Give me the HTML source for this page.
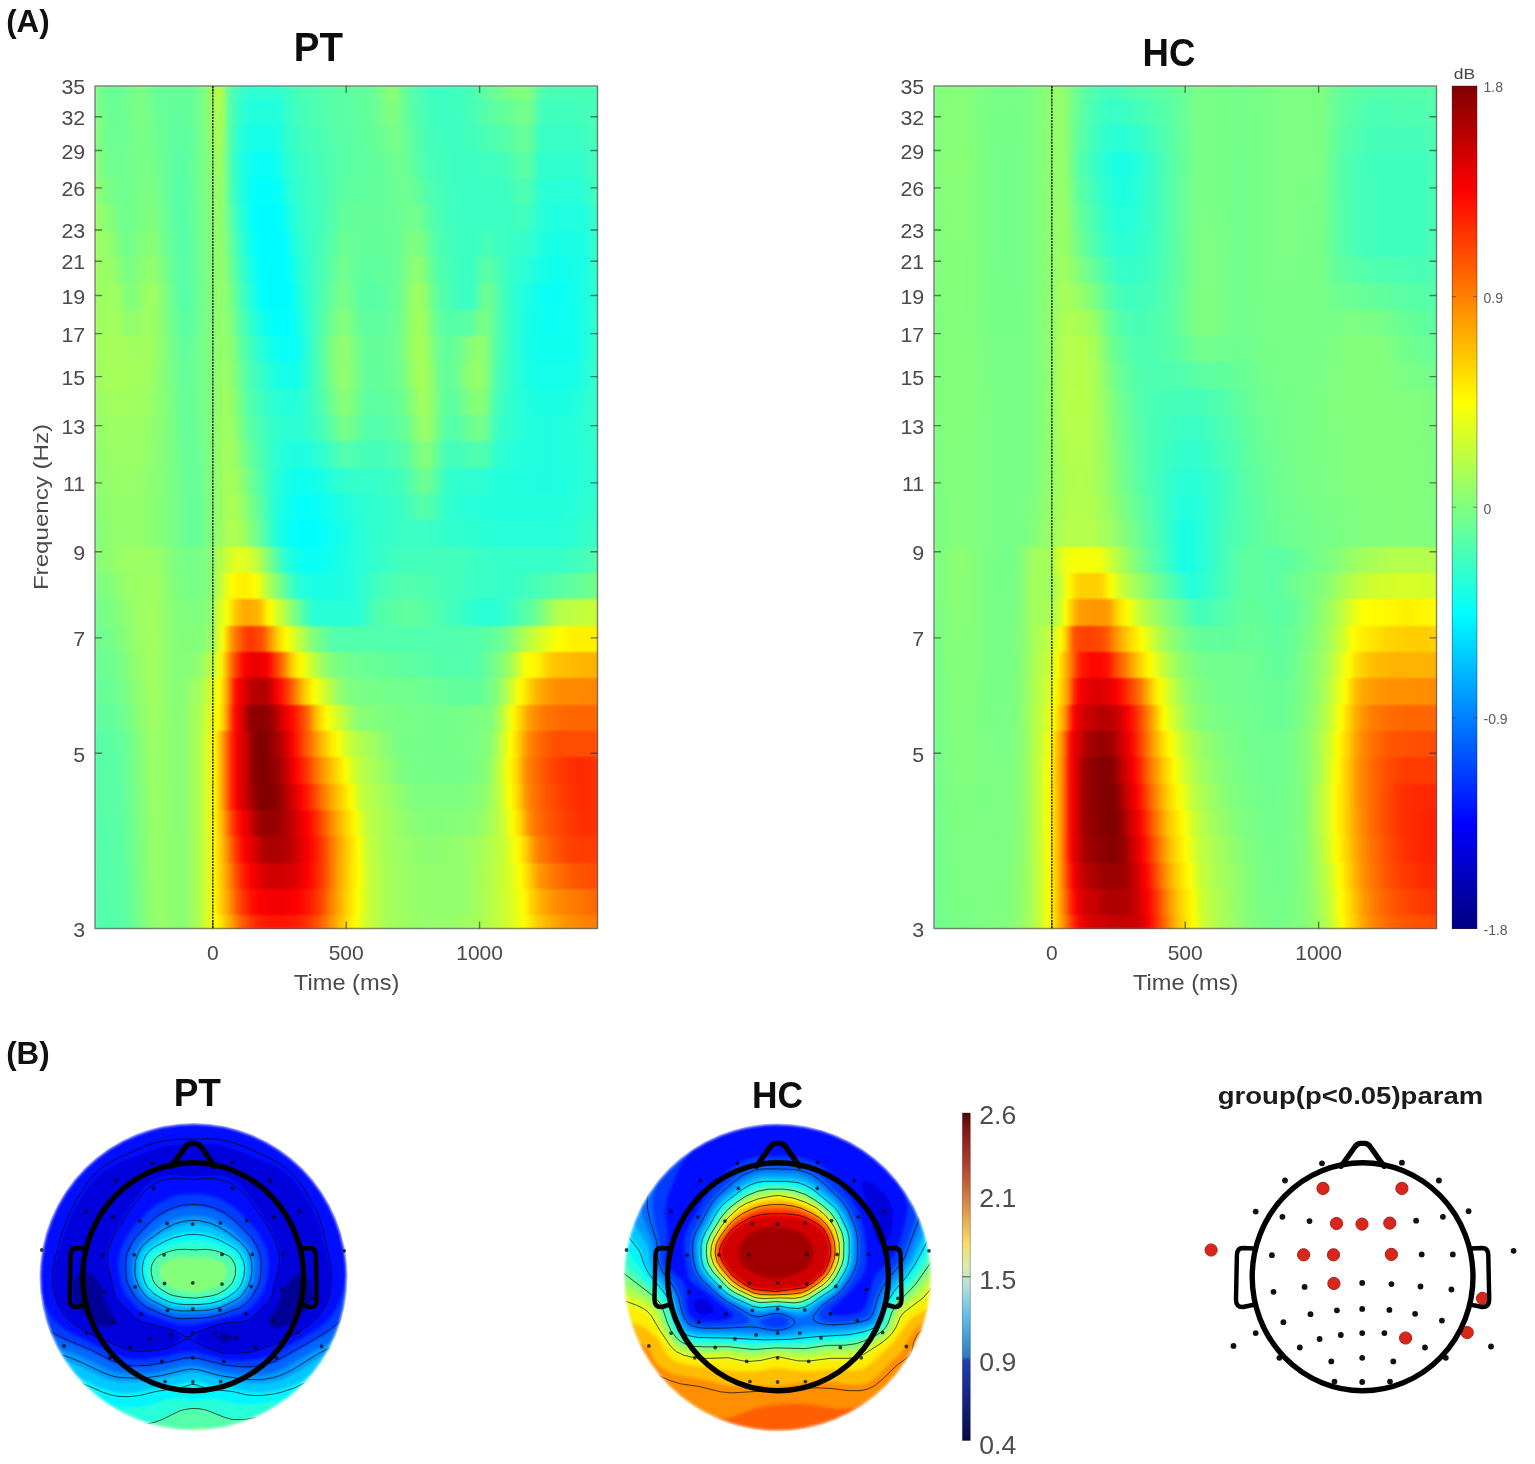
<!DOCTYPE html>
<html lang="en"><head><meta charset="utf-8"><title>Time-frequency and topography figure</title>
<style>
html,body{margin:0;padding:0;background:#fff}
body{width:1535px;height:1464px;position:relative;overflow:hidden;font-family:"Liberation Sans",sans-serif}
.hm{position:absolute;top:86px;width:502.5px;height:842.5px;overflow:hidden}
.hb{position:absolute;left:0;top:0;width:100%;height:100%;filter:blur(1px)}
.hm i{position:absolute;left:0;width:100%;display:block}
.cb{position:absolute}
svg{position:absolute;left:0;top:0}
text{font-family:"Liberation Sans",sans-serif}
</style></head><body>
<div class="hm" style="left:95px"><div class="hb">
<i style="top:0.00px;height:13.76px;background:linear-gradient(90deg,#82ff7d,#78ff87,#70ff8f,#6bff94,#67ff98,#66ff99,#67ff98,#6bff94,#70ff8f,#75ff8a,#79ff86,#7cff83,#7bff84,#76ff89,#6fff90,#69ff96,#66ff99,#66ff99,#66ff99,#66ff99,#66ff99,#66ff99,#66ff99,#66ff99,#66ff99,#69ff96,#71ff8e,#7bff84,#88ff77,#9fff60,#adff52,#b5ff4a,#a7ff58,#75ff8a,#56ffa9,#48ffb7,#3dffc2,#34ffcb,#2fffd0,#2dffd2,#2dffd2,#2dffd2,#2dffd2,#2dffd2,#2dffd2,#2dffd2,#2fffd0,#32ffcd,#38ffc7,#3effc1,#44ffbb,#48ffb7,#4bffb4,#4effb1,#50ffaf,#51ffae,#53ffac,#55ffaa,#56ffa9,#58ffa7,#59ffa6,#5bffa4,#5cffa3,#5dffa2,#5effa1,#5fffa0,#60ff9f,#62ff9d,#64ff9b,#66ff99,#6bff94,#73ff8c,#7dff82,#85ff7a,#8bff74,#8aff75,#7fff80,#6fff90,#61ff9e,#58ffa7,#52ffad,#4dffb2,#48ffb7,#43ffbc,#40ffbf,#3dffc2,#3cffc3,#3cffc3,#3cffc3,#3effc1,#3fffc0,#41ffbe,#44ffbb,#47ffb8,#4affb5,#4effb1,#54ffab,#5affa5,#61ff9e,#66ff99,#6aff95,#6eff91,#72ff8d,#76ff89,#79ff86,#7dff82,#7fff80,#81ff7e,#82ff7d,#7eff81,#6fff90,#5dffa2,#4fffb0,#4affb5,#4affb5,#4affb5,#4affb5,#4affb5,#4affb5,#4affb5,#4affb5,#4affb5,#4affb5,#4affb5,#4affb5,#4affb5,#4affb5)"></i>
<i style="top:13.16px;height:26.93px;background:linear-gradient(90deg,#85ff7a,#7cff83,#74ff8b,#6eff91,#6aff95,#69ff96,#6aff95,#6cff93,#70ff8f,#74ff8b,#78ff87,#7aff85,#7aff85,#76ff89,#72ff8d,#6dff92,#69ff96,#67ff98,#66ff99,#64ff9b,#63ff9c,#62ff9d,#62ff9d,#63ff9c,#65ff9a,#69ff96,#70ff8f,#7aff85,#86ff79,#99ff66,#a6ff59,#adff52,#a0ff5f,#73ff8c,#53ffac,#42ffbd,#36ffc9,#2dffd2,#27ffd8,#23ffdc,#22ffdd,#22ffdd,#22ffdd,#22ffdd,#22ffdd,#22ffdd,#25ffda,#2bffd4,#33ffcc,#39ffc6,#3fffc0,#43ffbc,#46ffb9,#48ffb7,#4bffb4,#4dffb2,#4fffb0,#51ffae,#53ffac,#55ffaa,#57ffa8,#59ffa6,#5affa5,#5cffa3,#5dffa2,#5effa1,#5fffa0,#61ff9e,#62ff9d,#64ff9b,#68ff97,#6dff92,#75ff8a,#7bff84,#80ff7f,#80ff7f,#7aff85,#6fff90,#64ff9b,#5cffa3,#56ffa9,#50ffaf,#4bffb4,#46ffb9,#43ffbc,#40ffbf,#3fffc0,#3effc1,#3effc1,#3effc1,#3fffc0,#40ffbf,#42ffbd,#43ffbc,#45ffba,#48ffb7,#4dffb2,#51ffae,#56ffa9,#59ffa6,#5cffa3,#5fffa0,#62ff9d,#65ff9a,#69ff96,#6cff93,#70ff8f,#73ff8c,#74ff8b,#70ff8f,#61ff9e,#50ffaf,#45ffba,#41ffbe,#41ffbe,#41ffbe,#41ffbe,#41ffbe,#41ffbe,#41ffbe,#41ffbe,#42ffbd,#43ffbc,#44ffbb,#46ffb9,#48ffb7,#4affb5)"></i>
<i style="top:39.49px;height:26.93px;background:linear-gradient(90deg,#87ff78,#7fff80,#77ff88,#70ff8f,#6cff93,#6bff94,#6cff93,#6eff91,#70ff8f,#74ff8b,#76ff89,#78ff87,#79ff86,#77ff88,#74ff8b,#70ff8f,#6cff93,#69ff96,#65ff9a,#62ff9d,#5fffa0,#5effa1,#5effa1,#60ff9f,#63ff9c,#69ff96,#70ff8f,#7aff85,#84ff7b,#93ff6c,#9fff60,#a5ff5a,#99ff66,#71ff8e,#51ffae,#3cffc3,#2fffd0,#26ffd9,#1effe1,#19ffe6,#17ffe8,#16ffe9,#16ffe9,#16ffe9,#16ffe9,#17ffe8,#1cffe3,#25ffda,#2effd1,#34ffcb,#39ffc6,#3effc1,#41ffbe,#43ffbc,#46ffb9,#48ffb7,#4affb5,#4dffb2,#4fffb0,#52ffad,#54ffab,#57ffa8,#59ffa6,#5affa5,#5cffa3,#5dffa2,#5effa1,#5fffa0,#61ff9e,#62ff9d,#65ff9a,#68ff97,#6dff92,#71ff8e,#74ff8b,#76ff89,#75ff8a,#6fff90,#67ff98,#60ff9f,#5affa5,#54ffab,#4effb1,#49ffb6,#46ffb9,#43ffbc,#41ffbe,#40ffbf,#3fffc0,#3fffc0,#3fffc0,#3fffc0,#3fffc0,#40ffbf,#41ffbe,#43ffbc,#45ffba,#48ffb7,#4bffb4,#4dffb2,#4effb1,#50ffaf,#52ffad,#55ffaa,#59ffa6,#5effa1,#63ff9c,#66ff99,#68ff97,#64ff9b,#54ffab,#43ffbc,#3bffc4,#39ffc6,#39ffc6,#39ffc6,#39ffc6,#39ffc6,#39ffc6,#39ffc6,#39ffc6,#3affc5,#3cffc3,#3fffc0,#42ffbd,#46ffb9,#4affb5)"></i>
<i style="top:65.82px;height:26.93px;background:linear-gradient(90deg,#8aff75,#82ff7d,#7aff85,#74ff8b,#6fff90,#6eff91,#6eff91,#6fff90,#71ff8e,#73ff8c,#75ff8a,#77ff88,#77ff88,#78ff87,#77ff88,#74ff8b,#6fff90,#6aff95,#65ff9a,#60ff9f,#5cffa3,#5affa5,#5affa5,#5dffa2,#62ff9d,#68ff97,#70ff8f,#79ff86,#82ff7d,#8dff72,#98ff67,#9eff61,#92ff6d,#70ff8f,#4effb1,#35ffca,#29ffd6,#1effe1,#16ffe9,#0ffff0,#0bfff4,#0afff5,#0afff5,#0afff5,#0afff5,#0cfff3,#13ffec,#1effe1,#28ffd7,#30ffcf,#34ffcb,#38ffc7,#3bffc4,#3effc1,#41ffbe,#44ffbb,#46ffb9,#49ffb6,#4bffb4,#4effb1,#51ffae,#54ffab,#57ffa8,#59ffa6,#5affa5,#5cffa3,#5dffa2,#5effa1,#5fffa0,#60ff9f,#61ff9e,#63ff9c,#65ff9a,#68ff97,#6aff95,#6dff92,#70ff8f,#6eff91,#6aff95,#65ff9a,#5effa1,#58ffa7,#51ffae,#4cffb3,#49ffb6,#46ffb9,#44ffbb,#42ffbd,#41ffbe,#40ffbf,#3effc1,#3effc1,#3dffc2,#3dffc2,#3dffc2,#3effc1,#3effc1,#3fffc0,#40ffbf,#40ffbf,#41ffbe,#41ffbe,#42ffbd,#45ffba,#4affb5,#50ffaf,#55ffaa,#5affa5,#5cffa3,#58ffa7,#47ffb8,#36ffc9,#31ffce,#31ffce,#31ffce,#31ffce,#31ffce,#31ffce,#31ffce,#31ffce,#31ffce,#32ffcd,#35ffca,#39ffc6,#3effc1,#44ffbb,#4affb5)"></i>
<i style="top:92.15px;height:26.93px;background:linear-gradient(90deg,#91ff6e,#8aff75,#83ff7c,#7dff82,#78ff87,#74ff8b,#71ff8e,#70ff8f,#70ff8f,#72ff8d,#75ff8a,#77ff88,#79ff86,#7bff84,#7bff84,#78ff87,#73ff8c,#6cff93,#66ff99,#5fffa0,#5bffa4,#58ffa7,#59ffa6,#5cffa3,#61ff9e,#68ff97,#6fff90,#78ff87,#7fff80,#89ff76,#93ff6c,#98ff67,#8eff71,#72ff8d,#53ffac,#3affc5,#2cffd3,#20ffdf,#15ffea,#0cfff3,#05fffa,#02fffd,#02fffd,#02fffd,#02fffd,#03fffc,#09fff6,#12ffed,#1effe1,#28ffd7,#2fffd0,#33ffcc,#37ffc8,#3bffc4,#3effc1,#41ffbe,#43ffbc,#47ffb8,#4affb5,#4effb1,#53ffac,#57ffa8,#5bffa4,#5cffa3,#5effa1,#5fffa0,#5fffa0,#60ff9f,#61ff9e,#61ff9e,#62ff9d,#63ff9c,#64ff9b,#65ff9a,#66ff99,#69ff96,#6dff92,#6eff91,#6dff92,#6bff94,#67ff98,#61ff9e,#5bffa4,#55ffaa,#4fffb0,#4bffb4,#47ffb8,#45ffba,#43ffbc,#41ffbe,#3fffc0,#3effc1,#3cffc3,#3cffc3,#3cffc3,#3cffc3,#3cffc3,#3cffc3,#3cffc3,#3cffc3,#3cffc3,#3cffc3,#3cffc3,#3effc1,#41ffbe,#46ffb9,#4affb5,#4dffb2,#4fffb0,#4affb5,#3dffc2,#2fffd0,#2bffd4,#2affd5,#29ffd6,#28ffd7,#28ffd7,#28ffd7,#28ffd7,#28ffd7,#28ffd7,#2affd5,#2cffd3,#31ffce,#37ffc8,#3effc1,#45ffba)"></i>
<i style="top:118.48px;height:26.93px;background:linear-gradient(90deg,#9aff65,#95ff6a,#90ff6f,#8aff75,#84ff7b,#7dff82,#75ff8a,#70ff8f,#6fff90,#72ff8d,#75ff8a,#79ff86,#7cff83,#7fff80,#80ff7f,#7dff82,#77ff88,#6fff90,#67ff98,#60ff9f,#5bffa4,#58ffa7,#58ffa7,#5bffa4,#60ff9f,#67ff98,#6dff92,#75ff8a,#7dff82,#86ff79,#90ff6f,#95ff6a,#8dff72,#77ff88,#5dffa2,#45ffba,#35ffca,#27ffd8,#19ffe6,#0cfff3,#02fffd,#00fcff,#00fcff,#00fcff,#00fcff,#00fcff,#00feff,#04fffb,#10ffef,#1effe1,#29ffd6,#2fffd0,#34ffcb,#38ffc7,#3bffc4,#3fffc0,#42ffbd,#46ffb9,#4affb5,#50ffaf,#57ffa8,#5dffa2,#62ff9d,#63ff9c,#63ff9c,#64ff9b,#64ff9b,#64ff9b,#64ff9b,#64ff9b,#65ff9a,#65ff9a,#65ff9a,#66ff99,#66ff99,#68ff97,#6bff94,#6eff91,#71ff8e,#72ff8d,#72ff8d,#6fff90,#69ff96,#61ff9e,#58ffa7,#50ffaf,#4affb5,#47ffb8,#44ffbb,#42ffbd,#40ffbf,#3effc1,#3dffc2,#3cffc3,#3cffc3,#3cffc3,#3cffc3,#3cffc3,#3cffc3,#3cffc3,#3cffc3,#3cffc3,#3cffc3,#3cffc3,#3dffc2,#3fffc0,#40ffbf,#41ffbe,#40ffbf,#3cffc3,#35ffca,#2dffd2,#28ffd7,#24ffdb,#22ffdd,#20ffdf,#20ffdf,#20ffdf,#20ffdf,#20ffdf,#20ffdf,#21ffde,#22ffdd,#26ffd9,#2dffd2,#35ffca,#3fffc0)"></i>
<i style="top:144.80px;height:26.93px;background:linear-gradient(90deg,#9fff60,#9bff64,#97ff68,#93ff6c,#8eff71,#87ff78,#7eff81,#76ff89,#73ff8c,#75ff8a,#79ff86,#7eff81,#83ff7c,#86ff79,#87ff78,#84ff7b,#7eff81,#75ff8a,#6cff93,#64ff9b,#5dffa2,#59ffa6,#58ffa7,#5bffa4,#5fffa0,#65ff9a,#6cff93,#74ff8b,#7bff84,#84ff7b,#8dff72,#93ff6c,#8eff71,#7cff83,#66ff99,#50ffaf,#3fffc0,#2fffd0,#20ffdf,#12ffed,#06fff9,#00feff,#00fcff,#00fcff,#00fcff,#00fcff,#00fcff,#00fcff,#05fffa,#14ffeb,#21ffde,#29ffd6,#2fffd0,#35ffca,#3affc5,#3effc1,#43ffbc,#48ffb7,#4dffb2,#54ffab,#5cffa3,#64ff9b,#68ff97,#69ff96,#68ff97,#66ff99,#65ff9a,#63ff9c,#63ff9c,#63ff9c,#63ff9c,#64ff9b,#64ff9b,#65ff9a,#65ff9a,#67ff98,#6aff95,#6fff90,#76ff89,#7bff84,#7fff80,#7eff81,#78ff87,#6dff92,#62ff9d,#57ffa8,#4fffb0,#4bffb4,#47ffb8,#44ffbb,#41ffbe,#3fffc0,#3dffc2,#3cffc3,#3cffc3,#3dffc2,#41ffbe,#45ffba,#46ffb9,#45ffba,#43ffbc,#40ffbf,#3effc1,#3cffc3,#3affc5,#39ffc6,#38ffc7,#36ffc9,#34ffcb,#30ffcf,#2bffd4,#26ffd9,#21ffde,#1dffe2,#1affe5,#18ffe7,#18ffe7,#19ffe6,#19ffe6,#1affe5,#1affe5,#1bffe4,#1cffe3,#20ffdf,#27ffd8,#30ffcf,#3affc5)"></i>
<i style="top:171.13px;height:26.93px;background:linear-gradient(90deg,#9fff60,#9dff62,#9bff64,#98ff67,#96ff69,#92ff6d,#8bff74,#82ff7d,#7cff83,#7bff84,#7fff80,#85ff7a,#8cff73,#91ff6e,#92ff6d,#8fff70,#88ff77,#7eff81,#73ff8c,#69ff96,#61ff9e,#5bffa4,#59ffa6,#5affa5,#5effa1,#64ff9b,#6bff94,#74ff8b,#7bff84,#84ff7b,#8dff72,#92ff6d,#90ff6f,#83ff7c,#6fff90,#5bffa4,#49ffb6,#39ffc6,#2bffd4,#1cffe3,#10ffef,#05fffa,#00feff,#00fcff,#00fcff,#00fcff,#00fcff,#00fcff,#00fdff,#0afff5,#17ffe8,#22ffdd,#2bffd4,#32ffcd,#39ffc6,#3fffc0,#45ffba,#4cffb3,#52ffad,#5affa5,#63ff9c,#6bff94,#6fff90,#6fff90,#6bff94,#67ff98,#62ff9d,#5fffa0,#5effa1,#5effa1,#5fffa0,#60ff9f,#61ff9e,#62ff9d,#64ff9b,#66ff99,#6aff95,#72ff8d,#7cff83,#85ff7a,#8cff73,#8eff71,#87ff78,#7bff84,#6cff93,#5fffa0,#55ffaa,#50ffaf,#4bffb4,#47ffb8,#43ffbc,#40ffbf,#3effc1,#3cffc3,#3cffc3,#40ffbf,#4bffb4,#56ffa9,#59ffa6,#56ffa9,#51ffae,#4affb5,#42ffbd,#3cffc3,#37ffc8,#34ffcb,#30ffcf,#2dffd2,#29ffd6,#25ffda,#21ffde,#1cffe3,#18ffe7,#15ffea,#12ffed,#11ffee,#11ffee,#12ffed,#13ffec,#14ffeb,#16ffe9,#18ffe7,#1affe5,#1fffe0,#25ffda,#2effd1,#37ffc8)"></i>
<i style="top:197.46px;height:26.93px;background:linear-gradient(90deg,#9fff60,#9eff61,#9eff61,#9eff61,#9eff61,#9dff62,#98ff67,#8eff71,#84ff7b,#81ff7e,#85ff7a,#8dff72,#95ff6a,#9bff64,#9dff62,#99ff66,#92ff6d,#87ff78,#7bff84,#6fff90,#65ff9a,#5dffa2,#59ffa6,#58ffa7,#5cffa3,#63ff9c,#6bff94,#73ff8c,#7bff84,#83ff7c,#8cff73,#92ff6d,#92ff6d,#89ff76,#79ff86,#66ff99,#54ffab,#43ffbc,#35ffca,#27ffd8,#19ffe6,#0cfff3,#02fffd,#00fcff,#00fcff,#00fcff,#00fcff,#00fcff,#00fcff,#00ffff,#0efff1,#1bffe4,#26ffd9,#2fffd0,#38ffc7,#40ffbf,#48ffb7,#50ffaf,#58ffa7,#61ff9e,#6aff95,#73ff8c,#77ff88,#75ff8a,#6fff90,#67ff98,#5fffa0,#5affa5,#59ffa6,#59ffa6,#5affa5,#5cffa3,#5dffa2,#60ff9f,#62ff9d,#65ff9a,#6aff95,#75ff8a,#82ff7d,#8fff70,#99ff66,#9dff62,#97ff68,#8aff75,#78ff87,#67ff98,#5bffa4,#54ffab,#4fffb0,#4affb5,#45ffba,#41ffbe,#3effc1,#3cffc3,#3cffc3,#44ffbb,#56ffa9,#67ff98,#6cff93,#68ff97,#5fffa0,#53ffac,#47ffb8,#3cffc3,#34ffcb,#2effd1,#29ffd6,#24ffdb,#1fffe0,#1affe5,#16ffe9,#12ffed,#0ffff0,#0cfff3,#0afff5,#0afff5,#0afff5,#0bfff4,#0dfff2,#0ffff0,#12ffed,#15ffea,#18ffe7,#1dffe2,#24ffdb,#2bffd4,#33ffcc)"></i>
<i style="top:223.79px;height:26.93px;background:linear-gradient(90deg,#9fff60,#a0ff5f,#a1ff5e,#a1ff5e,#a2ff5d,#a2ff5d,#9fff60,#99ff66,#92ff6d,#90ff6f,#92ff6d,#96ff69,#9bff64,#9eff61,#9eff61,#9aff65,#93ff6c,#89ff76,#7eff81,#73ff8c,#69ff96,#62ff9d,#5effa1,#5effa1,#61ff9e,#66ff99,#6dff92,#74ff8b,#7bff84,#83ff7c,#8bff74,#92ff6d,#94ff6b,#8eff71,#81ff7e,#70ff8f,#5fffa0,#4fffb0,#41ffbe,#35ffca,#28ffd7,#1dffe2,#13ffec,#0bfff4,#07fff8,#03fffc,#01fffe,#00feff,#00fdff,#03fffc,#0bfff4,#15ffea,#20ffdf,#2cffd3,#36ffc9,#40ffbf,#4bffb4,#56ffa9,#60ff9f,#6bff94,#76ff89,#7fff80,#83ff7c,#81ff7e,#7aff85,#71ff8e,#68ff97,#61ff9e,#5effa1,#5effa1,#5effa1,#60ff9f,#61ff9e,#63ff9c,#66ff99,#69ff96,#6dff92,#78ff87,#85ff7a,#92ff6d,#9dff62,#a2ff5d,#9eff61,#93ff6c,#82ff7d,#71ff8e,#64ff9b,#5cffa3,#58ffa7,#56ffa9,#55ffaa,#56ffa9,#58ffa7,#5affa5,#5cffa3,#64ff9b,#70ff8f,#7bff84,#78ff87,#6dff92,#60ff9f,#52ffad,#47ffb8,#3cffc3,#34ffcb,#2effd1,#28ffd7,#22ffdd,#1cffe3,#18ffe7,#14ffeb,#11ffee,#0ffff0,#0dfff2,#0cfff3,#0cfff3,#0cfff3,#0dfff2,#0efff1,#0ffff0,#12ffed,#15ffea,#19ffe6,#1fffe0,#26ffd9,#2effd1,#36ffc9)"></i>
<i style="top:250.12px;height:26.93px;background:linear-gradient(90deg,#9fff60,#a1ff5e,#a3ff5c,#a4ff5b,#a5ff5a,#a6ff59,#a6ff59,#a4ff5b,#a1ff5e,#a0ff5f,#a0ff5f,#a0ff5f,#a0ff5f,#a0ff5f,#9eff61,#9aff65,#93ff6c,#8aff75,#80ff7f,#76ff89,#6eff91,#68ff97,#64ff9b,#64ff9b,#66ff99,#6aff95,#6fff90,#76ff89,#7cff83,#82ff7d,#8bff74,#92ff6d,#96ff69,#93ff6c,#8aff75,#7bff84,#6bff94,#5cffa3,#4effb1,#43ffbc,#39ffc6,#2fffd0,#26ffd9,#1effe1,#17ffe8,#11ffee,#0dfff2,#0afff5,#08fff7,#08fff7,#09fff6,#0ffff0,#1affe5,#28ffd7,#35ffca,#41ffbe,#4effb1,#5cffa3,#69ff96,#77ff88,#83ff7c,#8cff73,#90ff6f,#8eff71,#87ff78,#7eff81,#73ff8c,#6bff94,#65ff9a,#64ff9b,#64ff9b,#65ff9a,#66ff99,#68ff97,#6aff95,#6cff93,#71ff8e,#7bff84,#88ff77,#95ff6a,#a0ff5f,#a6ff59,#a5ff5a,#9bff64,#8cff73,#7cff83,#6eff91,#65ff9a,#62ff9d,#64ff9b,#68ff97,#6eff91,#75ff8a,#7dff82,#85ff7a,#8bff74,#91ff6e,#90ff6f,#84ff7b,#72ff8d,#60ff9f,#50ffaf,#46ffb9,#3dffc2,#35ffca,#2effd1,#27ffd8,#21ffde,#1bffe4,#17ffe8,#13ffec,#11ffee,#10ffef,#10ffef,#10ffef,#0ffff0,#10ffef,#10ffef,#10ffef,#11ffee,#12ffed,#15ffea,#1affe5,#21ffde,#29ffd6,#31ffce,#3affc5)"></i>
<i style="top:276.45px;height:26.93px;background:linear-gradient(90deg,#9cff63,#9fff60,#a1ff5e,#a3ff5c,#a4ff5b,#a5ff5a,#a6ff59,#a6ff59,#a5ff5a,#a5ff5a,#a4ff5b,#a2ff5d,#a0ff5f,#9eff61,#9bff64,#97ff68,#91ff6e,#8aff75,#82ff7d,#79ff86,#71ff8e,#6bff94,#67ff98,#66ff99,#68ff97,#6bff94,#70ff8f,#76ff89,#7cff83,#82ff7d,#8bff74,#93ff6c,#98ff67,#98ff67,#91ff6e,#84ff7b,#74ff8b,#64ff9b,#56ffa9,#4cffb3,#44ffbb,#3bffc4,#33ffcc,#2cffd3,#25ffda,#1fffe0,#1bffe4,#17ffe8,#15ffea,#13ffec,#12ffed,#16ffe9,#1fffe0,#2bffd4,#36ffc9,#41ffbe,#4dffb2,#5affa5,#67ff98,#75ff8a,#81ff7e,#8bff74,#90ff6f,#8fff70,#88ff77,#7fff80,#74ff8b,#6bff94,#65ff9a,#62ff9d,#63ff9c,#63ff9c,#65ff9a,#66ff99,#68ff97,#6bff94,#6fff90,#77ff88,#82ff7d,#8fff70,#9bff64,#a3ff5c,#a4ff5b,#9eff61,#92ff6d,#83ff7c,#73ff8c,#68ff97,#64ff9b,#65ff9a,#6aff95,#71ff8e,#7bff84,#85ff7a,#8eff71,#94ff6b,#97ff68,#92ff6d,#83ff7c,#6eff91,#5bffa4,#4cffb3,#43ffbc,#3bffc4,#34ffcb,#2effd1,#28ffd7,#22ffdd,#1effe1,#1affe5,#17ffe8,#15ffea,#15ffea,#15ffea,#15ffea,#15ffea,#15ffea,#15ffea,#16ffe9,#16ffe9,#17ffe8,#1affe5,#1fffe0,#25ffda,#2cffd3,#34ffcb,#3cffc3)"></i>
<i style="top:302.77px;height:26.93px;background:linear-gradient(90deg,#98ff67,#9bff64,#9dff62,#9fff60,#a0ff5f,#a1ff5e,#a1ff5e,#a1ff5e,#a1ff5e,#a1ff5e,#a0ff5f,#9fff60,#9cff63,#9aff65,#97ff68,#93ff6c,#8eff71,#89ff76,#82ff7d,#7bff84,#74ff8b,#6dff92,#69ff96,#67ff98,#67ff98,#6aff95,#6eff91,#75ff8a,#7bff84,#83ff7c,#8bff74,#94ff6b,#9aff65,#9cff63,#97ff68,#8aff75,#7aff85,#6aff95,#5cffa3,#53ffac,#4bffb4,#44ffbb,#3dffc2,#37ffc8,#31ffce,#2cffd3,#29ffd6,#26ffd9,#24ffdb,#23ffdc,#23ffdc,#26ffd9,#2bffd4,#33ffcc,#3affc5,#42ffbd,#4affb5,#52ffad,#5dffa2,#69ff96,#76ff89,#80ff7f,#86ff79,#87ff78,#81ff7e,#78ff87,#6eff91,#65ff9a,#5fffa0,#5cffa3,#5cffa3,#5dffa2,#5fffa0,#61ff9e,#63ff9c,#65ff9a,#69ff96,#6eff91,#78ff87,#84ff7b,#90ff6f,#9aff65,#a0ff5f,#9eff61,#95ff6a,#86ff79,#76ff89,#68ff97,#5fffa0,#5dffa2,#60ff9f,#66ff99,#6eff91,#77ff88,#80ff7f,#86ff79,#8aff75,#88ff77,#7aff85,#67ff98,#53ffac,#44ffbb,#3dffc2,#38ffc7,#33ffcc,#2effd1,#2affd5,#26ffd9,#23ffdc,#20ffdf,#1effe1,#1cffe3,#1bffe4,#1bffe4,#1bffe4,#1bffe4,#1bffe4,#1cffe3,#1dffe2,#1effe1,#20ffdf,#23ffdc,#27ffd8,#2bffd4,#30ffcf,#36ffc9,#3cffc3)"></i>
<i style="top:329.10px;height:26.93px;background:linear-gradient(90deg,#94ff6b,#97ff68,#99ff66,#9aff65,#9cff63,#9dff62,#9dff62,#9dff62,#9eff61,#9eff61,#9dff62,#9bff64,#99ff66,#96ff69,#93ff6c,#8fff70,#8cff73,#88ff77,#83ff7c,#7cff83,#76ff89,#6fff90,#6aff95,#67ff98,#66ff99,#68ff97,#6dff92,#74ff8b,#7bff84,#83ff7c,#8cff73,#95ff6a,#9cff63,#9fff60,#9cff63,#91ff6e,#82ff7d,#71ff8e,#64ff9b,#5affa5,#53ffac,#4cffb3,#46ffb9,#3fffc0,#39ffc6,#34ffcb,#30ffcf,#2dffd2,#2bffd4,#2affd5,#2affd5,#2cffd3,#2fffd0,#32ffcd,#37ffc8,#3cffc3,#41ffbe,#47ffb8,#4fffb0,#5affa5,#64ff9b,#6dff92,#74ff8b,#75ff8a,#72ff8d,#6bff94,#63ff9c,#5bffa4,#55ffaa,#53ffac,#54ffab,#55ffaa,#56ffa9,#58ffa7,#5affa5,#5dffa2,#60ff9f,#63ff9c,#6bff94,#76ff89,#83ff7c,#8eff71,#96ff69,#97ff68,#90ff6f,#83ff7c,#72ff8d,#63ff9c,#58ffa7,#53ffac,#54ffab,#58ffa7,#5effa1,#65ff9a,#6bff94,#71ff8e,#75ff8a,#74ff8b,#69ff96,#59ffa6,#49ffb6,#3cffc3,#36ffc9,#33ffcc,#30ffcf,#2dffd2,#2affd5,#27ffd8,#25ffda,#24ffdb,#22ffdd,#21ffde,#20ffdf,#1fffe0,#1fffe0,#1fffe0,#20ffdf,#21ffde,#22ffdd,#24ffdb,#26ffd9,#28ffd7,#2bffd4,#2effd1,#32ffcd,#36ffc9,#3affc5)"></i>
<i style="top:355.43px;height:26.93px;background:linear-gradient(90deg,#90ff6f,#93ff6c,#95ff6a,#97ff68,#98ff67,#99ff66,#99ff66,#9aff65,#9aff65,#9aff65,#99ff66,#98ff67,#96ff69,#93ff6c,#90ff6f,#8dff72,#89ff76,#86ff79,#82ff7d,#7cff83,#76ff89,#71ff8e,#6cff93,#68ff97,#67ff98,#67ff98,#6bff94,#73ff8c,#7bff84,#83ff7c,#8cff73,#95ff6a,#9dff62,#a1ff5e,#a0ff5f,#99ff66,#8dff72,#7eff81,#70ff8f,#65ff9a,#5cffa3,#53ffac,#4affb5,#40ffbf,#38ffc7,#30ffcf,#2affd5,#26ffd9,#22ffdd,#20ffdf,#1effe1,#1effe1,#1fffe0,#21ffde,#24ffdb,#28ffd7,#2cffd3,#31ffce,#37ffc8,#3effc1,#46ffb9,#4cffb3,#51ffae,#53ffac,#52ffad,#4fffb0,#4cffb3,#48ffb7,#45ffba,#45ffba,#45ffba,#46ffb9,#48ffb7,#49ffb6,#4bffb4,#4dffb2,#50ffaf,#53ffac,#5affa5,#64ff9b,#6fff90,#79ff86,#80ff7f,#82ff7d,#7bff84,#6eff91,#60ff9f,#53ffac,#48ffb7,#43ffbc,#43ffbc,#44ffbb,#47ffb8,#4affb5,#4dffb2,#50ffaf,#51ffae,#50ffaf,#4affb5,#41ffbe,#37ffc8,#30ffcf,#2dffd2,#2affd5,#29ffd6,#27ffd8,#25ffda,#24ffdb,#23ffdc,#22ffdd,#21ffde,#20ffdf,#20ffdf,#1fffe0,#1fffe0,#1fffe0,#20ffdf,#21ffde,#22ffdd,#23ffdc,#25ffda,#27ffd8,#29ffd6,#2cffd3,#2effd1,#31ffce,#34ffcb)"></i>
<i style="top:381.76px;height:26.93px;background:linear-gradient(90deg,#8dff72,#8fff70,#91ff6e,#93ff6c,#94ff6b,#95ff6a,#96ff69,#96ff69,#96ff69,#96ff69,#96ff69,#94ff6b,#92ff6d,#90ff6f,#8dff72,#8aff75,#87ff78,#84ff7b,#81ff7e,#7cff83,#77ff88,#72ff8d,#6dff92,#69ff96,#67ff98,#66ff99,#6aff95,#72ff8d,#7bff84,#83ff7c,#8dff72,#96ff69,#9eff61,#a3ff5c,#a5ff5a,#a1ff5e,#98ff67,#8bff74,#7dff82,#6fff90,#64ff9b,#5affa5,#4effb1,#42ffbd,#36ffc9,#2cffd3,#24ffdb,#1effe1,#1affe5,#15ffea,#12ffed,#10ffef,#0efff1,#0ffff0,#11ffee,#13ffec,#17ffe8,#1bffe4,#1fffe0,#23ffdc,#27ffd8,#2bffd4,#2effd1,#31ffce,#33ffcc,#34ffcb,#34ffcb,#35ffca,#35ffca,#36ffc9,#37ffc8,#38ffc7,#39ffc6,#3affc5,#3cffc3,#3effc1,#40ffbf,#43ffbc,#4affb5,#53ffac,#5dffa2,#65ff9a,#6bff94,#6cff93,#67ff98,#5dffa2,#50ffaf,#43ffbc,#38ffc7,#33ffcc,#31ffce,#30ffcf,#30ffcf,#2fffd0,#2fffd0,#2fffd0,#2effd1,#2dffd2,#2bffd4,#28ffd7,#25ffda,#23ffdc,#23ffdc,#22ffdd,#22ffdd,#21ffde,#21ffde,#20ffdf,#20ffdf,#20ffdf,#20ffdf,#1fffe0,#1fffe0,#1fffe0,#1fffe0,#1fffe0,#20ffdf,#20ffdf,#21ffde,#23ffdc,#24ffdb,#25ffda,#27ffd8,#29ffd6,#2bffd4,#2dffd2,#2fffd0)"></i>
<i style="top:408.09px;height:26.93px;background:linear-gradient(90deg,#88ff77,#8bff74,#8dff72,#90ff6f,#91ff6e,#93ff6c,#94ff6b,#95ff6a,#95ff6a,#95ff6a,#94ff6b,#93ff6c,#91ff6e,#8fff70,#8cff73,#89ff76,#86ff79,#83ff7c,#80ff7f,#7cff83,#77ff88,#72ff8d,#6dff92,#6aff95,#67ff98,#66ff99,#69ff96,#72ff8d,#7bff84,#84ff7b,#8dff72,#96ff69,#9fff60,#a5ff5a,#a9ff56,#a8ff57,#a1ff5e,#97ff68,#89ff76,#7bff84,#6eff91,#62ff9d,#54ffab,#45ffba,#36ffc9,#29ffd6,#20ffdf,#19ffe6,#14ffeb,#0ffff0,#0afff5,#07fff8,#05fffa,#04fffb,#05fffa,#07fff8,#0afff5,#0efff1,#12ffed,#15ffea,#18ffe7,#1bffe4,#1effe1,#21ffde,#24ffdb,#27ffd8,#2affd5,#2cffd3,#2effd1,#30ffcf,#31ffce,#33ffcc,#34ffcb,#35ffca,#37ffc8,#38ffc7,#3affc5,#3cffc3,#41ffbe,#46ffb9,#4cffb3,#51ffae,#54ffab,#55ffaa,#51ffae,#4affb5,#42ffbd,#3affc5,#33ffcc,#30ffcf,#2effd1,#2cffd3,#2bffd4,#29ffd6,#28ffd7,#27ffd8,#26ffd9,#25ffda,#24ffdb,#23ffdc,#23ffdc,#22ffdd,#22ffdd,#22ffdd,#22ffdd,#22ffdd,#22ffdd,#22ffdd,#22ffdd,#22ffdd,#22ffdd,#22ffdd,#22ffdd,#22ffdd,#22ffdd,#23ffdc,#23ffdc,#24ffdb,#25ffda,#26ffd9,#27ffd8,#29ffd6,#2bffd4,#2dffd2,#2fffd0,#31ffce,#33ffcc)"></i>
<i style="top:434.41px;height:26.93px;background:linear-gradient(90deg,#82ff7d,#86ff79,#8aff75,#8dff72,#8fff70,#92ff6d,#93ff6c,#94ff6b,#95ff6a,#95ff6a,#94ff6b,#93ff6c,#91ff6e,#8fff70,#8cff73,#89ff76,#86ff79,#83ff7c,#80ff7f,#7cff83,#77ff88,#72ff8d,#6dff92,#6aff95,#67ff98,#66ff99,#69ff96,#72ff8d,#7bff84,#84ff7b,#8dff72,#97ff68,#a0ff5f,#a8ff57,#acff53,#aeff51,#aaff55,#a1ff5e,#94ff6b,#87ff78,#79ff86,#6bff94,#5bffa4,#49ffb6,#38ffc7,#28ffd7,#1dffe2,#16ffe9,#10ffef,#0afff5,#05fffa,#01fffe,#00feff,#00fdff,#00fdff,#00ffff,#03fffc,#06fff9,#0afff5,#0dfff2,#11ffee,#14ffeb,#17ffe8,#1bffe4,#1fffe0,#22ffdd,#25ffda,#29ffd6,#2bffd4,#2effd1,#30ffcf,#31ffce,#33ffcc,#35ffca,#37ffc8,#38ffc7,#3affc5,#3bffc4,#3cffc3,#3cffc3,#3cffc3,#3cffc3,#3cffc3,#3bffc4,#3affc5,#38ffc7,#37ffc8,#35ffca,#34ffcb,#33ffcc,#32ffcd,#31ffce,#30ffcf,#2effd1,#2dffd2,#2cffd3,#2bffd4,#2affd5,#29ffd6,#28ffd7,#28ffd7,#27ffd8,#27ffd8,#27ffd8,#27ffd8,#27ffd8,#27ffd8,#27ffd8,#27ffd8,#27ffd8,#27ffd8,#27ffd8,#27ffd8,#27ffd8,#27ffd8,#28ffd7,#28ffd7,#29ffd6,#2affd5,#2cffd3,#2dffd2,#2fffd0,#32ffcd,#34ffcb,#36ffc9,#39ffc6,#3bffc4)"></i>
<i style="top:460.74px;height:26.93px;background:linear-gradient(90deg,#86ff79,#89ff76,#8bff74,#8eff71,#91ff6e,#94ff6b,#98ff67,#9bff64,#9dff62,#9dff62,#9dff62,#9dff62,#9cff63,#9bff64,#9aff65,#99ff66,#96ff69,#91ff6e,#8aff75,#84ff7b,#7eff81,#7aff85,#79ff86,#78ff87,#78ff87,#78ff87,#79ff86,#7cff83,#81ff7e,#89ff76,#9bff64,#afff50,#bcff43,#c9ff36,#d5ff2a,#deff21,#e3ff1c,#e2ff1d,#dcff23,#d2ff2d,#c7ff38,#b8ff47,#a3ff5c,#8bff74,#75ff8a,#61ff9e,#4cffb3,#39ffc6,#29ffd6,#1effe1,#18ffe7,#11ffee,#0dfff2,#09fff6,#09fff6,#09fff6,#0bfff4,#0dfff2,#10ffef,#13ffec,#16ffe9,#18ffe7,#1bffe4,#1effe1,#21ffde,#24ffdb,#27ffd8,#2affd5,#2dffd2,#30ffcf,#32ffcd,#35ffca,#37ffc8,#3affc5,#3cffc3,#3fffc0,#41ffbe,#42ffbd,#44ffbb,#44ffbb,#44ffbb,#44ffbb,#44ffbb,#44ffbb,#44ffbb,#44ffbb,#44ffbb,#44ffbb,#44ffbb,#44ffbb,#44ffbb,#43ffbc,#42ffbd,#41ffbe,#3fffc0,#3dffc2,#3cffc3,#3affc5,#39ffc6,#37ffc8,#36ffc9,#36ffc9,#36ffc9,#36ffc9,#36ffc9,#36ffc9,#36ffc9,#36ffc9,#36ffc9,#36ffc9,#36ffc9,#36ffc9,#36ffc9,#36ffc9,#36ffc9,#36ffc9,#37ffc8,#38ffc7,#3affc5,#3cffc3,#3fffc0,#41ffbe,#44ffbb,#48ffb7,#4bffb4,#4fffb0,#52ffad)"></i>
<i style="top:487.07px;height:26.93px;background:linear-gradient(90deg,#7cff83,#7eff81,#80ff7f,#83ff7c,#86ff79,#8aff75,#8eff71,#93ff6c,#97ff68,#99ff66,#9aff65,#9cff63,#9dff62,#9dff62,#9eff61,#9dff62,#9aff65,#95ff6a,#8eff71,#88ff77,#83ff7c,#7fff80,#7cff83,#7aff85,#78ff87,#78ff87,#79ff86,#7cff83,#81ff7e,#89ff76,#9fff60,#b7ff48,#d0ff2f,#e8ff17,#fbff04,#fffa00,#fff400,#fff100,#fff200,#fff700,#fffe00,#f0ff0f,#d5ff2a,#bdff42,#a8ff57,#93ff6c,#7fff80,#6cff93,#59ffa6,#46ffb9,#35ffca,#2affd5,#25ffda,#21ffde,#1dffe2,#1bffe4,#1affe5,#1affe5,#1affe5,#1bffe4,#1cffe3,#1dffe2,#1fffe0,#20ffdf,#22ffdd,#25ffda,#29ffd6,#2effd1,#34ffcb,#39ffc6,#3fffc0,#43ffbc,#45ffba,#48ffb7,#4bffb4,#4dffb2,#4fffb0,#51ffae,#52ffad,#52ffad,#52ffad,#51ffae,#50ffaf,#4effb1,#4dffb2,#4bffb4,#49ffb6,#47ffb8,#45ffba,#44ffbb,#43ffbc,#41ffbe,#40ffbf,#3effc1,#3dffc2,#3bffc4,#3affc5,#39ffc6,#38ffc7,#37ffc8,#36ffc9,#36ffc9,#36ffc9,#36ffc9,#38ffc7,#39ffc6,#3bffc4,#3effc1,#40ffbf,#43ffbc,#46ffb9,#49ffb6,#4cffb3,#4fffb0,#52ffad,#55ffaa,#57ffa8,#5affa5,#5dffa2,#60ff9f,#63ff9c,#66ff99,#69ff96,#6dff92,#70ff8f,#74ff8b,#78ff87)"></i>
<i style="top:513.40px;height:26.93px;background:linear-gradient(90deg,#73ff8c,#75ff8a,#76ff89,#79ff86,#7cff83,#80ff7f,#85ff7a,#8bff74,#91ff6e,#94ff6b,#98ff67,#9cff63,#9fff60,#a1ff5e,#a2ff5d,#a0ff5f,#9cff63,#96ff69,#90ff6f,#8aff75,#86ff79,#83ff7c,#82ff7d,#80ff7f,#80ff7f,#7fff80,#80ff7f,#83ff7c,#87ff78,#91ff6e,#b6ff49,#d1ff2e,#e3ff1c,#f6ff09,#ffe900,#ffcd00,#ffba00,#ffad00,#ffaa00,#ffac00,#ffb000,#ffb600,#ffcb00,#fff000,#f9ff06,#e5ff1a,#d2ff2d,#beff41,#a8ff57,#91ff6e,#7dff82,#69ff96,#56ffa9,#43ffbc,#34ffcb,#2affd5,#28ffd7,#28ffd7,#28ffd7,#28ffd7,#28ffd7,#28ffd7,#28ffd7,#28ffd7,#28ffd7,#28ffd7,#2bffd4,#31ffce,#39ffc6,#41ffbe,#49ffb6,#4fffb0,#53ffac,#56ffa9,#59ffa6,#5bffa4,#5dffa2,#5fffa0,#60ff9f,#60ff9f,#60ff9f,#5effa1,#5cffa3,#59ffa6,#56ffa9,#52ffad,#4effb1,#4bffb4,#47ffb8,#44ffbb,#41ffbe,#3effc1,#3affc5,#36ffc9,#33ffcc,#2fffd0,#2dffd2,#2affd5,#29ffd6,#28ffd7,#28ffd7,#2cffd3,#31ffce,#37ffc8,#3dffc2,#44ffbb,#4affb5,#50ffaf,#58ffa7,#5fffa0,#67ff98,#70ff8f,#7dff82,#8bff74,#9aff65,#a7ff58,#b1ff4e,#b5ff4a,#b8ff47,#bbff44,#beff41,#c0ff3f,#c2ff3d,#c4ff3b,#c5ff3a,#c5ff3a,#c6ff39)"></i>
<i style="top:539.73px;height:26.93px;background:linear-gradient(90deg,#6fff90,#70ff8f,#71ff8e,#73ff8c,#75ff8a,#78ff87,#7dff82,#84ff7b,#8aff75,#8fff70,#94ff6b,#99ff66,#9dff62,#a0ff5f,#a2ff5d,#a0ff5f,#9cff63,#96ff69,#90ff6f,#8bff74,#87ff78,#85ff7a,#85ff7a,#85ff7a,#85ff7a,#85ff7a,#86ff79,#89ff76,#8fff70,#99ff66,#b6ff49,#d6ff29,#fbff04,#ffd200,#ff9f00,#ff7f00,#ff6500,#ff4f00,#ff3b00,#ff3a00,#ff3e00,#ff4500,#ff5400,#ff7400,#ff9500,#ffb900,#ffd700,#ffec00,#fffd00,#ecff13,#d7ff28,#c4ff3b,#b1ff4e,#9fff60,#8eff71,#80ff7f,#74ff8b,#6aff95,#61ff9e,#59ffa6,#54ffab,#52ffad,#52ffad,#52ffad,#52ffad,#52ffad,#52ffad,#52ffad,#52ffad,#52ffad,#52ffad,#52ffad,#52ffad,#52ffad,#52ffad,#52ffad,#52ffad,#52ffad,#52ffad,#52ffad,#52ffad,#52ffad,#52ffad,#52ffad,#52ffad,#52ffad,#52ffad,#52ffad,#52ffad,#52ffad,#52ffad,#52ffad,#52ffad,#52ffad,#52ffad,#53ffac,#55ffaa,#57ffa8,#5bffa4,#5fffa0,#63ff9c,#68ff97,#6dff92,#74ff8b,#7eff81,#8bff74,#99ff66,#a7ff58,#b3ff4c,#beff41,#c8ff37,#d2ff2d,#dcff23,#e5ff1a,#ecff13,#f5ff0a,#fdff02,#fffb00,#fff600,#fff300,#fff200,#fff200,#fff200,#fff200,#fff200,#fff200,#fff200)"></i>
<i style="top:566.05px;height:26.93px;background:linear-gradient(90deg,#6aff95,#6bff94,#6cff93,#6dff92,#6fff90,#72ff8d,#76ff89,#7cff83,#83ff7c,#89ff76,#8eff71,#94ff6b,#99ff66,#9dff62,#9fff60,#9fff60,#9bff64,#96ff69,#90ff6f,#8bff74,#88ff77,#86ff79,#87ff78,#88ff77,#8aff75,#8dff72,#92ff6d,#9cff63,#aaff55,#bfff40,#cfff30,#eaff15,#ffe700,#ffaf00,#ff7900,#ff4d00,#ff2900,#ff0d00,#f70000,#ec0000,#eb0000,#ed0000,#f00000,#f80000,#ff1300,#ff3300,#ff5000,#ff7200,#ff9800,#ffc300,#ffe000,#fff300,#f8ff07,#e3ff1c,#cfff30,#beff41,#adff52,#9dff62,#8fff70,#86ff79,#80ff7f,#7bff84,#76ff89,#73ff8c,#70ff8f,#6eff91,#6cff93,#6bff94,#69ff96,#68ff97,#67ff98,#66ff99,#65ff9a,#64ff9b,#63ff9c,#62ff9d,#61ff9e,#60ff9f,#5fffa0,#5effa1,#5dffa2,#5cffa3,#5affa5,#59ffa6,#58ffa7,#57ffa8,#56ffa9,#55ffaa,#55ffaa,#54ffab,#53ffac,#53ffac,#52ffad,#52ffad,#52ffad,#54ffab,#58ffa7,#5effa1,#65ff9a,#6cff93,#73ff8c,#7dff82,#88ff77,#94ff6b,#a2ff5d,#b4ff4b,#ccff33,#e4ff1b,#f7ff08,#fffc00,#fff700,#fff100,#ffe400,#ffd400,#ffcb00,#ffc700,#ffc300,#ffc000,#ffbd00,#ffbb00,#ffb900,#ffb800,#ffb600,#ffb500,#ffb400,#ffb300,#ffb300)"></i>
<i style="top:592.38px;height:26.93px;background:linear-gradient(90deg,#65ff9a,#65ff9a,#66ff99,#68ff97,#6aff95,#6dff92,#70ff8f,#76ff89,#7cff83,#82ff7d,#88ff77,#8eff71,#95ff6a,#9aff65,#9dff62,#9dff62,#9aff65,#96ff69,#91ff6e,#8cff73,#89ff76,#88ff77,#8aff75,#8fff70,#95ff6a,#9cff63,#a5ff5a,#b2ff4d,#c2ff3d,#d5ff2a,#eaff15,#fffc00,#ffda00,#ffa400,#ff6300,#ff1700,#fa0000,#eb0000,#d70000,#c00000,#b60000,#b40000,#b50000,#b80000,#cb0000,#eb0000,#ff0500,#ff1c00,#ff3600,#ff5500,#ff7700,#ff9900,#ffbb00,#ffd600,#ffed00,#fdff02,#eaff15,#d8ff27,#c8ff37,#b8ff47,#a7ff58,#97ff68,#8aff75,#84ff7b,#80ff7f,#7dff82,#7bff84,#79ff86,#78ff87,#77ff88,#76ff89,#75ff8a,#74ff8b,#74ff8b,#73ff8c,#73ff8c,#72ff8d,#72ff8d,#71ff8e,#70ff8f,#70ff8f,#6fff90,#6eff91,#6dff92,#6cff93,#6aff95,#69ff96,#67ff98,#66ff99,#64ff9b,#63ff9c,#62ff9d,#61ff9e,#60ff9f,#60ff9f,#62ff9d,#65ff9a,#69ff96,#6eff91,#75ff8a,#7dff82,#8cff73,#9dff62,#b1ff4e,#c7ff38,#e0ff1f,#f8ff07,#fff300,#ffe200,#ffd100,#ffbe00,#ffb100,#ffa700,#ff9e00,#ff9700,#ff9100,#ff8d00,#ff8c00,#ff8b00,#ff8a00,#ff8900,#ff8900,#ff8800,#ff8800,#ff8700,#ff8700,#ff8700)"></i>
<i style="top:618.71px;height:26.93px;background:linear-gradient(90deg,#5fffa0,#5fffa0,#60ff9f,#61ff9e,#63ff9c,#65ff9a,#68ff97,#6dff92,#74ff8b,#7bff84,#82ff7d,#89ff76,#90ff6f,#96ff69,#9bff64,#9cff63,#9aff65,#96ff69,#91ff6e,#8dff72,#8aff75,#89ff76,#8cff73,#92ff6d,#9aff65,#a2ff5d,#adff52,#bcff43,#ceff31,#e4ff1b,#f6ff09,#fff700,#ffd400,#ff9700,#ff4f00,#ff0c00,#f10000,#db0000,#af0000,#950000,#8c0000,#890000,#8c0000,#920000,#9a0000,#ab0000,#c40000,#dc0000,#f00000,#ff0400,#ff1800,#ff2d00,#ff4500,#ff6300,#ff8600,#ffaf00,#ffd000,#ffe800,#fffc00,#f0ff0f,#dfff20,#d0ff2f,#c2ff3d,#b3ff4c,#a3ff5c,#96ff69,#8cff73,#88ff77,#86ff79,#83ff7c,#82ff7d,#80ff7f,#7fff80,#7eff81,#7dff82,#7bff84,#7aff85,#79ff86,#78ff87,#77ff88,#76ff89,#76ff89,#75ff8a,#74ff8b,#74ff8b,#74ff8b,#73ff8c,#73ff8c,#74ff8b,#74ff8b,#74ff8b,#75ff8a,#76ff89,#77ff88,#78ff87,#7aff85,#7cff83,#7eff81,#80ff7f,#83ff7c,#8aff75,#a1ff5e,#baff45,#d4ff2b,#efff10,#fff500,#ffde00,#ffc800,#ffb000,#ff9b00,#ff8f00,#ff8500,#ff7c00,#ff7600,#ff7200,#ff6f00,#ff6b00,#ff6900,#ff6700,#ff6600,#ff6600,#ff6600,#ff6600,#ff6600,#ff6600,#ff6600,#ff6600)"></i>
<i style="top:645.04px;height:26.93px;background:linear-gradient(90deg,#59ffa6,#59ffa6,#5affa5,#5bffa4,#5cffa3,#5effa1,#60ff9f,#64ff9b,#6bff94,#74ff8b,#7bff84,#83ff7c,#8bff74,#92ff6d,#98ff67,#9aff65,#98ff67,#95ff6a,#91ff6e,#8eff71,#8bff74,#8aff75,#8dff72,#92ff6d,#9aff65,#a2ff5d,#afff50,#c2ff3d,#d5ff2a,#eaff15,#fff600,#ffce00,#ff9e00,#ff6800,#ff3300,#ff0e00,#f00000,#db0000,#c70000,#a10000,#870000,#800000,#800000,#860000,#900000,#9d0000,#ad0000,#c00000,#d80000,#f20000,#ff0d00,#ff2700,#ff4100,#ff5a00,#ff7200,#ff8b00,#ffa500,#ffbd00,#ffd200,#ffe400,#fff400,#f8ff07,#e4ff1b,#d2ff2d,#c5ff3a,#bcff43,#b4ff4b,#adff52,#a7ff58,#a2ff5d,#9cff63,#96ff69,#90ff6f,#89ff76,#83ff7c,#7eff81,#7aff85,#78ff87,#77ff88,#76ff89,#76ff89,#75ff8a,#74ff8b,#74ff8b,#74ff8b,#74ff8b,#73ff8c,#73ff8c,#74ff8b,#74ff8b,#75ff8a,#76ff89,#77ff88,#78ff87,#7aff85,#7cff83,#7eff81,#81ff7e,#84ff7b,#8aff75,#9cff63,#b1ff4e,#c7ff38,#e3ff1c,#ffff00,#ffea00,#ffd400,#ffb800,#ff9900,#ff8600,#ff7900,#ff6e00,#ff6600,#ff5f00,#ff5700,#ff5100,#ff4d00,#ff4c00,#ff4c00,#ff4c00,#ff4c00,#ff4c00,#ff4c00,#ff4c00,#ff4c00,#ff4c00,#ff4c00)"></i>
<i style="top:671.37px;height:26.93px;background:linear-gradient(90deg,#57ffa8,#57ffa8,#58ffa7,#59ffa6,#5affa5,#5bffa4,#5dffa2,#62ff9d,#68ff97,#71ff8e,#79ff86,#80ff7f,#88ff77,#90ff6f,#96ff69,#99ff66,#98ff67,#95ff6a,#92ff6d,#8eff71,#8bff74,#8aff75,#8dff72,#92ff6d,#9aff65,#a2ff5d,#afff50,#c2ff3d,#d5ff2a,#eaff15,#fff600,#ffce00,#ff9e00,#ff6800,#ff3300,#ff0e00,#f00000,#db0000,#c70000,#a10000,#880000,#810000,#800000,#820000,#8a0000,#930000,#a10000,#b20000,#c60000,#e00000,#f90000,#ff0f00,#ff2200,#ff3600,#ff4d00,#ff6700,#ff8000,#ff9500,#ffa800,#ffbb00,#ffce00,#ffe000,#fff200,#f9ff06,#e3ff1c,#cfff30,#c2ff3d,#baff45,#b2ff4d,#acff53,#a6ff59,#a1ff5e,#9bff64,#95ff6a,#8fff70,#88ff77,#82ff7d,#7dff82,#7aff85,#78ff87,#77ff88,#76ff89,#76ff89,#75ff8a,#75ff8a,#74ff8b,#74ff8b,#74ff8b,#73ff8c,#73ff8c,#74ff8b,#74ff8b,#75ff8a,#77ff88,#79ff86,#7bff84,#7eff81,#82ff7d,#87ff78,#94ff6b,#a9ff56,#bdff42,#d3ff2c,#ecff13,#fffa00,#ffe400,#ffcc00,#ffab00,#ff8d00,#ff7c00,#ff7000,#ff6500,#ff5b00,#ff5200,#ff4900,#ff4200,#ff3d00,#ff3800,#ff3300,#ff3000,#ff2d00,#ff2b00,#ff2b00,#ff2c00,#ff2d00,#ff3000,#ff3300)"></i>
<i style="top:697.70px;height:26.93px;background:linear-gradient(90deg,#56ffa9,#57ffa8,#57ffa8,#58ffa7,#59ffa6,#5bffa4,#5cffa3,#60ff9f,#67ff98,#6fff90,#77ff88,#7eff81,#86ff79,#8eff71,#95ff6a,#98ff67,#98ff67,#96ff69,#92ff6d,#8eff71,#8bff74,#8aff75,#8cff73,#92ff6d,#99ff66,#a2ff5d,#afff50,#c2ff3d,#d5ff2a,#eaff15,#fff600,#ffce00,#ff9e00,#ff6800,#ff3300,#ff0e00,#f00000,#d90000,#c40000,#ae0000,#960000,#8a0000,#820000,#800000,#820000,#890000,#920000,#a20000,#b50000,#ca0000,#de0000,#f20000,#ff0700,#ff1a00,#ff2d00,#ff4300,#ff5c00,#ff7600,#ff8c00,#ffa000,#ffb300,#ffc600,#ffd700,#ffe900,#fffa00,#ebff14,#d2ff2d,#c4ff3b,#bbff44,#b5ff4a,#b0ff4f,#abff54,#a7ff58,#a2ff5d,#9dff62,#98ff67,#92ff6d,#8dff72,#88ff77,#84ff7b,#81ff7e,#7fff80,#7fff80,#7fff80,#7fff80,#7fff80,#7fff80,#7fff80,#7fff80,#7fff80,#7fff80,#80ff7f,#81ff7e,#82ff7d,#84ff7b,#86ff79,#89ff76,#8cff73,#94ff6b,#9fff60,#acff53,#bbff44,#d0ff2f,#e8ff17,#fffd00,#ffea00,#ffd400,#ffb600,#ff9400,#ff8100,#ff7500,#ff6b00,#ff6100,#ff5800,#ff5000,#ff4900,#ff4300,#ff3e00,#ff3900,#ff3400,#ff3000,#ff2d00,#ff2b00,#ff2c00,#ff2d00,#ff2f00,#ff3300)"></i>
<i style="top:724.02px;height:26.93px;background:linear-gradient(90deg,#56ffa9,#56ffa9,#56ffa9,#57ffa8,#58ffa7,#5affa5,#5bffa4,#5fffa0,#65ff9a,#6dff92,#75ff8a,#7cff83,#84ff7b,#8cff73,#93ff6c,#97ff68,#98ff67,#96ff69,#92ff6d,#8eff71,#8bff74,#8aff75,#8cff73,#92ff6d,#99ff66,#a2ff5d,#afff50,#c2ff3d,#d5ff2a,#eaff15,#fff600,#ffd300,#ffac00,#ff8000,#ff4f00,#ff2b00,#ff1000,#f90000,#e70000,#d50000,#b40000,#9f0000,#980000,#950000,#940000,#980000,#9e0000,#a60000,#b10000,#bf0000,#d10000,#df0000,#ee0000,#fd0000,#ff1000,#ff2300,#ff3900,#ff5100,#ff6a00,#ff8200,#ff9900,#ffaf00,#ffc400,#ffd700,#ffe800,#fff900,#edff12,#d4ff2b,#c4ff3b,#bbff44,#b4ff4b,#afff50,#aaff55,#a5ff5a,#a1ff5e,#9dff62,#99ff66,#95ff6a,#91ff6e,#8eff71,#8bff74,#88ff77,#86ff79,#85ff7a,#85ff7a,#85ff7a,#85ff7a,#85ff7a,#86ff79,#86ff79,#87ff78,#88ff77,#88ff77,#89ff76,#8bff74,#8dff72,#91ff6e,#97ff68,#9eff61,#a6ff59,#afff50,#b9ff46,#c8ff37,#dcff23,#f2ff0d,#fff700,#ffe200,#ffc900,#ffa600,#ff8a00,#ff7b00,#ff7000,#ff6600,#ff5e00,#ff5600,#ff4f00,#ff4900,#ff4300,#ff3f00,#ff3a00,#ff3600,#ff3300,#ff3000,#ff2e00,#ff2e00,#ff3000,#ff3300)"></i>
<i style="top:750.35px;height:26.93px;background:linear-gradient(90deg,#55ffaa,#55ffaa,#55ffaa,#56ffa9,#57ffa8,#59ffa6,#5affa5,#5effa1,#64ff9b,#6bff94,#73ff8c,#7bff84,#82ff7d,#8aff75,#92ff6d,#96ff69,#97ff68,#96ff69,#92ff6d,#8fff70,#8cff73,#8aff75,#8cff73,#91ff6e,#99ff66,#a2ff5d,#afff50,#c2ff3d,#d5ff2a,#eaff15,#fff600,#ffd700,#ffb600,#ff9300,#ff6a00,#ff4400,#ff2500,#ff0900,#f50000,#e70000,#da0000,#c70000,#b50000,#ae0000,#aa0000,#aa0000,#ac0000,#af0000,#b30000,#bb0000,#c90000,#d90000,#e80000,#f50000,#ff0500,#ff1600,#ff2900,#ff3d00,#ff5500,#ff7000,#ff8900,#ffa000,#ffb500,#ffc900,#ffdc00,#ffed00,#ffff00,#e5ff1a,#ceff31,#c1ff3e,#b9ff46,#b2ff4d,#adff52,#a8ff57,#a4ff5b,#a1ff5e,#9dff62,#9aff65,#97ff68,#94ff6b,#92ff6d,#90ff6f,#8eff71,#8dff72,#8dff72,#8dff72,#8eff71,#8fff70,#90ff6f,#91ff6e,#92ff6d,#93ff6c,#95ff6a,#98ff67,#9bff64,#9eff61,#a2ff5d,#a7ff58,#acff53,#b1ff4e,#b7ff48,#beff41,#c7ff38,#d3ff2c,#e1ff1e,#f2ff0d,#fffb00,#ffe500,#ffcd00,#ffaf00,#ff9300,#ff8200,#ff7600,#ff6d00,#ff6400,#ff5b00,#ff5300,#ff4b00,#ff4500,#ff4100,#ff3f00,#ff3e00,#ff3d00,#ff3c00,#ff3b00,#ff3b00,#ff3b00)"></i>
<i style="top:776.68px;height:26.93px;background:linear-gradient(90deg,#54ffab,#54ffab,#55ffaa,#55ffaa,#56ffa9,#58ffa7,#59ffa6,#5cffa3,#62ff9d,#6aff95,#72ff8d,#79ff86,#81ff7e,#89ff76,#90ff6f,#95ff6a,#97ff68,#96ff69,#93ff6c,#8fff70,#8cff73,#8aff75,#8cff73,#91ff6e,#99ff66,#a2ff5d,#afff50,#c2ff3d,#d5ff2a,#eaff15,#fff600,#ffd900,#ffbe00,#ffa000,#ff7d00,#ff5a00,#ff3d00,#ff2500,#ff1100,#ff0000,#f00000,#e30000,#db0000,#d50000,#d10000,#cf0000,#cf0000,#d10000,#d40000,#d80000,#dd0000,#e50000,#f10000,#fd0000,#ff0b00,#ff1a00,#ff2b00,#ff3f00,#ff5600,#ff6f00,#ff8b00,#ffa300,#ffb800,#ffcb00,#ffdd00,#ffee00,#ffff00,#e9ff16,#d4ff2b,#c5ff3a,#bcff43,#b5ff4a,#aeff51,#a9ff56,#a5ff5a,#a2ff5d,#9fff60,#9dff62,#9bff64,#98ff67,#97ff68,#95ff6a,#94ff6b,#93ff6c,#93ff6c,#93ff6c,#93ff6c,#93ff6c,#93ff6c,#93ff6c,#93ff6c,#93ff6c,#94ff6b,#96ff69,#9aff65,#9eff61,#a3ff5c,#a8ff57,#aeff51,#b4ff4b,#bbff44,#c1ff3e,#c9ff36,#d2ff2d,#dcff23,#e8ff17,#f6ff09,#fff800,#ffe100,#ffca00,#ffb400,#ffa000,#ff9200,#ff8700,#ff7e00,#ff7600,#ff6f00,#ff6900,#ff6200,#ff5d00,#ff5800,#ff5500,#ff5200,#ff5000,#ff4e00,#ff4d00,#ff4d00)"></i>
<i style="top:803.01px;height:26.93px;background:linear-gradient(90deg,#53ffac,#53ffac,#54ffab,#54ffab,#56ffa9,#57ffa8,#58ffa7,#5bffa4,#61ff9e,#68ff97,#70ff8f,#77ff88,#7fff80,#87ff78,#8eff71,#94ff6b,#97ff68,#96ff69,#93ff6c,#8fff70,#8cff73,#8aff75,#8cff73,#91ff6e,#99ff66,#a2ff5d,#afff50,#c2ff3d,#d5ff2a,#eaff15,#fff600,#ffdb00,#ffc400,#ffab00,#ff8d00,#ff6c00,#ff4f00,#ff3900,#ff2500,#ff1500,#ff0a00,#ff0100,#fa0000,#f60000,#f30000,#f10000,#f10000,#f20000,#f50000,#f80000,#fb0000,#ff0200,#ff0a00,#ff1400,#ff1e00,#ff2b00,#ff3b00,#ff4d00,#ff6400,#ff7c00,#ff9200,#ffa800,#ffbd00,#ffd000,#ffe200,#fff400,#f8ff07,#e4ff1b,#d2ff2d,#c5ff3a,#bcff43,#b5ff4a,#afff50,#a9ff56,#a5ff5a,#a2ff5d,#9fff60,#9dff62,#9bff64,#98ff67,#97ff68,#95ff6a,#94ff6b,#93ff6c,#93ff6c,#93ff6c,#93ff6c,#93ff6c,#93ff6c,#93ff6c,#93ff6c,#93ff6c,#94ff6b,#96ff69,#9aff65,#9eff61,#a3ff5c,#a8ff57,#aeff51,#b5ff4a,#bbff44,#c1ff3e,#c8ff37,#d0ff2f,#d9ff26,#e3ff1c,#efff10,#fcff03,#fff100,#ffdb00,#ffc800,#ffb900,#ffac00,#ffa200,#ff9900,#ff9100,#ff8a00,#ff8500,#ff8100,#ff7d00,#ff7a00,#ff7700,#ff7400,#ff7100,#ff6d00,#ff6900,#ff6600)"></i>
<i style="top:829.34px;height:13.76px;background:linear-gradient(90deg,#52ffad,#52ffad,#53ffac,#54ffab,#55ffaa,#56ffa9,#57ffa8,#5affa5,#5fffa0,#66ff99,#6eff91,#76ff89,#7dff82,#85ff7a,#8dff72,#93ff6c,#96ff69,#96ff69,#93ff6c,#8fff70,#8cff73,#8aff75,#8bff74,#91ff6e,#99ff66,#a2ff5d,#afff50,#c2ff3d,#d6ff29,#ecff13,#fdff02,#ffee00,#ffd800,#ffc000,#ffa700,#ff8b00,#ff7100,#ff5c00,#ff4a00,#ff3b00,#ff2e00,#ff2400,#ff1d00,#ff1900,#ff1600,#ff1400,#ff1400,#ff1500,#ff1600,#ff1900,#ff1c00,#ff2000,#ff2700,#ff3000,#ff3a00,#ff4800,#ff5800,#ff6a00,#ff7c00,#ff9000,#ffa400,#ffb800,#ffc900,#ffda00,#ffea00,#fff900,#f3ff0c,#e1ff1e,#d1ff2e,#c5ff3a,#bdff42,#b5ff4a,#aeff51,#a9ff56,#a5ff5a,#a2ff5d,#a0ff5f,#9eff61,#9cff63,#9aff65,#99ff66,#98ff67,#97ff68,#96ff69,#96ff69,#96ff69,#97ff68,#97ff68,#97ff68,#98ff67,#99ff66,#9aff65,#9bff64,#9dff62,#a0ff5f,#a3ff5c,#a7ff58,#acff53,#b1ff4e,#b6ff49,#bbff44,#c1ff3e,#c8ff37,#cfff30,#d8ff27,#e2ff1d,#edff12,#f9ff06,#fff800,#ffe800,#ffd800,#ffcc00,#ffc200,#ffb900,#ffb100,#ffa800,#ffa100,#ff9900,#ff9300,#ff8e00,#ff8b00,#ff8800,#ff8500,#ff8300,#ff8100,#ff8000,#ff8000)"></i>
</div></div>
<div class="hm" style="left:934px"><div class="hb">
<i style="top:0.00px;height:13.76px;background:linear-gradient(90deg,#7eff81,#81ff7e,#83ff7c,#85ff7a,#86ff79,#87ff78,#87ff78,#87ff78,#86ff79,#83ff7c,#81ff7e,#7fff80,#7dff82,#7cff83,#7aff85,#79ff86,#78ff87,#77ff88,#76ff89,#76ff89,#77ff88,#77ff88,#79ff86,#7aff85,#7cff83,#7eff81,#81ff7e,#86ff79,#8bff74,#8fff70,#92ff6d,#94ff6b,#94ff6b,#8eff71,#82ff7d,#74ff8b,#69ff96,#62ff9d,#5cffa3,#56ffa9,#50ffaf,#4cffb3,#48ffb7,#46ffb9,#45ffba,#46ffb9,#47ffb8,#49ffb6,#4cffb3,#4fffb0,#51ffae,#53ffac,#55ffaa,#56ffa9,#58ffa7,#59ffa6,#5affa5,#5bffa4,#5dffa2,#5effa1,#61ff9e,#64ff9b,#68ff97,#6cff93,#6fff90,#73ff8c,#76ff89,#78ff87,#78ff87,#78ff87,#78ff87,#77ff88,#77ff88,#76ff89,#76ff89,#75ff8a,#75ff8a,#75ff8a,#75ff8a,#76ff89,#77ff88,#78ff87,#78ff87,#79ff86,#7aff85,#7bff84,#7cff83,#7cff83,#7cff83,#7dff82,#7dff82,#7dff82,#7dff82,#7eff81,#7eff81,#7eff81,#7eff81,#7eff81,#7aff85,#74ff8b,#6dff92,#68ff97,#65ff9a,#62ff9d,#60ff9f,#5dffa2,#5bffa4,#59ffa6,#57ffa8,#56ffa9,#55ffaa,#54ffab,#54ffab,#54ffab,#54ffab,#54ffab,#54ffab,#54ffab,#55ffaa,#55ffaa,#55ffaa,#56ffa9,#56ffa9,#57ffa8,#57ffa8,#58ffa7,#59ffa6)"></i>
<i style="top:13.16px;height:26.93px;background:linear-gradient(90deg,#7eff81,#81ff7e,#84ff7b,#86ff79,#87ff78,#87ff78,#88ff77,#88ff77,#87ff78,#84ff7b,#81ff7e,#7fff80,#7dff82,#7bff84,#7aff85,#78ff87,#77ff88,#76ff89,#75ff8a,#75ff8a,#75ff8a,#76ff89,#78ff87,#7aff85,#7cff83,#7eff81,#81ff7e,#86ff79,#8bff74,#8fff70,#92ff6d,#94ff6b,#94ff6b,#8eff71,#80ff7f,#71ff8e,#65ff9a,#5dffa2,#56ffa9,#50ffaf,#49ffb6,#44ffbb,#3fffc0,#3bffc4,#39ffc6,#38ffc7,#38ffc7,#39ffc6,#3bffc4,#3effc1,#41ffbe,#44ffbb,#46ffb9,#49ffb6,#4cffb3,#4effb1,#51ffae,#54ffab,#57ffa8,#5bffa4,#5effa1,#62ff9d,#66ff99,#6aff95,#6fff90,#73ff8c,#76ff89,#78ff87,#78ff87,#78ff87,#78ff87,#77ff88,#76ff89,#76ff89,#75ff8a,#75ff8a,#74ff8b,#74ff8b,#75ff8a,#75ff8a,#76ff89,#77ff88,#78ff87,#79ff86,#7aff85,#7bff84,#7cff83,#7cff83,#7cff83,#7cff83,#7dff82,#7dff82,#7dff82,#7dff82,#7dff82,#7dff82,#7dff82,#7dff82,#78ff87,#71ff8e,#6aff95,#64ff9b,#60ff9f,#5dffa2,#5affa5,#58ffa7,#55ffaa,#53ffac,#51ffae,#4fffb0,#4effb1,#4dffb2,#4dffb2,#4dffb2,#4dffb2,#4dffb2,#4dffb2,#4effb1,#4effb1,#4effb1,#4effb1,#4effb1,#4fffb0,#50ffaf,#52ffad,#53ffac,#55ffaa)"></i>
<i style="top:39.49px;height:26.93px;background:linear-gradient(90deg,#7eff81,#82ff7d,#84ff7b,#86ff79,#87ff78,#88ff77,#89ff76,#89ff76,#87ff78,#84ff7b,#81ff7e,#7fff80,#7dff82,#7bff84,#79ff86,#77ff88,#76ff89,#75ff8a,#74ff8b,#74ff8b,#74ff8b,#76ff89,#77ff88,#79ff86,#7cff83,#7eff81,#81ff7e,#86ff79,#8bff74,#8fff70,#92ff6d,#94ff6b,#94ff6b,#8dff72,#7eff81,#6eff91,#61ff9e,#59ffa6,#51ffae,#4affb5,#42ffbd,#3cffc3,#36ffc9,#31ffce,#2effd1,#2bffd4,#2affd5,#2affd5,#2bffd4,#2dffd2,#30ffcf,#34ffcb,#38ffc7,#3cffc3,#40ffbf,#44ffbb,#48ffb7,#4dffb2,#52ffad,#57ffa8,#5bffa4,#60ff9f,#64ff9b,#69ff96,#6eff91,#72ff8d,#76ff89,#78ff87,#78ff87,#78ff87,#78ff87,#77ff88,#76ff89,#75ff8a,#74ff8b,#74ff8b,#74ff8b,#74ff8b,#74ff8b,#75ff8a,#76ff89,#77ff88,#78ff87,#79ff86,#7aff85,#7bff84,#7cff83,#7cff83,#7cff83,#7cff83,#7cff83,#7cff83,#7cff83,#7cff83,#7dff82,#7dff82,#7dff82,#7cff83,#77ff88,#6fff90,#67ff98,#60ff9f,#5cffa3,#59ffa6,#55ffaa,#52ffad,#4fffb0,#4dffb2,#4affb5,#49ffb6,#47ffb8,#47ffb8,#47ffb8,#47ffb8,#47ffb8,#47ffb8,#47ffb8,#47ffb8,#47ffb8,#47ffb8,#47ffb8,#47ffb8,#48ffb7,#4affb5,#4cffb3,#4effb1,#51ffae)"></i>
<i style="top:65.82px;height:26.93px;background:linear-gradient(90deg,#7eff81,#82ff7d,#85ff7a,#87ff78,#88ff77,#89ff76,#89ff76,#89ff76,#88ff77,#85ff7a,#82ff7d,#7fff80,#7dff82,#7bff84,#79ff86,#77ff88,#75ff8a,#74ff8b,#73ff8c,#73ff8c,#73ff8c,#75ff8a,#77ff88,#79ff86,#7bff84,#7eff81,#81ff7e,#86ff79,#8bff74,#8fff70,#92ff6d,#94ff6b,#94ff6b,#8dff72,#7dff82,#6bff94,#5dffa2,#54ffab,#4cffb3,#43ffbc,#3cffc3,#34ffcb,#2dffd2,#27ffd8,#22ffdd,#1effe1,#1bffe4,#1affe5,#1affe5,#1cffe3,#20ffdf,#24ffdb,#29ffd6,#2effd1,#33ffcc,#39ffc6,#3fffc0,#46ffb9,#4cffb3,#53ffac,#58ffa7,#5dffa2,#63ff9c,#68ff97,#6dff92,#72ff8d,#76ff89,#78ff87,#78ff87,#78ff87,#77ff88,#77ff88,#76ff89,#75ff8a,#74ff8b,#73ff8c,#73ff8c,#73ff8c,#73ff8c,#74ff8b,#75ff8a,#77ff88,#78ff87,#79ff86,#7aff85,#7bff84,#7cff83,#7cff83,#7cff83,#7cff83,#7cff83,#7cff83,#7cff83,#7cff83,#7cff83,#7cff83,#7cff83,#7bff84,#75ff8a,#6dff92,#64ff9b,#5cffa3,#58ffa7,#54ffab,#50ffaf,#4dffb2,#49ffb6,#46ffb9,#44ffbb,#42ffbd,#41ffbe,#40ffbf,#40ffbf,#40ffbf,#40ffbf,#40ffbf,#40ffbf,#40ffbf,#40ffbf,#40ffbf,#40ffbf,#40ffbf,#41ffbe,#43ffbc,#46ffb9,#49ffb6,#4dffb2)"></i>
<i style="top:92.15px;height:26.93px;background:linear-gradient(90deg,#7eff81,#82ff7d,#84ff7b,#86ff79,#87ff78,#88ff77,#89ff76,#89ff76,#87ff78,#85ff7a,#81ff7e,#7fff80,#7dff82,#7bff84,#79ff86,#77ff88,#75ff8a,#74ff8b,#73ff8c,#73ff8c,#73ff8c,#75ff8a,#77ff88,#79ff86,#7bff84,#7eff81,#81ff7e,#86ff79,#8bff74,#8fff70,#92ff6d,#94ff6b,#95ff6a,#90ff6f,#82ff7d,#72ff8d,#64ff9b,#5bffa4,#53ffac,#4bffb4,#43ffbc,#3bffc4,#34ffcb,#2effd1,#28ffd7,#24ffdb,#21ffde,#1fffe0,#1fffe0,#21ffde,#24ffdb,#28ffd7,#2dffd2,#31ffce,#36ffc9,#3bffc4,#40ffbf,#47ffb8,#4dffb2,#53ffac,#58ffa7,#5dffa2,#63ff9c,#69ff96,#6eff91,#73ff8c,#77ff88,#7aff85,#7aff85,#7aff85,#79ff86,#78ff87,#77ff88,#75ff8a,#74ff8b,#73ff8c,#73ff8c,#73ff8c,#73ff8c,#74ff8b,#75ff8a,#77ff88,#78ff87,#79ff86,#7aff85,#7bff84,#7cff83,#7cff83,#7cff83,#7cff83,#7cff83,#7cff83,#7cff83,#7bff84,#7bff84,#7bff84,#7bff84,#7aff85,#74ff8b,#6cff93,#63ff9c,#5cffa3,#58ffa7,#54ffab,#50ffaf,#4dffb2,#49ffb6,#47ffb8,#44ffbb,#42ffbd,#41ffbe,#40ffbf,#40ffbf,#40ffbf,#40ffbf,#40ffbf,#40ffbf,#40ffbf,#40ffbf,#40ffbf,#40ffbf,#40ffbf,#41ffbe,#43ffbc,#46ffb9,#49ffb6,#4dffb2)"></i>
<i style="top:118.48px;height:26.93px;background:linear-gradient(90deg,#7eff81,#81ff7e,#84ff7b,#86ff79,#87ff78,#88ff77,#88ff77,#88ff77,#87ff78,#84ff7b,#81ff7e,#7fff80,#7dff82,#7bff84,#79ff86,#77ff88,#75ff8a,#74ff8b,#73ff8c,#73ff8c,#73ff8c,#75ff8a,#77ff88,#79ff86,#7bff84,#7eff81,#81ff7e,#86ff79,#8bff74,#8fff70,#92ff6d,#95ff6a,#97ff68,#93ff6c,#88ff77,#7aff85,#6cff93,#62ff9d,#5affa5,#52ffad,#4affb5,#42ffbd,#3bffc4,#34ffcb,#2effd1,#2affd5,#26ffd9,#25ffda,#25ffda,#26ffd9,#29ffd6,#2cffd3,#30ffcf,#34ffcb,#38ffc7,#3cffc3,#42ffbd,#47ffb8,#4dffb2,#53ffac,#58ffa7,#5dffa2,#63ff9c,#69ff96,#6fff90,#74ff8b,#79ff86,#7bff84,#7cff83,#7bff84,#7aff85,#79ff86,#77ff88,#76ff89,#75ff8a,#73ff8c,#73ff8c,#73ff8c,#73ff8c,#74ff8b,#75ff8a,#77ff88,#78ff87,#79ff86,#7aff85,#7bff84,#7cff83,#7cff83,#7cff83,#7cff83,#7cff83,#7bff84,#7bff84,#7bff84,#7bff84,#7aff85,#7aff85,#79ff86,#73ff8c,#6bff94,#63ff9c,#5cffa3,#58ffa7,#54ffab,#50ffaf,#4dffb2,#49ffb6,#47ffb8,#44ffbb,#42ffbd,#41ffbe,#40ffbf,#40ffbf,#40ffbf,#40ffbf,#40ffbf,#40ffbf,#40ffbf,#40ffbf,#40ffbf,#40ffbf,#40ffbf,#41ffbe,#43ffbc,#46ffb9,#49ffb6,#4dffb2)"></i>
<i style="top:144.80px;height:26.93px;background:linear-gradient(90deg,#7eff81,#81ff7e,#83ff7c,#85ff7a,#86ff79,#87ff78,#87ff78,#87ff78,#86ff79,#84ff7b,#81ff7e,#7fff80,#7dff82,#7bff84,#79ff86,#77ff88,#75ff8a,#74ff8b,#73ff8c,#73ff8c,#73ff8c,#75ff8a,#77ff88,#79ff86,#7bff84,#7eff81,#81ff7e,#86ff79,#8bff74,#8fff70,#92ff6d,#96ff69,#98ff67,#96ff69,#8eff71,#82ff7d,#75ff8a,#69ff96,#61ff9e,#5affa5,#52ffad,#4affb5,#42ffbd,#3bffc4,#35ffca,#30ffcf,#2cffd3,#2affd5,#2affd5,#2cffd3,#2effd1,#30ffcf,#34ffcb,#37ffc8,#3affc5,#3effc1,#43ffbc,#48ffb7,#4effb1,#53ffac,#58ffa7,#5effa1,#63ff9c,#69ff96,#70ff8f,#75ff8a,#7aff85,#7dff82,#7eff81,#7dff82,#7cff83,#7aff85,#78ff87,#77ff88,#75ff8a,#74ff8b,#73ff8c,#73ff8c,#73ff8c,#74ff8b,#75ff8a,#77ff88,#78ff87,#79ff86,#7aff85,#7bff84,#7cff83,#7cff83,#7cff83,#7cff83,#7bff84,#7bff84,#7bff84,#7bff84,#7aff85,#7aff85,#79ff86,#78ff87,#72ff8d,#6bff94,#63ff9c,#5cffa3,#58ffa7,#54ffab,#50ffaf,#4dffb2,#49ffb6,#47ffb8,#44ffbb,#42ffbd,#41ffbe,#40ffbf,#40ffbf,#40ffbf,#40ffbf,#40ffbf,#40ffbf,#40ffbf,#40ffbf,#40ffbf,#40ffbf,#40ffbf,#41ffbe,#43ffbc,#46ffb9,#49ffb6,#4dffb2)"></i>
<i style="top:171.13px;height:26.93px;background:linear-gradient(90deg,#7eff81,#81ff7e,#83ff7c,#85ff7a,#86ff79,#86ff79,#87ff78,#87ff78,#85ff7a,#83ff7c,#81ff7e,#7fff80,#7dff82,#7bff84,#79ff86,#77ff88,#76ff89,#74ff8b,#74ff8b,#73ff8c,#74ff8b,#75ff8a,#77ff88,#79ff86,#7bff84,#7eff81,#81ff7e,#86ff79,#8bff74,#8fff70,#94ff6b,#99ff66,#9dff62,#9dff62,#97ff68,#8fff70,#85ff7a,#7cff83,#74ff8b,#6dff92,#65ff9a,#5effa1,#55ffaa,#4cffb3,#44ffbb,#3effc1,#3affc5,#37ffc8,#36ffc9,#35ffca,#36ffc9,#38ffc7,#3affc5,#3dffc2,#40ffbf,#43ffbc,#47ffb8,#4cffb3,#50ffaf,#55ffaa,#5affa5,#5effa1,#64ff9b,#6aff95,#70ff8f,#76ff89,#7bff84,#7eff81,#7fff80,#7eff81,#7dff82,#7bff84,#79ff86,#77ff88,#75ff8a,#74ff8b,#73ff8c,#73ff8c,#73ff8c,#74ff8b,#75ff8a,#76ff89,#78ff87,#79ff86,#7aff85,#7bff84,#7bff84,#7bff84,#7bff84,#7bff84,#7bff84,#7bff84,#7aff85,#7aff85,#7aff85,#79ff86,#79ff86,#78ff87,#74ff8b,#6eff91,#68ff97,#64ff9b,#61ff9e,#5effa1,#5cffa3,#59ffa6,#57ffa8,#55ffaa,#53ffac,#51ffae,#50ffaf,#4fffb0,#4fffb0,#4effb1,#4effb1,#4dffb2,#4cffb3,#4cffb3,#4bffb4,#4bffb4,#4affb5,#4affb5,#4affb5,#4bffb4,#4dffb2,#4fffb0,#51ffae)"></i>
<i style="top:197.46px;height:26.93px;background:linear-gradient(90deg,#7eff81,#81ff7e,#83ff7c,#84ff7b,#85ff7a,#86ff79,#86ff79,#86ff79,#85ff7a,#83ff7c,#81ff7e,#7fff80,#7dff82,#7bff84,#79ff86,#78ff87,#76ff89,#75ff8a,#74ff8b,#74ff8b,#75ff8a,#76ff89,#77ff88,#79ff86,#7bff84,#7eff81,#81ff7e,#85ff7a,#8bff74,#90ff6f,#95ff6a,#9dff62,#a3ff5c,#a5ff5a,#a2ff5d,#9eff61,#98ff67,#93ff6c,#8dff72,#86ff79,#7fff80,#76ff89,#6bff94,#60ff9f,#56ffa9,#4fffb0,#4affb5,#46ffb9,#43ffbc,#41ffbe,#40ffbf,#40ffbf,#42ffbd,#44ffbb,#46ffb9,#49ffb6,#4cffb3,#50ffaf,#54ffab,#58ffa7,#5bffa4,#60ff9f,#65ff9a,#6bff94,#71ff8e,#77ff88,#7cff83,#7fff80,#7fff80,#7fff80,#7dff82,#7bff84,#79ff86,#77ff88,#75ff8a,#74ff8b,#73ff8c,#73ff8c,#73ff8c,#74ff8b,#75ff8a,#76ff89,#77ff88,#78ff87,#79ff86,#7aff85,#7aff85,#7aff85,#7aff85,#7aff85,#7aff85,#7aff85,#7aff85,#79ff86,#79ff86,#79ff86,#79ff86,#78ff87,#76ff89,#73ff8c,#70ff8f,#6eff91,#6dff92,#6cff93,#6bff94,#6aff95,#69ff96,#67ff98,#66ff99,#65ff9a,#64ff9b,#63ff9c,#62ff9d,#61ff9e,#5fffa0,#5effa1,#5cffa3,#5bffa4,#5affa5,#58ffa7,#57ffa8,#56ffa9,#56ffa9,#55ffaa,#56ffa9,#56ffa9,#56ffa9)"></i>
<i style="top:223.79px;height:26.93px;background:linear-gradient(90deg,#7eff81,#80ff7f,#82ff7d,#83ff7c,#84ff7b,#85ff7a,#85ff7a,#85ff7a,#84ff7b,#82ff7d,#80ff7f,#7fff80,#7dff82,#7bff84,#7aff85,#78ff87,#77ff88,#76ff89,#75ff8a,#75ff8a,#75ff8a,#76ff89,#78ff87,#79ff86,#7cff83,#7eff81,#81ff7e,#85ff7a,#8bff74,#91ff6e,#97ff68,#a0ff5f,#a9ff56,#adff52,#adff52,#adff52,#abff54,#a9ff56,#a5ff5a,#a0ff5f,#99ff66,#91ff6e,#84ff7b,#76ff89,#68ff97,#5fffa0,#59ffa6,#54ffab,#50ffaf,#4cffb3,#4affb5,#49ffb6,#49ffb6,#4affb5,#4cffb3,#4effb1,#51ffae,#54ffab,#57ffa8,#5affa5,#5dffa2,#61ff9e,#66ff99,#6bff94,#71ff8e,#77ff88,#7cff83,#7fff80,#80ff7f,#7fff80,#7eff81,#7cff83,#7aff85,#77ff88,#75ff8a,#74ff8b,#73ff8c,#73ff8c,#73ff8c,#74ff8b,#74ff8b,#75ff8a,#76ff89,#77ff88,#78ff87,#79ff86,#79ff86,#79ff86,#79ff86,#79ff86,#79ff86,#79ff86,#79ff86,#79ff86,#79ff86,#79ff86,#78ff87,#78ff87,#78ff87,#79ff86,#79ff86,#79ff86,#7aff85,#7bff84,#7cff83,#7cff83,#7cff83,#7bff84,#7aff85,#7aff85,#79ff86,#78ff87,#77ff88,#75ff8a,#72ff8d,#6fff90,#6cff93,#6aff95,#68ff97,#66ff99,#65ff9a,#63ff9c,#61ff9e,#60ff9f,#5effa1,#5dffa2,#5cffa3)"></i>
<i style="top:250.12px;height:26.93px;background:linear-gradient(90deg,#7eff81,#80ff7f,#82ff7d,#83ff7c,#84ff7b,#85ff7a,#85ff7a,#85ff7a,#84ff7b,#82ff7d,#81ff7e,#7fff80,#7dff82,#7cff83,#7aff85,#79ff86,#77ff88,#76ff89,#76ff89,#76ff89,#76ff89,#77ff88,#78ff87,#7aff85,#7cff83,#7eff81,#81ff7e,#86ff79,#8bff74,#92ff6d,#99ff66,#a3ff5c,#adff52,#b2ff4d,#b3ff4c,#b4ff4b,#b5ff4a,#b4ff4b,#b1ff4e,#acff53,#a6ff59,#9fff60,#93ff6c,#85ff7a,#76ff89,#6cff93,#65ff9a,#5fffa0,#5affa5,#55ffaa,#51ffae,#4fffb0,#4effb1,#4effb1,#4effb1,#4fffb0,#51ffae,#53ffac,#55ffaa,#57ffa8,#59ffa6,#5bffa4,#5fffa0,#63ff9c,#67ff98,#6cff93,#6fff90,#72ff8d,#73ff8c,#73ff8c,#73ff8c,#72ff8d,#70ff8f,#6fff90,#6eff91,#6eff91,#6eff91,#6eff91,#6fff90,#71ff8e,#72ff8d,#73ff8c,#75ff8a,#76ff89,#76ff89,#77ff88,#77ff88,#78ff87,#78ff87,#78ff87,#78ff87,#78ff87,#78ff87,#78ff87,#78ff87,#79ff86,#79ff86,#79ff86,#7aff85,#7cff83,#7dff82,#7fff80,#80ff7f,#82ff7d,#84ff7b,#85ff7a,#85ff7a,#85ff7a,#84ff7b,#84ff7b,#84ff7b,#83ff7c,#82ff7d,#80ff7f,#7dff82,#7aff85,#78ff87,#75ff8a,#73ff8c,#71ff8e,#6fff90,#6dff92,#6cff93,#6aff95,#68ff97,#67ff98,#65ff9a)"></i>
<i style="top:276.45px;height:26.93px;background:linear-gradient(90deg,#7eff81,#80ff7f,#82ff7d,#83ff7c,#84ff7b,#85ff7a,#85ff7a,#85ff7a,#84ff7b,#83ff7c,#81ff7e,#80ff7f,#7eff81,#7dff82,#7bff84,#7aff85,#78ff87,#77ff88,#77ff88,#76ff89,#77ff88,#78ff87,#79ff86,#7aff85,#7cff83,#7eff81,#81ff7e,#86ff79,#8cff73,#93ff6c,#9aff65,#a4ff5b,#aeff51,#b3ff4c,#b5ff4a,#b6ff49,#b6ff49,#b6ff49,#b3ff4c,#aeff51,#a9ff56,#a2ff5d,#99ff66,#8dff72,#80ff7f,#76ff89,#6dff92,#67ff98,#61ff9e,#5bffa4,#57ffa8,#53ffac,#50ffaf,#4effb1,#4dffb2,#4dffb2,#4dffb2,#4effb1,#4effb1,#4effb1,#4fffb0,#50ffaf,#51ffae,#53ffac,#56ffa9,#58ffa7,#5affa5,#5cffa3,#5dffa2,#5effa1,#5fffa0,#60ff9f,#61ff9e,#62ff9d,#63ff9c,#64ff9b,#65ff9a,#67ff98,#69ff96,#6bff94,#6dff92,#70ff8f,#72ff8d,#73ff8c,#75ff8a,#75ff8a,#76ff89,#76ff89,#77ff88,#77ff88,#77ff88,#77ff88,#78ff87,#78ff87,#78ff87,#79ff86,#7aff85,#7bff84,#7cff83,#7dff82,#7fff80,#80ff7f,#81ff7e,#82ff7d,#83ff7c,#84ff7b,#84ff7b,#85ff7a,#85ff7a,#84ff7b,#84ff7b,#84ff7b,#83ff7c,#82ff7d,#80ff7f,#7fff80,#7dff82,#7cff83,#7bff84,#7aff85,#79ff86,#77ff88,#76ff89,#75ff8a,#74ff8b,#73ff8c,#71ff8e)"></i>
<i style="top:302.77px;height:26.93px;background:linear-gradient(90deg,#7eff81,#80ff7f,#82ff7d,#83ff7c,#84ff7b,#84ff7b,#85ff7a,#85ff7a,#84ff7b,#83ff7c,#82ff7d,#80ff7f,#7fff80,#7eff81,#7cff83,#7bff84,#79ff86,#78ff87,#77ff88,#77ff88,#78ff87,#78ff87,#79ff86,#7bff84,#7cff83,#7eff81,#81ff7e,#86ff79,#8dff72,#94ff6b,#9bff64,#a6ff59,#b0ff4f,#b4ff4b,#b6ff49,#b7ff48,#b8ff47,#b7ff48,#b4ff4b,#b0ff4f,#abff54,#a5ff5a,#9eff61,#94ff6b,#8aff75,#7fff80,#76ff89,#6fff90,#68ff97,#62ff9d,#5cffa3,#56ffa9,#52ffad,#4effb1,#4cffb3,#4bffb4,#4affb5,#48ffb7,#47ffb8,#46ffb9,#46ffb9,#45ffba,#45ffba,#44ffbb,#44ffbb,#45ffba,#45ffba,#47ffb8,#49ffb6,#4bffb4,#4dffb2,#50ffaf,#53ffac,#55ffaa,#58ffa7,#5affa5,#5dffa2,#60ff9f,#63ff9c,#66ff99,#69ff96,#6cff93,#6fff90,#71ff8e,#72ff8d,#73ff8c,#74ff8b,#75ff8a,#75ff8a,#76ff89,#76ff89,#77ff88,#77ff88,#78ff87,#78ff87,#79ff86,#7bff84,#7cff83,#7dff82,#7eff81,#80ff7f,#80ff7f,#81ff7e,#82ff7d,#83ff7c,#83ff7c,#84ff7b,#84ff7b,#85ff7a,#85ff7a,#85ff7a,#85ff7a,#84ff7b,#84ff7b,#84ff7b,#83ff7c,#83ff7c,#82ff7d,#82ff7d,#82ff7d,#81ff7e,#81ff7e,#80ff7f,#80ff7f,#7fff80,#7fff80,#7eff81)"></i>
<i style="top:329.10px;height:26.93px;background:linear-gradient(90deg,#7dff82,#7fff80,#81ff7e,#82ff7d,#83ff7c,#84ff7b,#84ff7b,#84ff7b,#84ff7b,#83ff7c,#81ff7e,#80ff7f,#7fff80,#7eff81,#7cff83,#7bff84,#79ff86,#78ff87,#77ff88,#77ff88,#78ff87,#78ff87,#79ff86,#7bff84,#7cff83,#7eff81,#81ff7e,#86ff79,#8dff72,#94ff6b,#9bff64,#a4ff5b,#adff52,#b2ff4d,#b3ff4c,#b5ff4a,#b5ff4a,#b5ff4a,#b3ff4c,#afff50,#aaff55,#a5ff5a,#9fff60,#96ff69,#8cff73,#82ff7d,#79ff86,#71ff8e,#6bff94,#64ff9b,#5effa1,#58ffa7,#53ffac,#4fffb0,#4cffb3,#49ffb6,#47ffb8,#45ffba,#43ffbc,#41ffbe,#3fffc0,#3dffc2,#3cffc3,#3bffc4,#3bffc4,#3bffc4,#3cffc3,#3effc1,#41ffbe,#43ffbc,#46ffb9,#49ffb6,#4cffb3,#4fffb0,#52ffad,#55ffaa,#58ffa7,#5cffa3,#5fffa0,#62ff9d,#65ff9a,#68ff97,#6bff94,#6dff92,#6fff90,#70ff8f,#72ff8d,#73ff8c,#74ff8b,#75ff8a,#76ff89,#76ff89,#77ff88,#78ff87,#78ff87,#79ff86,#7bff84,#7cff83,#7dff82,#7eff81,#7fff80,#80ff7f,#81ff7e,#81ff7e,#82ff7d,#83ff7c,#83ff7c,#84ff7b,#84ff7b,#84ff7b,#84ff7b,#84ff7b,#84ff7b,#84ff7b,#83ff7c,#83ff7c,#83ff7c,#83ff7c,#82ff7d,#82ff7d,#81ff7e,#81ff7e,#80ff7f,#80ff7f,#7fff80,#7fff80,#7eff81)"></i>
<i style="top:355.43px;height:26.93px;background:linear-gradient(90deg,#7dff82,#7fff80,#80ff7f,#81ff7e,#82ff7d,#83ff7c,#83ff7c,#83ff7c,#83ff7c,#82ff7d,#81ff7e,#80ff7f,#7fff80,#7eff81,#7cff83,#7bff84,#79ff86,#78ff87,#78ff87,#77ff88,#78ff87,#78ff87,#79ff86,#7bff84,#7cff83,#7eff81,#81ff7e,#87ff78,#8dff72,#94ff6b,#9bff64,#a3ff5c,#abff54,#afff50,#b1ff4e,#b2ff4d,#b3ff4c,#b3ff4c,#b1ff4e,#aeff51,#a9ff56,#a5ff5a,#9fff60,#97ff68,#8eff71,#85ff7a,#7cff83,#74ff8b,#6dff92,#67ff98,#61ff9e,#5bffa4,#55ffaa,#50ffaf,#4cffb3,#48ffb7,#45ffba,#41ffbe,#3effc1,#3bffc4,#38ffc7,#35ffca,#33ffcc,#32ffcd,#31ffce,#32ffcd,#33ffcc,#36ffc9,#38ffc7,#3bffc4,#3effc1,#42ffbd,#45ffba,#48ffb7,#4cffb3,#4fffb0,#53ffac,#57ffa8,#5bffa4,#5effa1,#61ff9e,#64ff9b,#67ff98,#6aff95,#6cff93,#6eff91,#6fff90,#71ff8e,#73ff8c,#74ff8b,#75ff8a,#76ff89,#77ff88,#78ff87,#79ff86,#7aff85,#7bff84,#7cff83,#7cff83,#7dff82,#7eff81,#7fff80,#80ff7f,#81ff7e,#81ff7e,#82ff7d,#83ff7c,#83ff7c,#83ff7c,#83ff7c,#83ff7c,#83ff7c,#83ff7c,#83ff7c,#83ff7c,#83ff7c,#83ff7c,#83ff7c,#82ff7d,#82ff7d,#82ff7d,#81ff7e,#81ff7e,#80ff7f,#7fff80,#7fff80,#7eff81)"></i>
<i style="top:381.76px;height:26.93px;background:linear-gradient(90deg,#7cff83,#7eff81,#7fff80,#81ff7e,#82ff7d,#82ff7d,#83ff7c,#83ff7c,#82ff7d,#82ff7d,#81ff7e,#80ff7f,#7fff80,#7eff81,#7cff83,#7bff84,#7aff85,#78ff87,#78ff87,#77ff88,#78ff87,#78ff87,#79ff86,#7bff84,#7cff83,#7eff81,#81ff7e,#87ff78,#8eff71,#94ff6b,#9bff64,#a2ff5d,#a8ff57,#adff52,#afff50,#b0ff4f,#b1ff4e,#b1ff4e,#b0ff4f,#adff52,#a9ff56,#a4ff5b,#9fff60,#99ff66,#91ff6e,#88ff77,#7fff80,#77ff88,#70ff8f,#69ff96,#63ff9c,#5dffa2,#57ffa8,#51ffae,#4cffb3,#47ffb8,#42ffbd,#3effc1,#3affc5,#35ffca,#31ffce,#2dffd2,#2bffd4,#29ffd6,#28ffd7,#29ffd6,#2affd5,#2dffd2,#30ffcf,#33ffcc,#37ffc8,#3affc5,#3effc1,#42ffbd,#46ffb9,#4affb5,#4effb1,#53ffac,#57ffa8,#5affa5,#5dffa2,#60ff9f,#63ff9c,#66ff99,#69ff96,#6bff94,#6dff92,#6fff90,#71ff8e,#73ff8c,#74ff8b,#75ff8a,#77ff88,#78ff87,#79ff86,#7aff85,#7bff84,#7bff84,#7cff83,#7dff82,#7eff81,#7eff81,#7fff80,#80ff7f,#81ff7e,#81ff7e,#82ff7d,#82ff7d,#83ff7c,#83ff7c,#83ff7c,#83ff7c,#83ff7c,#83ff7c,#83ff7c,#83ff7c,#83ff7c,#83ff7c,#82ff7d,#82ff7d,#82ff7d,#81ff7e,#81ff7e,#80ff7f,#80ff7f,#7fff80,#7eff81)"></i>
<i style="top:408.09px;height:26.93px;background:linear-gradient(90deg,#7cff83,#7eff81,#7fff80,#80ff7f,#81ff7e,#82ff7d,#83ff7c,#83ff7c,#82ff7d,#82ff7d,#81ff7e,#80ff7f,#7fff80,#7eff81,#7cff83,#7bff84,#7aff85,#78ff87,#78ff87,#77ff88,#78ff87,#79ff86,#7aff85,#7cff83,#7eff81,#80ff7f,#84ff7b,#8aff75,#91ff6e,#98ff67,#9eff61,#a4ff5b,#abff54,#afff50,#b1ff4e,#b2ff4d,#b2ff4d,#b2ff4d,#b2ff4d,#b0ff4f,#adff52,#a9ff56,#a4ff5b,#9eff61,#97ff68,#8fff70,#87ff78,#80ff7f,#78ff87,#71ff8e,#6aff95,#64ff9b,#5effa1,#57ffa8,#51ffae,#4bffb4,#45ffba,#40ffbf,#3affc5,#33ffcc,#2dffd2,#27ffd8,#23ffdc,#21ffde,#21ffde,#23ffdc,#26ffd9,#29ffd6,#2dffd2,#32ffcd,#36ffc9,#3bffc4,#3effc1,#42ffbd,#46ffb9,#4bffb4,#4fffb0,#53ffac,#56ffa9,#59ffa6,#5cffa3,#5fffa0,#62ff9d,#64ff9b,#67ff98,#69ff96,#6bff94,#6dff92,#6fff90,#70ff8f,#72ff8d,#73ff8c,#74ff8b,#75ff8a,#76ff89,#77ff88,#78ff87,#79ff86,#79ff86,#7aff85,#7bff84,#7cff83,#7dff82,#7dff82,#7eff81,#7fff80,#80ff7f,#81ff7e,#81ff7e,#82ff7d,#82ff7d,#82ff7d,#82ff7d,#82ff7d,#82ff7d,#83ff7c,#83ff7c,#83ff7c,#83ff7c,#82ff7d,#82ff7d,#82ff7d,#81ff7e,#81ff7e,#80ff7f,#80ff7f,#7fff80)"></i>
<i style="top:434.41px;height:26.93px;background:linear-gradient(90deg,#7cff83,#7eff81,#7fff80,#80ff7f,#81ff7e,#82ff7d,#83ff7c,#83ff7c,#82ff7d,#82ff7d,#81ff7e,#80ff7f,#7fff80,#7eff81,#7cff83,#7bff84,#7aff85,#78ff87,#78ff87,#77ff88,#78ff87,#79ff86,#7bff84,#7eff81,#80ff7f,#83ff7c,#88ff77,#8eff71,#95ff6a,#9cff63,#a1ff5e,#a8ff57,#aeff51,#b3ff4c,#b4ff4b,#b4ff4b,#b4ff4b,#b4ff4b,#b4ff4b,#b4ff4b,#b3ff4c,#afff50,#a9ff56,#a3ff5c,#9eff61,#97ff68,#91ff6e,#8aff75,#82ff7d,#7bff84,#74ff8b,#6dff92,#66ff99,#5fffa0,#58ffa7,#51ffae,#4affb5,#43ffbc,#3bffc4,#33ffcc,#29ffd6,#21ffde,#1cffe3,#1affe5,#1bffe4,#1dffe2,#22ffdd,#27ffd8,#2cffd3,#32ffcd,#38ffc7,#3dffc2,#41ffbe,#45ffba,#49ffb6,#4cffb3,#50ffaf,#53ffac,#56ffa9,#59ffa6,#5cffa3,#5effa1,#61ff9e,#63ff9c,#65ff9a,#67ff98,#69ff96,#6bff94,#6cff93,#6eff91,#6fff90,#70ff8f,#71ff8e,#72ff8d,#73ff8c,#74ff8b,#74ff8b,#75ff8a,#76ff89,#77ff88,#78ff87,#79ff86,#7aff85,#7bff84,#7cff83,#7dff82,#7eff81,#7fff80,#80ff7f,#80ff7f,#81ff7e,#81ff7e,#82ff7d,#82ff7d,#82ff7d,#82ff7d,#83ff7c,#83ff7c,#83ff7c,#82ff7d,#82ff7d,#82ff7d,#82ff7d,#82ff7d,#81ff7e,#81ff7e,#80ff7f)"></i>
<i style="top:460.74px;height:26.93px;background:linear-gradient(90deg,#77ff88,#7dff82,#81ff7e,#85ff7a,#88ff77,#8aff75,#8bff74,#8cff73,#8bff74,#88ff77,#85ff7a,#81ff7e,#7eff81,#7cff83,#7aff85,#78ff87,#76ff89,#75ff8a,#74ff8b,#75ff8a,#79ff86,#7fff80,#85ff7a,#8fff70,#9cff63,#a3ff5c,#a3ff5c,#a3ff5c,#a3ff5c,#a5ff5a,#bcff43,#ceff31,#deff21,#ecff13,#f3ff0c,#f5ff0a,#f6ff09,#f7ff08,#f7ff08,#f6ff09,#f5ff0a,#f4ff0b,#efff10,#e2ff1d,#d2ff2d,#c4ff3b,#b7ff48,#abff54,#9fff60,#93ff6c,#87ff78,#7dff82,#72ff8d,#69ff96,#60ff9f,#58ffa7,#50ffaf,#48ffb7,#3fffc0,#35ffca,#2bffd4,#22ffdd,#1bffe4,#1affe5,#1bffe4,#1effe1,#22ffdd,#27ffd8,#2cffd3,#31ffce,#36ffc9,#3bffc4,#40ffbf,#46ffb9,#4dffb2,#53ffac,#58ffa7,#5cffa3,#5fffa0,#60ff9f,#60ff9f,#5fffa0,#5effa1,#5dffa2,#5cffa3,#5bffa4,#5bffa4,#5bffa4,#5cffa3,#5fffa0,#62ff9d,#65ff9a,#69ff96,#6cff93,#6fff90,#72ff8d,#75ff8a,#78ff87,#7bff84,#7eff81,#82ff7d,#85ff7a,#8aff75,#8fff70,#94ff6b,#99ff66,#9dff62,#a1ff5e,#a4ff5b,#a6ff59,#a8ff57,#abff54,#adff52,#afff50,#b0ff4f,#b2ff4d,#b3ff4c,#b4ff4b,#b4ff4b,#b4ff4b,#b4ff4b,#b4ff4b,#b4ff4b,#b4ff4b,#b4ff4b,#b4ff4b,#b4ff4b)"></i>
<i style="top:487.07px;height:26.93px;background:linear-gradient(90deg,#76ff89,#7cff83,#80ff7f,#84ff7b,#87ff78,#89ff76,#8aff75,#8aff75,#89ff76,#87ff78,#84ff7b,#81ff7e,#7eff81,#7cff83,#7aff85,#78ff87,#77ff88,#76ff89,#75ff8a,#76ff89,#7aff85,#80ff7f,#86ff79,#90ff6f,#9cff63,#a3ff5c,#a3ff5c,#a3ff5c,#a3ff5c,#a4ff5b,#adff52,#bcff43,#cfff30,#ecff13,#fff900,#ffe300,#ffd500,#ffd200,#ffd000,#ffcf00,#ffcf00,#ffd100,#ffd500,#ffe700,#fffd00,#edff12,#dbff24,#cbff34,#beff41,#b2ff4d,#a8ff57,#9fff60,#96ff69,#8dff72,#83ff7c,#79ff86,#6fff90,#66ff99,#5dffa2,#54ffab,#4bffb4,#41ffbe,#37ffc8,#2effd1,#29ffd6,#28ffd7,#2affd5,#2dffd2,#31ffce,#36ffc9,#3bffc4,#40ffbf,#45ffba,#49ffb6,#4effb1,#54ffab,#58ffa7,#5dffa2,#5fffa0,#60ff9f,#60ff9f,#5fffa0,#5dffa2,#5cffa3,#5bffa4,#5bffa4,#5dffa2,#60ff9f,#65ff9a,#69ff96,#6dff92,#71ff8e,#74ff8b,#77ff88,#79ff86,#7cff83,#80ff7f,#83ff7c,#88ff77,#8eff71,#96ff69,#9dff62,#a5ff5a,#acff53,#b3ff4c,#b8ff47,#bdff42,#c2ff3d,#c7ff38,#cbff34,#ceff31,#d0ff2f,#d2ff2d,#d4ff2b,#d5ff2a,#d6ff29,#d7ff28,#d8ff27,#d8ff27,#d8ff27,#d8ff27,#d7ff28,#d6ff29,#d5ff2a,#d4ff2b,#d2ff2d,#d1ff2e)"></i>
<i style="top:513.40px;height:26.93px;background:linear-gradient(90deg,#76ff89,#7bff84,#7fff80,#82ff7d,#85ff7a,#87ff78,#88ff77,#89ff76,#88ff77,#86ff79,#84ff7b,#81ff7e,#7eff81,#7cff83,#7aff85,#79ff86,#78ff87,#77ff88,#76ff89,#77ff88,#7bff84,#81ff7e,#87ff78,#90ff6f,#9bff64,#a3ff5c,#a5ff5a,#a6ff59,#a8ff57,#abff54,#b4ff4b,#c2ff3d,#dbff24,#ffff00,#ffdd00,#ffbf00,#ffa300,#ff9c00,#ff9900,#ff9700,#ff9600,#ff9700,#ff9800,#ff9b00,#ffa100,#ffbe00,#ffd700,#ffe800,#fff800,#f4ff0b,#e1ff1e,#d0ff2f,#c1ff3e,#b5ff4a,#aaff55,#a0ff5f,#97ff68,#8eff71,#85ff7a,#7eff81,#77ff88,#6fff90,#66ff99,#5cffa3,#52ffad,#49ffb6,#45ffba,#44ffbb,#46ffb9,#49ffb6,#4cffb3,#50ffaf,#53ffac,#56ffa9,#59ffa6,#5dffa2,#60ff9f,#63ff9c,#65ff9a,#66ff99,#65ff9a,#64ff9b,#62ff9d,#60ff9f,#5effa1,#5cffa3,#5bffa4,#5bffa4,#5dffa2,#60ff9f,#64ff9b,#68ff97,#6dff92,#73ff8c,#79ff86,#7fff80,#86ff79,#8eff71,#97ff68,#a0ff5f,#a9ff56,#b3ff4c,#bfff40,#caff35,#d5ff2a,#e2ff1d,#f0ff0f,#fbff04,#fffe00,#fffd00,#fffb00,#fffb00,#fffa00,#fff900,#fff800,#fff700,#fff500,#fff300,#fff200,#fff200,#fff300,#fff400,#fff500,#fff700,#fff900,#fffc00,#ffff00)"></i>
<i style="top:539.73px;height:26.93px;background:linear-gradient(90deg,#75ff8a,#7aff85,#7eff81,#81ff7e,#84ff7b,#86ff79,#87ff78,#88ff77,#87ff78,#85ff7a,#83ff7c,#80ff7f,#7dff82,#7bff84,#7aff85,#79ff86,#78ff87,#78ff87,#78ff87,#78ff87,#7cff83,#81ff7e,#88ff77,#90ff6f,#9cff63,#a6ff59,#acff53,#b2ff4d,#bbff44,#c6ff39,#d6ff29,#ecff13,#fff600,#ffcc00,#ff9600,#ff5600,#ff4900,#ff4500,#ff4200,#ff4100,#ff4200,#ff4500,#ff4a00,#ff5500,#ff6b00,#ff8300,#ff9900,#ffb000,#ffc500,#ffd500,#ffe200,#fff000,#fffe00,#edff12,#dbff24,#caff35,#bbff44,#aeff51,#a2ff5d,#96ff69,#8dff72,#85ff7a,#7dff82,#75ff8a,#6fff90,#6aff95,#67ff98,#65ff9a,#63ff9c,#62ff9d,#61ff9e,#61ff9e,#60ff9f,#61ff9e,#62ff9d,#64ff9b,#66ff99,#67ff98,#68ff97,#69ff96,#68ff97,#67ff98,#66ff99,#64ff9b,#62ff9d,#61ff9e,#60ff9f,#61ff9e,#62ff9d,#66ff99,#6aff95,#6eff91,#74ff8b,#7aff85,#80ff7f,#86ff79,#8dff72,#94ff6b,#9dff62,#a6ff59,#b1ff4e,#beff41,#ccff33,#daff25,#ecff13,#feff01,#fff700,#fff100,#ffed00,#ffe900,#ffe500,#ffe000,#ffdc00,#ffd800,#ffd500,#ffd300,#ffd100,#ffd000,#ffce00,#ffcd00,#ffcd00,#ffcc00,#ffcc00,#ffcd00,#ffcf00,#ffd100,#ffd400)"></i>
<i style="top:566.05px;height:26.93px;background:linear-gradient(90deg,#74ff8b,#79ff86,#7dff82,#80ff7f,#82ff7d,#84ff7b,#86ff79,#86ff79,#86ff79,#84ff7b,#82ff7d,#80ff7f,#7dff82,#7bff84,#7aff85,#7aff85,#79ff86,#79ff86,#79ff86,#79ff86,#7dff82,#82ff7d,#89ff76,#91ff6e,#9eff61,#a9ff56,#b1ff4e,#b9ff46,#c2ff3d,#cdff32,#e2ff1d,#fff800,#ffd700,#ffb100,#ff8b00,#ff6000,#ff3200,#ff1a00,#ff1000,#ff0900,#ff0600,#ff0600,#ff0900,#ff0e00,#ff1f00,#ff3c00,#ff5200,#ff6800,#ff7d00,#ff9600,#ffb000,#ffc700,#ffda00,#ffeb00,#fffc00,#efff10,#ddff22,#ccff33,#beff41,#b1ff4e,#a4ff5b,#99ff66,#90ff6f,#89ff76,#83ff7c,#7eff81,#79ff86,#76ff89,#74ff8b,#73ff8c,#72ff8d,#72ff8d,#71ff8e,#71ff8e,#71ff8e,#70ff8f,#70ff8f,#70ff8f,#6fff90,#6fff90,#6dff92,#6cff93,#6aff95,#68ff97,#66ff99,#64ff9b,#63ff9c,#63ff9c,#65ff9a,#69ff96,#6dff92,#73ff8c,#79ff86,#80ff7f,#86ff79,#8cff73,#92ff6d,#9aff65,#a3ff5c,#b0ff4f,#c0ff3f,#d1ff2e,#e1ff1e,#f0ff0f,#fffd00,#ffed00,#ffdc00,#ffd200,#ffca00,#ffc300,#ffbe00,#ffbb00,#ffb900,#ffb700,#ffb500,#ffb400,#ffb300,#ffb300,#ffb300,#ffb300,#ffb300,#ffb300,#ffb300,#ffb300,#ffb300,#ffb300,#ffb300)"></i>
<i style="top:592.38px;height:26.93px;background:linear-gradient(90deg,#74ff8b,#78ff87,#7cff83,#7fff80,#81ff7e,#83ff7c,#84ff7b,#85ff7a,#85ff7a,#83ff7c,#81ff7e,#7fff80,#7cff83,#7bff84,#7aff85,#7aff85,#7aff85,#7aff85,#7aff85,#7bff84,#7eff81,#83ff7c,#89ff76,#93ff6c,#a0ff5f,#acff53,#b6ff49,#bfff40,#cbff34,#dbff24,#f2ff0d,#ffed00,#ffcd00,#ffa900,#ff7c00,#ff3300,#ff0700,#f50000,#ea0000,#e30000,#df0000,#dd0000,#df0000,#e20000,#e70000,#f20000,#ff0300,#ff1400,#ff2700,#ff3c00,#ff5100,#ff6600,#ff7e00,#ff9e00,#ffc000,#ffdb00,#fff200,#f7ff08,#e2ff1d,#cfff30,#bfff40,#b1ff4e,#a3ff5c,#98ff67,#8fff70,#88ff77,#83ff7c,#7eff81,#7aff85,#77ff88,#76ff89,#74ff8b,#73ff8c,#72ff8d,#72ff8d,#71ff8e,#71ff8e,#70ff8f,#6fff90,#6fff90,#6eff91,#6dff92,#6cff93,#6bff94,#6aff95,#69ff96,#69ff96,#69ff96,#6aff95,#6dff92,#71ff8e,#75ff8a,#7aff85,#80ff7f,#86ff79,#8dff72,#95ff6a,#a0ff5f,#acff53,#bbff44,#cbff34,#dcff23,#edff12,#fffd00,#ffe500,#ffcb00,#ffb900,#ffab00,#ffa400,#ff9f00,#ff9b00,#ff9800,#ff9500,#ff9300,#ff9200,#ff9100,#ff9000,#ff9000,#ff8f00,#ff8e00,#ff8e00,#ff8d00,#ff8d00,#ff8d00,#ff8c00,#ff8c00,#ff8c00)"></i>
<i style="top:618.71px;height:26.93px;background:linear-gradient(90deg,#73ff8c,#77ff88,#7aff85,#7dff82,#80ff7f,#82ff7d,#83ff7c,#84ff7b,#84ff7b,#82ff7d,#80ff7f,#7eff81,#7cff83,#7bff84,#7aff85,#7aff85,#7aff85,#7bff84,#7bff84,#7cff83,#7fff80,#84ff7b,#8aff75,#94ff6b,#a2ff5d,#afff50,#bbff44,#c6ff39,#d5ff2a,#e8ff17,#fffa00,#ffd900,#ffb500,#ff8900,#ff4300,#ff0300,#ea0000,#da0000,#d00000,#c90000,#c30000,#ba0000,#b50000,#b60000,#ba0000,#c10000,#cb0000,#dc0000,#ef0000,#ff0400,#ff1c00,#ff3500,#ff5000,#ff6e00,#ff8e00,#ffaf00,#ffd000,#ffee00,#f8ff07,#e2ff1d,#d0ff2f,#c1ff3e,#b3ff4c,#a6ff59,#9bff64,#92ff6d,#8cff73,#87ff78,#83ff7c,#7fff80,#7cff83,#79ff86,#78ff87,#76ff89,#75ff8a,#75ff8a,#74ff8b,#73ff8c,#72ff8d,#71ff8e,#70ff8f,#6fff90,#6dff92,#6bff94,#6aff95,#69ff96,#69ff96,#69ff96,#6bff94,#6fff90,#73ff8c,#78ff87,#7eff81,#84ff7b,#8aff75,#93ff6c,#9cff63,#a8ff57,#b5ff4a,#c5ff3a,#d7ff28,#ebff14,#fffd00,#ffe800,#ffd100,#ffbc00,#ffa800,#ff9900,#ff8e00,#ff8500,#ff7e00,#ff7900,#ff7500,#ff7100,#ff6d00,#ff6a00,#ff6800,#ff6700,#ff6600,#ff6600,#ff6600,#ff6600,#ff6600,#ff6600,#ff6600,#ff6600,#ff6600)"></i>
<i style="top:645.04px;height:26.93px;background:linear-gradient(90deg,#72ff8d,#76ff89,#79ff86,#7cff83,#7fff80,#80ff7f,#82ff7d,#82ff7d,#82ff7d,#81ff7e,#80ff7f,#7eff81,#7cff83,#7bff84,#7bff84,#7bff84,#7bff84,#7bff84,#7bff84,#7dff82,#80ff7f,#85ff7a,#8bff74,#95ff6a,#a4ff5b,#b3ff4c,#bfff40,#cdff32,#dfff20,#f8ff07,#ffe200,#ffbd00,#ff9400,#ff5b00,#ff1200,#ef0000,#dd0000,#c70000,#af0000,#a50000,#9e0000,#970000,#940000,#970000,#9e0000,#a80000,#ba0000,#d00000,#e10000,#f50000,#ff1000,#ff2b00,#ff4800,#ff6700,#ff8400,#ffa200,#ffbd00,#ffd500,#ffe900,#fffc00,#efff10,#dcff23,#ccff33,#bfff40,#b4ff4b,#abff54,#a2ff5d,#9bff64,#94ff6b,#8fff70,#8aff75,#86ff79,#81ff7e,#7eff81,#7bff84,#79ff86,#77ff88,#75ff8a,#74ff8b,#72ff8d,#71ff8e,#70ff8f,#6fff90,#6fff90,#6fff90,#6fff90,#70ff8f,#72ff8d,#74ff8b,#77ff88,#7bff84,#7fff80,#83ff7c,#88ff77,#8fff70,#99ff66,#a4ff5b,#b1ff4e,#c0ff3f,#d1ff2e,#e4ff1b,#fbff04,#fff000,#ffdd00,#ffca00,#ffb300,#ff9e00,#ff8f00,#ff8300,#ff7900,#ff7100,#ff6a00,#ff6300,#ff5d00,#ff5800,#ff5500,#ff5300,#ff5200,#ff5100,#ff5000,#ff4f00,#ff4e00,#ff4e00,#ff4d00,#ff4d00,#ff4d00,#ff4c00)"></i>
<i style="top:671.37px;height:26.93px;background:linear-gradient(90deg,#72ff8d,#75ff8a,#78ff87,#7bff84,#7dff82,#7fff80,#80ff7f,#81ff7e,#81ff7e,#80ff7f,#7fff80,#7eff81,#7cff83,#7bff84,#7bff84,#7bff84,#7bff84,#7cff83,#7cff83,#7eff81,#81ff7e,#86ff79,#8cff73,#96ff69,#a4ff5b,#b3ff4c,#c2ff3d,#d4ff2b,#e9ff16,#fffb00,#ffdd00,#ffb800,#ff8d00,#ff5300,#ff0f00,#eb0000,#d40000,#b00000,#9e0000,#950000,#8e0000,#870000,#830000,#840000,#880000,#900000,#a00000,#bc0000,#d40000,#e60000,#fc0000,#ff1700,#ff3300,#ff5200,#ff7000,#ff8b00,#ffa500,#ffbc00,#ffd300,#ffe700,#fffa00,#f0ff0f,#ddff22,#cdff32,#c0ff3f,#b5ff4a,#abff54,#a2ff5d,#9bff64,#95ff6a,#90ff6f,#8bff74,#87ff78,#83ff7c,#80ff7f,#7dff82,#7aff85,#78ff87,#76ff89,#75ff8a,#73ff8c,#71ff8e,#70ff8f,#6fff90,#6fff90,#6fff90,#6fff90,#71ff8e,#73ff8c,#76ff89,#7aff85,#7eff81,#83ff7c,#88ff77,#8fff70,#99ff66,#a4ff5b,#b3ff4c,#c4ff3b,#d8ff27,#ecff13,#fffc00,#ffea00,#ffd700,#ffc200,#ffac00,#ff9800,#ff8a00,#ff7e00,#ff7400,#ff6a00,#ff6100,#ff5900,#ff5200,#ff4c00,#ff4800,#ff4300,#ff3f00,#ff3c00,#ff3b00,#ff3b00,#ff3b00,#ff3b00,#ff3b00,#ff3b00,#ff3b00,#ff3b00)"></i>
<i style="top:697.70px;height:26.93px;background:linear-gradient(90deg,#71ff8e,#74ff8b,#77ff88,#7aff85,#7cff83,#7eff81,#7fff80,#80ff7f,#80ff7f,#7fff80,#7eff81,#7dff82,#7cff83,#7bff84,#7bff84,#7bff84,#7cff83,#7cff83,#7dff82,#7fff80,#82ff7d,#87ff78,#8dff72,#97ff68,#a4ff5b,#b3ff4c,#c2ff3d,#d4ff2b,#e9ff16,#fffb00,#ffdd00,#ffb800,#ff8c00,#ff5000,#ff0d00,#e90000,#d10000,#ad0000,#9e0000,#950000,#8f0000,#880000,#820000,#800000,#810000,#870000,#8f0000,#a60000,#c40000,#d90000,#ec0000,#ff0400,#ff1f00,#ff3c00,#ff5a00,#ff7800,#ff9300,#ffac00,#ffc300,#ffd700,#ffe800,#fff900,#f2ff0d,#dfff20,#ceff31,#c1ff3e,#b7ff48,#aeff51,#a6ff59,#a0ff5f,#99ff66,#94ff6b,#8eff71,#89ff76,#85ff7a,#81ff7e,#7dff82,#7bff84,#79ff86,#77ff88,#75ff8a,#73ff8c,#72ff8d,#71ff8e,#70ff8f,#70ff8f,#70ff8f,#72ff8d,#74ff8b,#77ff88,#7aff85,#7eff81,#82ff7d,#88ff77,#93ff6c,#a0ff5f,#adff52,#bcff43,#ccff33,#deff21,#f4ff0b,#fff600,#ffe600,#ffd600,#ffc300,#ffac00,#ff9800,#ff8a00,#ff7e00,#ff7400,#ff6900,#ff6000,#ff5700,#ff4e00,#ff4700,#ff3f00,#ff3700,#ff3200,#ff2e00,#ff2c00,#ff2b00,#ff2900,#ff2800,#ff2700,#ff2700,#ff2600,#ff2600)"></i>
<i style="top:724.02px;height:26.93px;background:linear-gradient(90deg,#70ff8f,#73ff8c,#76ff89,#79ff86,#7bff84,#7dff82,#7eff81,#7fff80,#7fff80,#7eff81,#7eff81,#7dff82,#7cff83,#7cff83,#7bff84,#7cff83,#7cff83,#7dff82,#7eff81,#80ff7f,#83ff7c,#88ff77,#8eff71,#97ff68,#a4ff5b,#b3ff4c,#c2ff3d,#d4ff2b,#e9ff16,#fffb00,#ffdd00,#ffb800,#ff8c00,#ff5000,#ff0d00,#e90000,#d10000,#b10000,#a00000,#970000,#910000,#8b0000,#850000,#800000,#800000,#820000,#890000,#930000,#ae0000,#cb0000,#de0000,#f20000,#ff0c00,#ff2700,#ff4400,#ff6300,#ff8000,#ff9a00,#ffb300,#ffc900,#ffda00,#ffe900,#fff800,#f5ff0a,#e1ff1e,#cfff30,#c2ff3d,#b9ff46,#b0ff4f,#a9ff56,#a3ff5c,#9dff62,#97ff68,#92ff6d,#8dff72,#88ff77,#84ff7b,#80ff7f,#7dff82,#7bff84,#79ff86,#77ff88,#75ff8a,#73ff8c,#72ff8d,#71ff8e,#72ff8d,#73ff8c,#75ff8a,#77ff88,#7aff85,#7eff81,#83ff7c,#88ff77,#93ff6c,#a0ff5f,#adff52,#bcff43,#ccff33,#deff21,#f4ff0b,#fff600,#ffe600,#ffd500,#ffc400,#ffb000,#ff9e00,#ff8e00,#ff8000,#ff7400,#ff6900,#ff5f00,#ff5600,#ff4e00,#ff4700,#ff3f00,#ff3800,#ff3200,#ff2e00,#ff2c00,#ff2900,#ff2700,#ff2500,#ff2300,#ff2200,#ff2100,#ff2100)"></i>
<i style="top:750.35px;height:26.93px;background:linear-gradient(90deg,#70ff8f,#73ff8c,#75ff8a,#78ff87,#7aff85,#7cff83,#7dff82,#7dff82,#7eff81,#7dff82,#7dff82,#7dff82,#7cff83,#7cff83,#7cff83,#7cff83,#7dff82,#7eff81,#7fff80,#81ff7e,#84ff7b,#89ff76,#90ff6f,#98ff67,#a5ff5a,#b3ff4c,#c2ff3d,#d3ff2c,#e9ff16,#fffb00,#ffdd00,#ffb700,#ff8b00,#ff5100,#ff1000,#ec0000,#d60000,#ba0000,#a90000,#a00000,#9a0000,#940000,#8e0000,#890000,#870000,#880000,#8c0000,#920000,#9e0000,#b80000,#d10000,#e30000,#f80000,#ff1300,#ff2f00,#ff4d00,#ff6b00,#ff8700,#ffa200,#ffba00,#ffce00,#ffde00,#ffed00,#fffc00,#efff10,#dbff24,#caff35,#c0ff3f,#b9ff46,#b2ff4d,#adff52,#a7ff58,#a2ff5d,#9cff63,#96ff69,#91ff6e,#8bff74,#86ff79,#82ff7d,#7fff80,#7dff82,#7aff85,#78ff87,#76ff89,#74ff8b,#74ff8b,#73ff8c,#74ff8b,#76ff89,#78ff87,#7bff84,#7fff80,#83ff7c,#88ff77,#91ff6e,#9cff63,#a8ff57,#b6ff49,#c6ff39,#d8ff27,#ecff13,#fffc00,#ffeb00,#ffdb00,#ffca00,#ffb700,#ffa400,#ff9400,#ff8700,#ff7b00,#ff7000,#ff6600,#ff5d00,#ff5400,#ff4c00,#ff4400,#ff3d00,#ff3600,#ff3100,#ff2d00,#ff2b00,#ff2800,#ff2600,#ff2400,#ff2200,#ff2100,#ff2100)"></i>
<i style="top:776.68px;height:26.93px;background:linear-gradient(90deg,#6fff90,#72ff8d,#75ff8a,#77ff88,#79ff86,#7bff84,#7cff83,#7cff83,#7cff83,#7cff83,#7cff83,#7cff83,#7cff83,#7cff83,#7cff83,#7cff83,#7dff82,#7eff81,#80ff7f,#82ff7d,#85ff7a,#8aff75,#91ff6e,#99ff66,#a5ff5a,#b3ff4c,#c2ff3d,#d3ff2c,#e9ff16,#fffb00,#ffdf00,#ffb900,#ff8e00,#ff5b00,#ff2300,#fa0000,#de0000,#ca0000,#bd0000,#b30000,#ac0000,#a60000,#a10000,#9d0000,#9a0000,#990000,#9b0000,#9e0000,#a40000,#af0000,#c40000,#d60000,#e90000,#ff0000,#ff1b00,#ff3700,#ff5500,#ff7300,#ff8f00,#ffa900,#ffc000,#ffd300,#ffe200,#fff100,#fdff02,#e9ff16,#d6ff29,#c7ff38,#beff41,#b7ff48,#b0ff4f,#abff54,#a6ff59,#a0ff5f,#9bff64,#96ff69,#91ff6e,#8cff73,#88ff77,#85ff7a,#81ff7e,#7eff81,#7aff85,#77ff88,#75ff8a,#74ff8b,#73ff8c,#74ff8b,#76ff89,#78ff87,#7bff84,#7fff80,#83ff7c,#88ff77,#8fff70,#99ff66,#a4ff5b,#b0ff4f,#bdff42,#ccff33,#ddff22,#f3ff0c,#fff600,#ffe300,#ffd000,#ffbd00,#ffaa00,#ff9900,#ff8c00,#ff8100,#ff7700,#ff6d00,#ff6300,#ff5a00,#ff5100,#ff4a00,#ff4400,#ff3e00,#ff3900,#ff3500,#ff3200,#ff2f00,#ff2c00,#ff2a00,#ff2800,#ff2700,#ff2600)"></i>
<i style="top:803.01px;height:26.93px;background:linear-gradient(90deg,#6fff90,#71ff8e,#74ff8b,#76ff89,#78ff87,#79ff86,#7aff85,#7bff84,#7bff84,#7cff83,#7cff83,#7cff83,#7cff83,#7cff83,#7cff83,#7dff82,#7eff81,#7fff80,#80ff7f,#83ff7c,#86ff79,#8bff74,#92ff6d,#9aff65,#a6ff59,#b3ff4c,#c2ff3d,#d3ff2c,#e9ff16,#fffc00,#ffe000,#ffbd00,#ff9600,#ff6900,#ff3700,#ff1000,#ee0000,#da0000,#d30000,#cf0000,#cb0000,#c20000,#b60000,#b20000,#b00000,#ae0000,#ae0000,#b00000,#b30000,#b80000,#c30000,#d20000,#e10000,#f40000,#ff0b00,#ff2300,#ff3f00,#ff5d00,#ff7b00,#ff9600,#ffb000,#ffc600,#ffd700,#ffe600,#fff500,#f7ff08,#e3ff1c,#d1ff2e,#c4ff3b,#bcff43,#b5ff4a,#afff50,#aaff55,#a4ff5b,#9fff60,#99ff66,#93ff6c,#8dff72,#88ff77,#85ff7a,#81ff7e,#7eff81,#7bff84,#79ff86,#77ff88,#76ff89,#76ff89,#76ff89,#78ff87,#7aff85,#7cff83,#80ff7f,#83ff7c,#87ff78,#8eff71,#97ff68,#a0ff5f,#abff54,#b8ff47,#c6ff39,#d7ff28,#ebff14,#fffc00,#ffec00,#ffdc00,#ffcb00,#ffb700,#ffa400,#ff9500,#ff8900,#ff7e00,#ff7400,#ff6c00,#ff6400,#ff5c00,#ff5600,#ff5100,#ff4c00,#ff4700,#ff4400,#ff4000,#ff3d00,#ff3b00,#ff3800,#ff3600,#ff3400,#ff3300)"></i>
<i style="top:829.34px;height:13.76px;background:linear-gradient(90deg,#6eff90,#71ff8e,#73ff8c,#74ff8b,#76ff89,#78ff87,#79ff86,#7aff85,#7aff85,#7bff84,#7bff84,#7bff84,#7cff83,#7cff83,#7dff82,#7dff82,#7eff81,#80ff7f,#81ff7e,#84ff7b,#87ff78,#8dff72,#93ff6c,#9bff64,#a6ff59,#b3ff4c,#c2ff3d,#d3ff2c,#e9ff16,#fffc00,#ffe200,#ffc300,#ffa100,#ff7b00,#ff5000,#ff2a00,#ff0c00,#f30000,#e60000,#db0000,#d40000,#d10000,#d20000,#ce0000,#c90000,#c60000,#c50000,#c50000,#c70000,#c90000,#cc0000,#d00000,#d80000,#eb0000,#ff0400,#ff1d00,#ff3900,#ff5500,#ff7100,#ff8c00,#ffa700,#ffbe00,#ffd100,#ffe100,#fff000,#ffff00,#eaff15,#d7ff28,#c8ff37,#bfff40,#b7ff48,#b1ff4e,#acff53,#a7ff58,#a1ff5e,#9aff65,#94ff6b,#8eff71,#89ff76,#85ff7a,#81ff7e,#7eff81,#7bff84,#79ff86,#77ff88,#76ff89,#76ff89,#76ff89,#78ff87,#7aff85,#7dff82,#80ff7f,#83ff7c,#87ff78,#8dff72,#94ff6b,#9dff62,#a7ff58,#b3ff4c,#c1ff3e,#d1ff2e,#e4ff1b,#faff05,#fff100,#ffe100,#ffd000,#ffbf00,#ffae00,#ff9e00,#ff9200,#ff8800,#ff7f00,#ff7700,#ff6f00,#ff6700,#ff6100,#ff5c00,#ff5900,#ff5600,#ff5400,#ff5200,#ff5100,#ff4f00,#ff4e00,#ff4d00,#ff4d00,#ff4c00)"></i>
</div></div>
<div class="cb" style="left:1452.2px;top:86px;width:24.8px;height:842.5px;background:linear-gradient(180deg,#800000 0%,#ff0000 12.5%,#ffff00 37.5%,#00ffff 62.5%,#0000ff 87.5%,#000080 100%)"></div>
<svg width="1535" height="1464" viewBox="0 0 1535 1464">
<defs><clipPath id="cp"><circle cx="193.5" cy="1277.0" r="154.0"/></clipPath>
<filter id="bp" x="-5%" y="-5%" width="110%" height="110%"><feGaussianBlur stdDeviation="1.6"/></filter></defs>
<g clip-path="url(#cp)">
<g filter="url(#bp)">
<rect x="31.5" y="1115.0" width="324.0" height="324.0" fill="#000094"/>
<path fill="#000094" d="M30.3 1113.8L356.7 1113.8 356.7 1440.2 30.3 1440.2 30.3 1117.4Z"/>
<path fill="#0000db" d="M30.3 1113.8L356.7 1113.8 356.7 1440.2 30.3 1440.2 30.3 1117.4ZM85.3 1271.4L81.6 1271.7 77.9 1274 74.3 1279.3 72.4 1286.2 72.2 1289.8 73.1 1297.2 75.9 1304.5 78 1308.2 81.6 1312.6 89 1319.2 94.7 1322.9 100 1325.3 107.3 1326.9 111.2 1326.5 115 1322.9 114.7 1319.2 113.3 1315.5 106.7 1304.5 105.1 1300.8 102.2 1289.8 100 1284.3 96.3 1278.9 92.6 1275.1 89 1272.5 85.7 1271.5ZM221 1333.4L220.1 1333.9 217.7 1337.5 220.6 1341.2 224.7 1342 228.3 1341.6 229.8 1341.2 233 1337.5 229.5 1333.9 224.7 1333ZM298 1274.5L294.4 1276.4 290.7 1279.5 285.4 1286.2 283.2 1289.8 278.1 1304.5 271.5 1315.5 269.9 1319.2 269.2 1322.9 270.6 1326.5 272.4 1327.5 276 1328.1 279.7 1327.7 287 1325.3 297 1319.2 304.9 1311.8 309.7 1304.5 312.2 1297.2 312.7 1293.5 312.2 1286.2 311.1 1282.5 309.1 1278.5 305.4 1275 301.7 1273.9Z"/>
<path fill="#000bff" d="M30.3 1113.8L356.7 1113.8 356.7 1440.2 30.3 1440.2 30.3 1117.4ZM166 1146.4L155 1149.3 141.6 1154.1 122 1161.8 111 1167.1 103.6 1171.8 96.3 1178.1 91.4 1183.5 85.3 1191.5 76.5 1205.5 69.3 1220.1 63.3 1237.1 56.5 1260.5 54.4 1271.5 54 1282.5 55.6 1293.5 57.9 1300.8 61.2 1308.2 66.2 1315.5 70.6 1320 78.9 1326.5 92.6 1334.2 125.6 1348.2 133 1349.9 136.6 1350.2 158.7 1348.9 169.7 1346.1 172.7 1344.9 178.7 1341.2 180.7 1337.5 177.1 1333.9 169.8 1330.2 166 1329 144 1323.7 140.3 1322.2 133 1316.9 117 1300.8 114.4 1297.2 113.3 1293.5 111 1281.9 106.2 1264.2 106 1256.8 108 1245.8 110.8 1238.5 114.4 1231.1 135.4 1198.1 144 1187.4 151.3 1181.2 158.7 1177.4 169.7 1175.1 177 1175.1 191.7 1176.8 213.7 1175.2 224.7 1176.6 228.3 1177.7 235.7 1181.6 239.4 1184.4 245.7 1190.8 251.3 1198.1 270.3 1227.5 274.4 1234.8 279 1245.8 281 1256.8 280.8 1264.2 275.5 1282.5 272.2 1297.2 268.7 1302 254 1317.1 250.4 1320 246.7 1322 243 1322.8 232 1323 224.7 1323.7 213.5 1326.5 204.7 1330.2 198.1 1333.9 194.8 1337.5 197.6 1341.2 203.4 1344.9 210.7 1348.5 217.3 1350.9 224.7 1352.5 232 1353 246.7 1351.8 257.7 1349.4 268.7 1345.6 279.7 1340.9 294.4 1333.5 301.7 1329 310.1 1322.9 317.7 1315.5 322.9 1308.2 326.3 1300.8 328.4 1293.5 329.6 1286.2 329.9 1275.2 329.2 1267.8 327.2 1256.8 320.9 1231.1 317.3 1220.1 312.7 1209.6 309.1 1202.7 298 1185.9 292.8 1179.8 287 1174.2 279.7 1168.8 272.4 1164.7 237.4 1150.4 221 1145.7 210 1144.2 199 1143.8 180.7 1144.4 169.7 1145.7Z"/>
<path fill="#003aff" d="M30.3 1113.8L86.8 1113.8 77.9 1124.8 72.9 1132.1 66.9 1142 61 1154.1 55.9 1167.1 44.9 1198.9 42 1209.1 39.7 1220.1 38.3 1231.1 35.7 1264.2 36.2 1278.8 38.6 1289.8 41.1 1297.2 47.9 1311.8 52.8 1319.2 60.4 1326.5 72.1 1333.9 114.6 1354.5 122 1357.5 129.3 1359.6 136.6 1360.1 151.3 1358.9 166 1356.4 180.7 1352.8 191.7 1351.9 199 1352.9 217.3 1358.2 224.7 1359.7 232 1360.5 243 1360.9 257.7 1359.6 268.7 1356.3 279.7 1351.2 304.4 1337.5 316 1330.2 325.4 1322.9 332.2 1315.5 334.8 1311.8 338.7 1304.5 341.5 1297.2 344.6 1286.2 346.7 1275.2 347.4 1267.8 346.7 1231.1 345.6 1220.1 343.6 1209.1 340.6 1198.1 331.9 1172.5 323.7 1152.2 319 1143.1 312.7 1133.1 305.4 1123.3 297.2 1113.8 356.7 1113.8 356.7 1440.2 30.3 1440.2 30.3 1117.4ZM187.7 1194.5L199 1194.5 206.3 1195.4 213.7 1197 224.7 1201.5 235.7 1209.1 243 1216 250.4 1224 256 1231.1 260.9 1238.5 263 1242.2 266 1249.5 268 1260.5 268 1267.8 267.2 1275.2 265.9 1282.5 263.7 1289.8 259.5 1297.2 250.4 1307.7 244.6 1311.8 239.4 1314.1 210 1321.3 195.3 1324 184.3 1324.3 177 1323.5 169.7 1321.8 147.6 1314.1 140.3 1310.1 133 1303.6 125.1 1293.5 121.9 1286.2 120.2 1278.8 119.2 1271.5 118.8 1264.2 119.2 1256.8 122.2 1245.8 128.2 1234.8 136.6 1223.9 147.6 1212.3 158.7 1203.5 169.7 1198.2 177 1196 184.3 1194.8Z"/>
<path fill="#0069ff" d="M175 1209.1L180.7 1207.6 188 1206.5 199 1206.5 210 1208.5 221 1212.9 232 1220.3 246.7 1234.3 253 1242.2 256.9 1249.5 259.3 1256.8 259.8 1260.5 259.9 1271.5 259.1 1278.8 258.1 1282.5 254.7 1289.8 250.3 1297.2 247.4 1300.8 243 1304.6 239.4 1306.8 221 1313.7 206.3 1316.9 188 1317.9 177 1317.6 169.7 1316 162.3 1313.3 147.6 1306.6 144 1304.3 139.9 1300.8 136.8 1297.2 130.1 1286.2 127.7 1278.8 126.9 1264.2 127.6 1256.8 128.6 1253.2 131.8 1245.8 136.6 1238.3 151.3 1223.3 162.3 1214.9 173.3 1209.6ZM355.2 1300.8L356.7 1297.4 356.7 1440.2 30.3 1440.2 30.3 1312.4 34.5 1319.2 40.4 1326.5 44.4 1330.2 49.7 1333.9 57 1337.5 92.2 1352.2 111 1361.9 122 1365.7 133 1367.3 147.6 1366.7 162.3 1364.5 184.3 1359.6 191.7 1359 199 1359.8 217.3 1364.7 228.3 1366.8 239.4 1367.9 250.4 1368.3 262.7 1366.9 268.7 1365.3 276 1362.6 283.4 1358.9 326.8 1333.9 334.7 1328.4 341.1 1322.9 347.1 1315.5 353.5 1304.5Z"/>
<path fill="#0098ff" d="M184.9 1216.5L195.3 1215.9 202.7 1216.6 210 1218.3 221 1223.1 232 1230.6 245 1242.2 250.1 1249.5 253.2 1256.8 254 1260.5 254.4 1267.8 253.5 1278.8 250.7 1286.2 246.5 1293.5 243.6 1297.2 239.4 1300.8 235.7 1303 224.7 1307.9 217.3 1310.6 206.3 1312.6 180.7 1313.3 173.3 1312.3 166 1310 151.3 1302.8 144 1297.7 138.1 1289.8 134.4 1282.5 133.3 1278.8 132.4 1271.5 132.9 1260.5 134.9 1253.2 140.3 1244 144 1240 151.3 1233.5 162.3 1225.2 173.3 1219.6 184.3 1216.5ZM353.8 1326.5L356.7 1323.4 356.7 1440.2 30.3 1440.2 30.3 1336.8 36.6 1341.2 41.3 1343.5 70.6 1352.6 85.3 1358.6 107.3 1369.2 114.6 1371.8 122 1373.3 136.6 1374.2 147.6 1373.7 162.3 1371.5 184.3 1366.2 191.7 1365.4 199 1366.2 224.7 1372.7 243 1375.1 254 1375.6 261.4 1375.1 268.7 1373.9 276 1371.7 283.4 1368.7 316.4 1349.4 339.2 1337.5 345.7 1333.4 353.1 1327.2Z"/>
<path fill="#00c7ff" d="M175 1227.5L184.3 1224.8 191.7 1223.9 199 1224.3 210 1226.8 221 1231.5 235.7 1241.1 243 1247.8 246.6 1253.2 249.2 1260.5 250 1271.5 248.9 1278.8 246 1286.2 241.1 1293.5 237 1297.2 230.9 1300.8 221 1305.5 213.7 1307.6 202.7 1309 184.3 1309.3 173.3 1308.1 166 1305.8 151.3 1298 147.6 1295.2 143 1289.8 139.2 1282.5 138 1278.8 136.8 1271.5 137.6 1260.5 140.3 1253.2 144 1247.6 151.3 1241 162.3 1233.5 173.3 1228.1ZM353.2 1341.2L356.7 1338.9 356.7 1440.2 30.3 1440.2 30.3 1351.8 41.3 1355.5 59.6 1359.1 66.9 1361.1 77.9 1365.6 103.6 1377.5 111 1379.9 118.3 1381.4 125.6 1382 136.6 1382 147.6 1381.1 166 1378.1 184.3 1373.4 191.7 1372.2 199 1373 221 1379.1 246.7 1382.9 257.7 1383.6 265 1383.1 272.4 1381.8 279.7 1379.9 287 1377.1 298 1371.4 322.5 1355.9 342.1 1347.2 353.1 1341.3Z"/>
<path fill="#00f6ff" d="M176.4 1234.8L184.3 1232.9 191.7 1232.1 199 1232.4 210 1234.7 221 1238.9 232 1245 237.9 1249.5 241.2 1253.2 243.3 1256.8 244.6 1260.5 245.9 1267.8 245.4 1275.2 243 1283 239.4 1289.4 235.3 1293.5 224.7 1299.9 217.3 1302.9 210 1304.6 199 1305.5 184.3 1305.6 173.3 1304.2 166 1301.8 155 1295.7 147.9 1289.8 145.4 1286.2 142.3 1278.8 141 1271.5 141.4 1264.2 144 1256.1 147.6 1250.8 151.3 1247.5 162.3 1240.7 173.3 1235.8ZM356.6 1352.2L356.7 1440.2 30.3 1440.2 30.3 1365.2 63.3 1371.7 70.6 1374.4 100 1387.4 111 1391.2 118.3 1392.5 129.3 1392.9 140.3 1391.8 155 1388.6 173.3 1385.7 191.7 1380.9 197.6 1381.5 206.3 1384.6 217.3 1387 232 1388.6 250.4 1392.3 261.4 1392.6 272.4 1391.4 279.7 1389.8 294.4 1384.8 305.4 1379 327.4 1365 353.1 1353.9Z"/>
<path fill="#26ffd9" d="M176.9 1242.2L184.3 1241 191.7 1240.7 202.7 1241 210 1242.2 217.3 1244.3 228.3 1249.1 234.4 1253.2 237.7 1256.8 239.6 1260.5 240.7 1264.2 241.4 1271.5 239.9 1278.8 236.5 1286.2 233.2 1289.8 228.3 1293.5 221 1297.6 213.7 1300 202.7 1301.6 191.7 1302.1 180.7 1301.4 173.3 1300.2 166 1297.7 158.7 1293.5 153.8 1289.8 150.3 1286.2 146.9 1278.8 145.5 1271.5 146.2 1264.2 147.6 1259.6 151.3 1254.2 155 1251.2 166 1245.7 173.3 1243ZM353.5 1366.9L356.7 1365.5 356.7 1440.2 30.3 1440.2 30.3 1379.4 52.3 1383.5 63.3 1386.4 74.3 1390.6 103.6 1403.2 114.6 1406.8 122 1408 133 1407.8 144 1406.4 151.3 1404.8 166 1400.1 177 1398.4 184.3 1398.8 191.7 1400.2 195.3 1400.1 206.3 1398.4 213.7 1398.7 221.2 1399.9 235.7 1404 250.4 1404.4 261.4 1403.4 276 1401.3 287 1398.7 294.4 1396.3 309.1 1389.7 334.7 1375 353.1 1367.1Z"/>
<path fill="#55ffaa" d="M177.5 1249.5L184.3 1249.2 195.3 1249.8 206.3 1249.2 213.7 1250.3 221 1252.4 228.3 1255.8 232 1259 234.8 1264.2 235.7 1267.8 235.4 1275.2 232.7 1282.5 228.3 1287.5 224.7 1290.3 217.3 1294.4 210 1296.3 195.3 1298.2 181.7 1297.2 173.3 1295.7 169.7 1294.4 161.6 1289.8 157 1286.2 154.1 1282.5 152.5 1278.8 151.3 1274.1 151.2 1267.8 152.1 1264.2 155 1258.9 158.7 1255.7 162.3 1253.8 169.7 1251.2 177 1249.5ZM353.2 1381.5L356.7 1380 356.7 1440.2 30.3 1440.2 30.3 1395.5 48.6 1399.4 62.9 1403.6 99 1418.2 111 1422.2 122 1424.3 136.6 1424.7 147.6 1423.6 155 1421.9 162.3 1419.2 179.3 1410.9 184.3 1409.5 191.7 1408.4 199 1408.6 206.3 1409.9 224.7 1417.3 232 1419.2 243 1419.6 257.7 1417.3 283.4 1411.9 301.7 1406.2 312.7 1401.4 338.4 1388.2 353.1 1381.6Z"/>
<path fill="#85ff7a" d="M168.1 1260.5L177 1257.9 180.7 1257.6 191.7 1258.1 206.3 1257.6 210 1257.9 218.8 1260.5 224.4 1264.2 226.2 1267.8 226.8 1271.5 226.4 1275.2 224.7 1279.6 222.4 1282.5 217.3 1286.6 210 1289.8 195.3 1292.2 191.7 1292.3 177 1289.9 173.3 1288.5 168.9 1286.2 164.5 1282.5 161.7 1278.8 160.5 1275.2 160.1 1271.5 160.7 1267.8 162.4 1264.2 166 1261.7ZM356.2 1396.2L356.7 1396 356.7 1440.2 157.2 1440.2 166 1438.2 184.3 1432.3 191.7 1430.5 199 1427.3 219.6 1432.9 232 1434.6 246.7 1434.1 261.4 1431.5 287 1424.9 305.4 1418.9 320.1 1412.8 353.1 1397.6ZM30.3 1414.6L30.3 1413.8 52.3 1419.5 96.3 1435.3 115.1 1440.2 30.3 1440.2 30.3 1418.2Z"/>
<path fill="#b4ff4b" d="M353.4 1414.6L356.7 1413.1 356.7 1440.2 288.2 1440.2 316.4 1430.3 353.1 1414.7ZM30.3 1436.6L30.3 1434.1 52 1440.2 30.3 1440.2Z"/>
<path fill="#e3ff1c" d="M352.9 1432.9L356.7 1431.3 356.7 1440.2 335.1 1440.2 349.4 1434.4Z"/>
</g>
<path fill="none" stroke="#000" stroke-width="0.8" stroke-opacity="0.85" stroke-linejoin="round" d="M177 1139.4L166 1140.4 153.9 1143.1 143.6 1146.8 118.3 1158 111 1161.8 103.6 1166.5 96.3 1172.7 89 1180.8 81.6 1191.3 71.4 1209.1 66.9 1218.8 62.6 1231.1 55.6 1256.8 52.7 1271.5 52.5 1282.5 54.3 1293.5 58.1 1304.5 62.1 1311.8 66.9 1317.9 72.3 1322.9 81.6 1329.2 90.2 1333.9 114.6 1344.9 125.6 1349.3 133 1351.1 136.6 1351.3 151.3 1350.6 162.3 1349.2 166 1348.4 175.4 1344.9 182.8 1341.2 184.3 1339.6 188 1338.4 191.7 1339.6 193.5 1341.2 208.8 1348.5 217.3 1351.7 224.7 1353.2 235.7 1353.6 250.3 1352.2 257.7 1350.4 272.4 1345.1 283.4 1340.1 295.4 1333.9 306.8 1326.5 315.6 1319.2 321.8 1311.8 326.1 1304.5 328.8 1297.2 330.4 1289.8 331.5 1278.8 330.4 1264.2 323.7 1232.1 320.1 1220.1 316.4 1210.9 305.4 1190.8 300.4 1183.5 294.4 1175.9 287 1168.9 279.7 1163.6 268.7 1157.7 246.7 1147.7 235.7 1143.3 228.3 1141.2 218.7 1139.4 210 1138.8 180.7 1139.2ZM164.5 1179.8L173.3 1178.3 180.7 1178.4 191.7 1179.5 206.3 1178.5 213.7 1178.5 224.7 1180.5 228.3 1181.9 235.7 1186 243 1192.3 248.1 1198.1 268.3 1227.5 274.4 1238.5 277.3 1245.8 279 1253.2 279.6 1260.5 278.8 1267.8 274.6 1282.5 272.5 1293.5 271.2 1297.2 268.7 1300.8 254 1315.8 250.4 1318.8 246.7 1320.9 243 1321.8 224.7 1323.1 211.7 1326.5 194.1 1333.9 191.7 1335.7 188 1336.9 184.3 1336.2 180.8 1333.9 172.4 1330.2 166 1328 144 1322.5 140.3 1321 133 1315.5 118.3 1301 115.5 1297.2 114.2 1293.5 111.1 1278.8 108.1 1267.8 107.4 1260.5 108.6 1249.5 112.5 1238.5 116.3 1231.1 133 1205.9 141.7 1194.5 147.6 1188.5 151.3 1185.7 158.7 1181.6 162.3 1180.3ZM356.7 1122.1L355.2 1113.8M181.5 1205.5L191.7 1204.3 202.7 1205 213.7 1207.7 224.7 1212.9 235.7 1221.2 250.4 1236.2 256.6 1245.8 259.7 1253.2 260.6 1256.8 261.2 1264.2 260.3 1278.8 258 1286.2 250.4 1299 245 1304.5 239.4 1308 221 1314.5 210 1317.2 202.7 1318.1 180.7 1318.9 173.3 1317.9 162.3 1314.3 147.6 1307.7 140.3 1302.8 135.3 1297.2 130.7 1289.8 127.4 1282.5 126.5 1278.8 125.8 1271.5 125.7 1264.2 126.3 1256.8 127.2 1253.2 130.2 1245.8 134.8 1238.5 147.6 1224.5 158.7 1215.2 169.7 1209 180.7 1205.6ZM30.3 1305.9L35.7 1315.5 40.8 1322.9 44.9 1327.2 52.3 1332.7 61.6 1337.5 92.6 1350.8 111 1360.3 122 1364.3 133 1366 147.6 1365.4 162.3 1363.2 184.3 1358.3 191.7 1357.8 199 1358.6 224.7 1365 239.4 1366.7 250.4 1366.9 257.7 1366.3 265 1364.8 276 1360.9 311.3 1341.2 329.2 1330.2 338.2 1322.9 344.4 1315.5 350.7 1304.5 356.7 1289.7M174.9 1223.8L184.3 1221.2 191.7 1220.3 199 1220.6 210 1223.1 217.3 1226 228.3 1232.5 240.7 1242.2 247 1249.5 250.4 1256.8 251.3 1260.5 252 1267.8 251.6 1275.2 250.9 1278.8 248.1 1286.2 243.5 1293.5 239.4 1297.8 234.7 1300.8 221 1307.2 213.7 1309.3 202.7 1310.7 180.7 1311 173.3 1310 166 1307.6 151.3 1300.1 147.6 1297.7 144 1294.1 140.9 1289.8 138.8 1286.2 135.9 1278.8 134.9 1271.5 135.5 1260.5 137.9 1253.2 142.6 1245.8 147.6 1240.8 162.3 1230 173.3 1224.4ZM30.3 1345.5L41.3 1350.2 63.3 1355.5 70.6 1357.8 81.6 1362.4 103.6 1372.9 111 1375.6 118.3 1377.3 136.6 1378.3 147.6 1377.6 162.3 1375.4 184.3 1370 191.7 1369 199 1369.8 217.3 1375 224.7 1376.4 246.7 1379.4 257.7 1379.8 265 1379.2 272.4 1377.8 279.7 1375.6 287 1372.5 294.4 1368.6 320.1 1352.6 345.7 1340.1 356.7 1332.4M187.1 1234.8L195.3 1234.4 202.7 1235.2 213.7 1237.9 221 1240.9 232 1246.8 235.8 1249.5 239.5 1253.2 243.3 1260.5 244.7 1267.8 244.2 1275.2 242 1282.5 239.4 1287.5 235.7 1291.6 227.7 1297.2 220.3 1300.8 210 1303.5 199 1304.5 184.3 1304.6 177 1303.8 169.7 1302.1 162.3 1298.8 153.6 1293.5 147.6 1287.6 144.9 1282.5 142.7 1275.2 142.2 1267.8 143.6 1260.5 145.1 1256.8 147.6 1252.8 151.3 1249.2 155 1246.7 166 1240.8 173.3 1237.9 184.3 1235.2ZM30.3 1369L55.9 1373.7 63.3 1375.6 70.6 1378.2 103.6 1392.5 111 1394.9 118.3 1396.4 129.3 1396.7 140.3 1395.4 155 1391.7 180.7 1387.6 191.7 1384.5 195.3 1384.6 206.3 1388.2 217.3 1390 232 1391.4 246.7 1394.9 254 1395.6 261.4 1395.5 272.4 1394.2 279.7 1392.7 294.4 1388 305.4 1382.5 327.4 1368.7 356.7 1355.8M178.4 1249.5L184.3 1249.3 195.3 1249.9 206.3 1249.3 213.7 1250.3 221 1252.5 228.3 1255.8 232 1259.1 234.7 1264.2 235.6 1267.8 235.3 1275.2 232.6 1282.5 228.3 1287.4 224.7 1290.2 217.3 1294.3 210 1296.2 195.3 1298.1 182.1 1297.2 173.3 1295.6 169.7 1294.4 161.7 1289.8 157.1 1286.2 154.2 1282.5 152.6 1278.8 151.3 1273.5 151.2 1267.8 152.1 1264.2 155 1259 158.7 1255.8 162.3 1253.9 169.7 1251.3 177 1249.6ZM30.3 1395.6L48.6 1399.6 62.3 1403.6 98.5 1418.2 111 1422.3 122 1424.4 136.6 1424.9 147.6 1423.8 155 1422.1 162.3 1419.4 179.7 1410.9 184.3 1409.6 191.7 1408.5 199 1408.7 206.3 1410.1 224.7 1417.4 232 1419.4 243 1419.7 261.4 1416.7 283.4 1412.1 301.7 1406.3 312.7 1401.5 338.4 1388.4 356.7 1380.2M30.3 1428.7L48.6 1433.7 68.6 1440.2M273.6 1440.2L290.7 1435.3 309.1 1429 356.7 1408.6"/>
</g>
<circle cx="193.5" cy="1277.0" r="154.8" fill="none" stroke="#fff" stroke-width="3.5" filter="url(#bp)"/>
<g fill="#050510" fill-opacity="0.75"><circle cx="152.6" cy="1163.3" r="1.9"/><circle cx="232.5" cy="1162.7" r="1.9"/><circle cx="115.6" cy="1180.5" r="1.9"/><circle cx="269.5" cy="1180.5" r="1.9"/><circle cx="86.3" cy="1211.6" r="1.9"/><circle cx="299.2" cy="1211.2" r="1.9"/><circle cx="113.0" cy="1216.8" r="1.9"/><circle cx="140.1" cy="1221.1" r="1.9"/><circle cx="246.7" cy="1220.7" r="1.9"/><circle cx="273.5" cy="1216.8" r="1.9"/><circle cx="102.5" cy="1255.2" r="1.9"/><circle cx="252.3" cy="1254.4" r="1.9"/><circle cx="283.4" cy="1254.4" r="1.9"/><circle cx="104.1" cy="1291.8" r="1.9"/><circle cx="135.2" cy="1286.9" r="1.9"/><circle cx="192.8" cy="1282.9" r="1.9"/><circle cx="222.0" cy="1284.1" r="1.9"/><circle cx="251.1" cy="1286.5" r="1.9"/><circle cx="282.0" cy="1289.5" r="1.9"/><circle cx="141.1" cy="1314.2" r="1.9"/><circle cx="167.5" cy="1310.3" r="1.9"/><circle cx="192.8" cy="1308.9" r="1.9"/><circle cx="220.0" cy="1309.9" r="1.9"/><circle cx="245.7" cy="1313.8" r="1.9"/><circle cx="114.0" cy="1322.2" r="1.9"/><circle cx="272.5" cy="1320.6" r="1.9"/><circle cx="86.3" cy="1333.1" r="1.9"/><circle cx="64.1" cy="1345.9" r="1.9"/><circle cx="321.6" cy="1346.5" r="1.9"/><circle cx="130.4" cy="1347.5" r="1.9"/><circle cx="150.2" cy="1339.0" r="1.9"/><circle cx="171.4" cy="1335.0" r="1.9"/><circle cx="192.8" cy="1333.1" r="1.9"/><circle cx="215.0" cy="1333.1" r="1.9"/><circle cx="255.6" cy="1347.5" r="1.9"/><circle cx="161.9" cy="1361.4" r="1.9"/><circle cx="192.8" cy="1357.8" r="1.9"/><circle cx="223.9" cy="1361.4" r="1.9"/><circle cx="165.1" cy="1381.6" r="1.9"/><circle cx="192.8" cy="1382.0" r="1.9"/><circle cx="220.6" cy="1381.6" r="1.9"/><circle cx="276.4" cy="1357.8" r="1.9"/><circle cx="110.0" cy="1357.8" r="1.9"/><circle cx="344.2" cy="1250.8" r="1.9"/><circle cx="153.6" cy="1188.4" r="1.9"/><circle cx="232.5" cy="1188.4" r="1.9"/><circle cx="167.1" cy="1223.5" r="1.9"/><circle cx="192.6" cy="1224.1" r="1.9"/><circle cx="220.4" cy="1223.1" r="1.9"/><circle cx="134.2" cy="1254.8" r="1.9"/><circle cx="164.1" cy="1254.8" r="1.9"/><circle cx="222.0" cy="1254.4" r="1.9"/><circle cx="164.5" cy="1283.5" r="1.9"/><circle cx="236.2" cy="1338.0" r="1.9"/><circle cx="313.1" cy="1298.4" r="1.9"/><circle cx="297.8" cy="1332.5" r="1.9"/><circle cx="41.7" cy="1250.0" r="1.9"/></g>
<g fill="none" stroke="#000" stroke-linecap="round" stroke-linejoin="round">
<ellipse cx="193.2" cy="1276.7" rx="110.4" ry="114.0" stroke-width="5.4"/>
<path d="M171.7 1166.2L185.2 1147.2Q187.7 1143.4 191.2 1143.4L195.2 1143.4Q198.7 1143.4 201.2 1147.2L214.7 1166.2" stroke-width="5.4"/>
<path d="M84.7 1248.5L76.7 1248.0Q70.8 1248.0 70.6 1255.0L69.7 1299.0Q69.5 1307.5 76.7 1307.0L85.7 1304.5" stroke-width="4.428"/>
<path d="M301.7 1248.5L309.7 1248.0Q315.6 1248.0 315.8 1255.0L316.7 1299.0Q316.9 1307.5 309.7 1307.0L300.7 1304.5" stroke-width="4.428"/>
</g>
<defs><clipPath id="ch"><circle cx="777.5" cy="1277.5" r="154.0"/></clipPath>
<filter id="bh" x="-5%" y="-5%" width="110%" height="110%"><feGaussianBlur stdDeviation="1.6"/></filter></defs>
<g clip-path="url(#ch)">
<g filter="url(#bh)">
<rect x="615.5" y="1115.5" width="324.0" height="324.0" fill="#000094"/>
<path fill="#000094" d="M614.3 1114.3L940.7 1114.3 940.7 1440.7 614.3 1440.7 614.3 1117.9Z"/>
<path fill="#0000db" d="M614.3 1114.3L940.7 1114.3 940.7 1440.7 614.3 1440.7 614.3 1117.9Z"/>
<path fill="#000bff" d="M614.3 1114.3L940.7 1114.3 940.7 1440.7 614.3 1440.7 614.3 1117.9ZM695 1301.2L694.1 1305 694.5 1308.7 697.2 1312.3 702.3 1314.2 706 1314.4 709.6 1313.8 713 1312.3 713.6 1308.7 711 1305 706 1300.8 702.3 1299.2 698.6 1298.7ZM863.7 1181L861.6 1184 861.8 1187.6 869.2 1209.6 874.7 1235.5 878.4 1242.6 882 1244 885.7 1241.9 889.4 1235.8 890.7 1231.6 893.1 1220.6 893.1 1213.3 892.5 1209.6 889.4 1201.3 885.7 1195.8 882 1191.5 874.7 1185 871 1182.6 867.4 1181.1Z"/>
<path fill="#003aff" d="M614.3 1114.3L711.3 1114.3 701.9 1136.3 696.7 1143.6 687.6 1153.6 680.1 1165.6 673 1181.6 667.8 1195 665.8 1202.3 665 1209.6 665.2 1217 667.1 1231.6 667.5 1239 665.5 1257.3 666.1 1261 667.4 1264.7 669.3 1268.2 673 1272.5 680.3 1279.3 683.4 1283 684.8 1286.7 685.5 1290.3 687.1 1308.7 688 1312.3 690.2 1316 695 1319.8 698.6 1320.9 706 1321.8 717 1321.3 728 1319.9 731.6 1318.1 733.6 1316 731.9 1312.3 724.3 1306.9 709.6 1294.7 692.9 1283 689.8 1279.3 688.5 1275.7 684.4 1250 684.6 1239 685.4 1235.3 688.4 1228 704.3 1198.6 713.3 1186.7 728 1171.7 739 1163.6 746.3 1160.1 753.7 1158.1 764.7 1156.6 794 1157 805 1158.9 816 1163.1 823.4 1168 827 1171.2 838 1183.1 850.6 1198.6 855.1 1206 858.8 1213.3 862.2 1224.3 864.2 1235.3 865.9 1250 866.1 1261 865.1 1268.3 862.1 1275.7 859.5 1279.3 847.1 1294 830.2 1308.7 829.5 1312.3 830.7 1313.9 835.2 1316 845.4 1316.2 852.7 1314.8 860 1312.4 864.4 1308.7 867.4 1302.7 872.6 1283 876.1 1275.7 882 1268.3 893.1 1257.7 896.7 1251.3 900.4 1241.3 905.2 1224.3 907.4 1213.3 907.7 1206 906.5 1198.6 903.9 1191.3 900.4 1184.7 886.3 1161.9 882 1156.8 874.7 1149.9 859 1139.9 854.9 1136.3 849.9 1128.9 841.8 1114.3 940.7 1114.3 940.7 1440.7 614.3 1440.7 614.3 1117.9Z"/>
<path fill="#0069ff" d="M614.3 1114.3L670.3 1114.3 668 1128.9 659.5 1173 654.1 1191.3 652.4 1202.3 652.5 1209.6 653.5 1217 658.1 1235.3 659.4 1242.7 659.8 1257.3 660.4 1261 661.9 1265.9 665.2 1272 673.7 1283 678.1 1290.3 680.4 1297.7 683.5 1312.3 684.9 1316 687.1 1319.7 691.1 1323.4 695 1325 702.3 1326.3 709.6 1326.6 728 1326.1 739 1325 746.9 1323.4 750.3 1319.7 742.1 1312.3 736.7 1308.7 728 1303.9 720.6 1298.7 702.6 1283 696.5 1275.7 693.3 1268.3 690.9 1253.7 691 1242.7 692.5 1235.3 695.8 1228 707.5 1206 713.3 1197.7 720.6 1189.9 735.3 1177.1 742.7 1172.2 753.7 1167.7 764.7 1166.1 794 1166.6 801.3 1167.8 808.7 1170.2 816 1174.1 823.4 1179.9 838 1194 845.4 1202.5 851.7 1213.3 854.8 1220.6 858.2 1231.6 859.2 1239 859.5 1246.3 859.4 1257.3 858.4 1264.7 857.3 1268.3 854 1275.7 846.6 1286.7 838 1295.8 825.3 1305 821.6 1308.7 819.2 1312.3 818.1 1316 820.2 1319.7 823.4 1321.1 827 1322.1 834.4 1322.8 845.4 1322.3 856.4 1320.6 863.7 1318.7 868.4 1316 871.1 1312.3 876.8 1294 882 1283 887.2 1275.7 897.3 1264.7 900.1 1261 901.9 1257.3 907.7 1242.7 915.1 1220.6 917.2 1213.3 918.4 1206 918.5 1198.6 917.7 1191.3 916.2 1184 912.8 1173 904.1 1149.3 887.7 1114.3 940.7 1114.3 940.7 1440.7 614.3 1440.7 614.3 1117.9ZM772 1315.5L761.4 1319.7 759.5 1323.4 767 1327 772 1328.1 779.3 1328.3 784.7 1327 789.4 1323.4 788.8 1319.7 783.7 1316 779.3 1314.9 775.7 1314.9Z"/>
<path fill="#0098ff" d="M614.3 1114.3L637.2 1114.3 639.3 1132.6 640.4 1150.9 640.5 1169.3 639.1 1195 639.5 1202.3 640.6 1209.6 643.8 1220.6 650.9 1236.7 653 1242.7 654.4 1250 655.4 1261 657.7 1268.3 662 1275.7 670.3 1286.7 674.6 1294 677.2 1301.3 681 1316 684 1322.1 689.1 1327 695 1329.3 698.6 1330 709.6 1330.5 750 1330.5 775.7 1332.7 786.7 1331.6 805 1326.3 808.7 1326 830.7 1327.6 849 1326.5 865.5 1323.4 871 1321 872.7 1319.7 875.1 1316 879.3 1301.3 884 1290.3 889.4 1282.1 903.8 1264.7 907.9 1257.3 922.8 1220.6 927.2 1206 928.8 1191.3 927.8 1173 924.6 1150.9 917.4 1114.3 940.7 1114.3 940.7 1440.7 614.3 1440.7 614.3 1117.9ZM758.8 1173L768.3 1172.1 794 1172.8 805 1175.3 812.3 1178.8 819.7 1184.1 834.4 1197.2 841.7 1205.2 846.7 1213.3 851.6 1224.3 854.1 1231.6 855.4 1242.7 854.9 1261 854.1 1264.7 851.3 1272 847.1 1279.3 842.1 1286.7 834.9 1294 819.7 1304.7 808.7 1314.5 801.3 1316.9 797.7 1316.5 784.4 1312.3 779.3 1311.5 772 1311.8 761 1313.9 757.3 1313.8 750 1311.8 728 1300.2 720.6 1294.7 704.4 1279.3 701.4 1275.7 697.5 1268.3 696.4 1264.7 695.3 1257.3 694.9 1246.3 695.9 1239 698.7 1231.6 712.8 1206 720.6 1196.8 739 1181.5 742.7 1179 750 1175.3 757.3 1173.2Z"/>
<path fill="#00c7ff" d="M939.8 1114.3L940.7 1114.3 940.7 1143.3 939.9 1117.9ZM614.3 1143.6L618.3 1161.9 623.9 1195 626.6 1206 630.5 1217 634 1224.3 643.6 1238.8 647.8 1246.3 649 1250 650.2 1261 652.4 1268.3 656.6 1275.7 665.6 1287.2 670.2 1294 673.5 1301.3 678.9 1319.7 683.1 1327 687.6 1330.8 691.3 1332.2 698.6 1333.6 739 1334.5 768.3 1336.1 783 1335.9 808.7 1332.3 834.4 1331.6 849 1330.5 866.7 1327 874.7 1323.6 878.4 1318.3 883.4 1301.3 887 1294 893.1 1285 906.8 1268.3 911.3 1261 931.6 1217 935.5 1206 938.1 1195 939.7 1184 940.7 1168.2 940.7 1440.7 614.3 1440.7 614.3 1147.3ZM750.1 1180.3L757.3 1177.9 764.7 1176.9 790.3 1177.2 801.3 1179 808.7 1182 816 1186.7 834.3 1202.3 837.8 1206 842.8 1213.3 849.6 1228 850.8 1231.6 852.1 1239 852.1 1257.3 850.9 1264.7 847.9 1272 841.3 1283 834.4 1291 827 1296.4 819 1301.3 812.3 1306.8 805 1310.9 797.7 1311.9 790.3 1311 779.6 1308.7 775.7 1308.6 761 1310.6 757.3 1310.4 750 1308.2 731.6 1299.4 724.3 1294.5 706 1276.5 702.7 1272 700.8 1268.3 699.5 1264.7 698.3 1257.3 698 1246.3 699.2 1239 702.3 1231.6 706.8 1224.3 712.4 1213.3 717.2 1206 724.3 1198.7 742.7 1184.3 750 1180.3Z"/>
<path fill="#00f6ff" d="M751.4 1184L761 1181.2 768.3 1180.7 794 1181.4 805 1184.5 812.3 1188.5 816 1191.2 834.4 1206.6 839.5 1213.3 846.7 1228 848.1 1231.6 849.5 1239 849.6 1253.7 848.2 1264.7 845 1272 838.4 1283 831.6 1290.3 819.7 1297.9 812.3 1303.4 805 1307.5 801.3 1308.4 794 1308.7 779.3 1306.4 775.7 1306.4 761 1308.1 753.7 1307 750 1305.6 731.6 1296.8 724.3 1291.7 708.5 1275.7 703.6 1268.3 701.3 1261 700.6 1246.3 702 1239 705.3 1231.6 710 1224.3 715.8 1213.3 721.2 1206 728 1199.7 742.7 1188.6 750 1184.5ZM614.3 1213.3L614.3 1211.4 619 1220.6 623.6 1228 639.9 1249.2 641.9 1253.7 645 1264.7 646.6 1268.3 651 1275.7 663.2 1290.3 668.2 1297.7 671.3 1305 677.1 1323.4 680.3 1329 684 1332.7 687.6 1334.7 691.3 1335.9 698.6 1337 728 1337.6 768.3 1339.4 790.3 1338.8 816 1336.2 849 1334.3 863.7 1331.3 875 1327 879.2 1323.4 881.1 1319.7 885.7 1305 889.4 1297.4 894.2 1290.3 907.7 1274.2 914.2 1264.7 940.7 1213.5 940.7 1440.7 614.3 1440.7 614.3 1217Z"/>
<path fill="#26ffd9" d="M768 1184L786.7 1184.2 794 1184.9 805 1188.2 812.3 1192.3 829.9 1206 834.4 1210.6 838 1215.8 840.6 1220.6 844.2 1228 846.6 1235.3 847.6 1246.3 846.8 1261 844.4 1268.3 835.8 1283 832.6 1286.7 828.3 1290.3 808.7 1303.1 801.3 1305.9 797.7 1306.5 790.3 1306.2 779.3 1304.4 775.7 1304.5 764.7 1305.9 757.3 1305.6 750 1303.4 735.3 1296.6 725.8 1290.3 711.4 1275.7 706.2 1268.3 703.5 1261 702.8 1253.7 702.9 1246.3 704.4 1239 707.9 1231.6 720.6 1210.8 728 1203.3 746.3 1190 753.7 1186.6 764.7 1184.2ZM938.5 1231.6L940.7 1228 940.7 1440.7 614.3 1440.7 614.3 1235.1 628.9 1253 644.6 1275.7 658.3 1290.4 664.2 1297.7 668 1305 673.8 1323.4 677.7 1330.7 681 1334.4 684 1336.5 687.6 1338.2 695 1340 728 1340.8 750 1342.5 761 1342.8 797.7 1342 827 1339 849 1337.9 860 1335.7 874.7 1330.4 879.5 1327 882.4 1323.4 884.1 1319.7 887.6 1308.7 891.1 1301.3 896.7 1293.4 909 1279.3 914.5 1272 937.1 1233.9Z"/>
<path fill="#55ffaa" d="M762.2 1187.6L772 1186.7 790.3 1187.4 801.3 1190.1 808.7 1193.4 816 1198.2 826.2 1206 830.7 1210 836.1 1217 843.4 1231.6 844.5 1235.3 845.5 1242.7 845.2 1257.3 843.7 1264.7 838.3 1275.7 833.4 1283 827 1289 808.7 1300.8 801.3 1303.7 794 1304.5 779.3 1302.9 761 1304.1 753.7 1302.8 750 1301.3 735.3 1294.6 728 1289.9 724.3 1286.5 710.9 1272 706.8 1264.7 705.7 1261 704.7 1253.7 704.9 1246.3 705.5 1242.7 708.2 1235.3 720.6 1214.8 728.6 1206 742.7 1195.6 753.7 1189.9 761 1187.8ZM938.5 1242.7L940.7 1239.3 940.7 1440.7 614.3 1440.7 614.3 1253.4 624.8 1264.7 654.6 1292.4 661.9 1300.4 665.6 1307.6 669.2 1319.7 673 1328.6 676.7 1334.4 680.3 1337.9 684 1340.2 691.3 1342.8 698.6 1343.7 728 1343.9 753.7 1346.2 775.7 1345.3 797.7 1345.6 808.7 1344.9 827 1342.4 845.4 1341.9 852.7 1341 860 1339.2 867.4 1336.6 878.4 1331.3 882 1328.2 885.4 1323.4 889.4 1312.1 893.1 1304.3 896.7 1299.1 915.1 1278.5 937.1 1244.7Z"/>
<path fill="#85ff7a" d="M759.1 1191.3L764.7 1190.1 772 1189.3 786.7 1189.7 797.7 1191.9 808.7 1196.5 816 1201 822.7 1206 830.7 1213.3 836 1220.6 841.3 1231.6 842.5 1235.3 843.7 1242.7 843.4 1257.3 841.7 1264.7 836.4 1275.7 831.1 1283 827 1286.8 808.7 1298.8 801.3 1301.7 794 1302.6 775.7 1301.4 761 1302.4 757.3 1302 750 1299.6 735.3 1292.7 728 1287.7 713.3 1272 708.8 1264.7 707.6 1261 706.5 1253.7 706.8 1246.3 707.5 1242.7 710.4 1235.3 720.6 1218.6 728 1209.7 737 1202.3 746.3 1196.3 757.3 1191.8ZM940.4 1250L940.7 1440.7 614.3 1440.7 614.3 1267.8 647.3 1292.1 658.3 1301.7 661.9 1307.4 667.1 1323.4 670.6 1330.7 676.6 1338.8 680.3 1341.9 684 1344 687.6 1345.4 695 1346.9 706 1347.4 728 1347.1 750 1349.8 757.3 1349.8 775.7 1348.3 797.7 1349.3 805 1349.2 827 1346 845.4 1345.7 852.7 1344.9 863.7 1341.6 878.7 1334.4 883.4 1330.7 886.4 1327 888.4 1323.4 893.1 1310.6 896.7 1304.7 917.3 1283 937.7 1253.7Z"/>
<path fill="#b4ff4b" d="M756.5 1195L768.3 1192.3 779.3 1191.6 790.3 1193 801.3 1196.1 812.3 1201.3 823.9 1209.6 831.1 1217 834.4 1221.5 837.8 1228 841.4 1239 842.1 1250 841 1261 839.9 1264.7 836.6 1272 830.7 1280.9 824.6 1286.7 808.7 1296.9 801.3 1299.9 794 1300.9 779.3 1300 764.7 1300.9 757.3 1300.3 753.7 1299.4 739 1292.9 734.3 1290.3 729.3 1286.7 715.4 1272 710.8 1264.7 708.6 1257.3 708.2 1253.7 708.5 1246.3 710.7 1239 714.6 1231.6 724.3 1217.1 731.3 1209.6 742.7 1201.1 753.7 1195.9ZM939 1261L940.7 1258.9 940.7 1440.7 614.3 1440.7 614.3 1279.2 643.6 1296.1 650.9 1301.1 654.6 1304.2 658.3 1309 663.4 1323.4 669.3 1334.4 673 1339.6 676.6 1343.4 684 1348 691.3 1350.1 698.6 1351 709.6 1351.2 728 1350.5 750 1353.7 757.3 1353.6 775.7 1351.4 783 1351.6 797.7 1353.3 805 1353.4 812.3 1352.7 830.7 1349.8 845.4 1349.9 856.4 1348.4 867.4 1343.8 882 1335.7 885.7 1332.5 889.8 1327 896.7 1310.4 900.4 1306 913.8 1294 918.7 1288.9 937.1 1263.3Z"/>
<path fill="#e3ff1c" d="M768.3 1195L779.3 1194 786.7 1195 801.3 1199 812.3 1203.9 820.7 1209.6 828.5 1217 834.4 1225 838.7 1235.3 840.4 1246.3 840 1257.3 838.1 1264.7 832.6 1275.7 827 1282.5 819.7 1288.3 805 1296.9 797.7 1298.9 790.3 1299.3 779.3 1298.7 761 1299.3 757.3 1298.8 750 1296.4 735.3 1289.2 728 1283.5 714.8 1268.3 711.2 1261 709.8 1253.7 710.3 1246.3 711.2 1242.7 714.4 1235.3 724.3 1220.4 731.6 1212.2 739 1206 742.7 1203.6 753.7 1198.8 764.7 1195.7ZM940.5 1268.3L940.7 1440.7 614.3 1440.7 614.3 1290 639.9 1301.4 646.2 1305 650.9 1308.7 654.6 1313.6 663 1330.7 670.2 1341.7 676.6 1348.4 684 1352.4 691.3 1354.2 702.3 1355.3 728 1354.6 742.7 1357.5 750 1358.3 757.3 1358 775.7 1354.7 783 1355.2 797.7 1357.7 808.7 1357.9 830.7 1354.8 849 1354.7 856.4 1353.5 863.7 1350.7 882 1339.8 885.7 1337 891.3 1330.7 893.5 1327 898 1316 900.4 1312 904.1 1308.3 917.8 1297.7 921.7 1294 927.6 1286.7 937.4 1272Z"/>
<path fill="#ffec00" d="M764.1 1198.6L775.7 1196.7 783 1197.2 797.7 1200.5 808.7 1204.8 816 1208.7 825.8 1217 831.7 1224.3 835.5 1231.6 838.4 1242.7 838.7 1253.7 837.6 1261 836.5 1264.7 833 1272 827.9 1279.3 823.4 1283.8 808.7 1293.5 801.3 1296.5 794 1297.6 779.3 1297.4 764.7 1298 757.3 1297.3 750 1294.9 739 1289.6 734.2 1286.7 729.7 1283 717 1268.6 712.9 1261 711.5 1253.7 712 1246.3 712.9 1242.7 716.4 1235.3 724.3 1223.5 731.6 1215.2 742.7 1206.2 753.7 1201.6 761 1199.4ZM940.4 1279.3L940.7 1440.7 614.3 1440.7 614.3 1302 636.3 1309.4 643.6 1313.1 647.3 1316 650.9 1320.3 670.6 1349 676.6 1354.3 684 1357.6 691.3 1359 706 1360.5 728 1360.3 742.7 1363.3 750 1363.8 761 1362.8 775.7 1358.9 779.3 1358.9 794 1362.6 801.3 1363.5 808.7 1363.6 830.7 1361 852.7 1360.8 860 1359.2 867.4 1355.3 885.7 1342.2 889.4 1338.8 895.9 1330.7 904.1 1315.6 907.7 1312.2 922.4 1302.4 926.1 1299.1 930.5 1294 937.9 1283Z"/>
<path fill="#ffbd00" d="M760.7 1202.3L772 1200.2 779.3 1199.8 794 1202.3 805 1206 816 1211.5 823.4 1217.4 829.4 1224.3 833.6 1231.6 836.1 1239 837.2 1250 835.9 1261 833.2 1268.3 828.9 1275.7 822 1283 808.7 1291.9 801.3 1294.9 794 1296.1 768.3 1296.6 761 1296.4 753.7 1295 742.7 1290 736.8 1286.7 731.8 1283 721.5 1272 716.4 1264.7 713.6 1257.3 713.1 1250 714.7 1242.7 717 1237.7 720.6 1231.7 728 1222 731.6 1218.1 739 1211.9 746.3 1207.4 757.3 1203.2ZM940.2 1294L940.7 1293.2 940.7 1440.7 614.3 1440.7 614.3 1317.9 628.9 1322.6 639.9 1325.2 647.3 1329.2 654.6 1335.7 658.3 1339.7 665.6 1352.5 669.3 1356.9 676.6 1361.9 684 1364.3 731.6 1370.7 746.3 1371.8 757.3 1371.4 775.7 1368.1 779.3 1368 794 1370.4 801.3 1371 812.3 1370.9 834.4 1369.3 856.4 1370.2 860 1369.6 863.7 1368.4 871 1363.2 889.4 1346.5 899.5 1334.4 907.7 1322.1 910.1 1319.7 914.8 1316 926.1 1309.7 929.7 1307 937.7 1297.7Z"/>
<path fill="#ff8e00" d="M757.8 1206L768.3 1203.9 779.3 1203.4 790.3 1204.5 801.3 1207.4 812.3 1212.4 819.7 1217 827 1224.3 831.6 1231.6 834.4 1239.1 835.6 1250 835.1 1257.3 834.4 1260.8 831.5 1268.3 827 1275.7 819.7 1282.9 808.7 1290.3 801.3 1293.4 790.3 1294.7 768.3 1295.3 761 1295 753.7 1293.6 739.5 1286.7 731.6 1280.9 723.5 1272 717 1262.2 715.2 1257.3 714.7 1250 716.5 1242.7 720.6 1234.9 728 1224.9 735.3 1217.7 742.7 1212.5 750 1208.8 757.3 1206.1ZM937.4 1312.3L940.7 1308.7 940.7 1440.7 614.3 1440.7 614.3 1340.1 625.3 1342.7 639.9 1343.8 645.3 1345.4 649.4 1349 654.2 1360 657 1363.7 665.6 1370 673 1373.5 680.3 1375.6 702.3 1379.3 724.3 1385.1 731.6 1385.9 757.3 1385.2 775.7 1386.1 797.7 1383.2 823.4 1382 834.4 1382.5 852.7 1384.6 860 1384.5 867.4 1382.6 871 1380.8 878.4 1375 889.4 1363.3 900.6 1352.7 903.7 1349 908.8 1338 915.1 1329.5 918.7 1326.1 929.7 1318.6 937.1 1312.7Z"/>
<path fill="#ff5f00" d="M755.5 1209.6L764.7 1207.5 772 1206.9 786.7 1207.1 797.7 1209 805 1211.6 816 1217.2 819.7 1219.8 824.5 1224.3 829.5 1231.6 832.5 1239 833.9 1246.3 833.5 1257.3 831.4 1264.7 827.7 1272 823.4 1277.6 812.1 1286.7 805 1290.7 797.7 1292.4 779.3 1293.9 764.7 1293.8 753.7 1292.2 742.7 1286.9 735.3 1282 728.6 1275.7 720.1 1264.7 716.8 1257.3 716.3 1250 717 1246.2 720.6 1238.1 728 1227.9 735.3 1220.6 742.7 1215.5 753.7 1210.2ZM938.8 1327L940.7 1325.1 940.7 1440.7 614.3 1440.7 614.3 1373.4 639.9 1391.3 665.6 1407 676.6 1412.1 684 1414.2 691.3 1415.5 717 1418.5 724.3 1418.7 728 1418.3 757.3 1407.7 772 1404.9 786.7 1403.8 797.7 1403.5 808.6 1404.1 834.4 1408.4 841.7 1408.5 852.7 1407.7 860 1406.5 867.4 1404.6 878.4 1399.8 887.8 1393.1 907.7 1374.8 915.1 1367.5 918.7 1362.7 922.2 1356.4 926.2 1345.4 929.7 1338 937.1 1329Z"/>
<path fill="#ff3000" d="M753.4 1213.3L761 1211.2 768.3 1210.3 783 1210.2 794 1211.2 801.3 1213 812.3 1218 819.7 1222.5 825 1228 829.3 1235.3 831.6 1242.7 832.5 1250 832.4 1253.7 831 1261 828.1 1268.3 823.4 1275.4 814.8 1283 808.7 1287.4 805 1289.2 797.7 1290.8 775.7 1292.8 761 1291.9 753.7 1290.9 745.1 1286.7 735.3 1280.1 731.6 1277 724.6 1268.3 720 1261 718.6 1257.3 717.8 1253.7 717.9 1250 720.2 1242.7 724.6 1235.3 731.6 1226.6 739 1220.8 750 1214.8ZM940.1 1356.4L940.7 1355 940.7 1440.7 836.9 1440.7 852.7 1436.5 867.4 1430.7 882 1423 893.5 1415.1 907.7 1402.4 922.4 1386.2 930.7 1374.7 938.5 1360ZM614.3 1418.7L614.3 1417.5 636.3 1431.8 652.3 1440.7 614.3 1440.7 614.3 1422.4Z"/>
<path fill="#ff0000" d="M775 1213.3L790.3 1214 801.3 1215.9 805 1217.1 816 1222.9 822.5 1228 825.3 1231.6 828.6 1239 830.6 1246.3 831 1250 830.1 1257.3 826.4 1268.3 823.4 1273 812.4 1283 805 1287.7 775.7 1291.7 757.3 1290 753.7 1289.3 747.7 1286.7 735.3 1278.1 731.6 1274.9 722.1 1261 720.3 1257.3 719.4 1253.7 719.6 1250 720.5 1246.3 724.3 1239.2 729.7 1231.6 735.3 1226.4 744.3 1220.6 753.7 1216.1 761 1214.4 772 1213.4ZM939.2 1393.1L940.7 1390.7 940.7 1440.7 895 1440.7 907.7 1430.1 918.7 1419.2 928.6 1407.7 937.1 1396.3Z"/>
<path fill="#d00000" d="M772.3 1217L781.6 1217 797.7 1218.5 805 1220.2 812.3 1223.9 819 1228 823.4 1232.3 827 1240.8 828.4 1246.3 828.7 1250 828.1 1257.3 824.4 1268.3 821.6 1272 809.8 1283 801.5 1286.7 790.3 1287.4 783 1288.6 779.3 1290.4 775.7 1290.5 768.3 1288.5 753.7 1287.6 750.7 1286.7 739 1278 735.3 1276 731.6 1272.4 724.3 1261 721.6 1253.7 722.9 1246.3 724.3 1243.3 731.6 1232.6 735.3 1229.6 750 1220.8 753.7 1219.4 761 1218 772 1217ZM938.1 1426.1L940.7 1422.6 940.7 1440.7 925.6 1440.7 937.1 1427.4Z"/>
<path fill="#a10000" d="M765.1 1228L772 1227 779.3 1226.9 786.7 1227.8 794 1229.9 801.3 1233.5 805 1236.2 808.7 1239.9 812.4 1246.3 813.4 1250 813.5 1253.7 812.9 1257.3 811.4 1261 809.1 1264.7 805.6 1268.3 800.5 1272 794 1275.1 786.7 1277.2 779.3 1278.1 772 1278.1 764.7 1277 760 1275.7 753.7 1273 746.8 1268.3 743.3 1264.7 740.9 1261 739.5 1257.3 738.9 1253.7 739 1250 739.9 1246.3 742.7 1241.3 746.3 1237.1 750 1234.2 757.3 1230.3 764.7 1228.1Z"/>
</g>
<path fill="none" stroke="#000" stroke-width="0.8" stroke-opacity="0.85" stroke-linejoin="round" d="M656.3 1114.3L655.6 1132.6 652.8 1165.6 651.3 1176.6 647.6 1195 647.2 1202.3 647.7 1209.6 650 1220.6 656 1239 657.2 1246.3 657.7 1257.3 659.3 1264.7 662.8 1272 671.1 1283 675.7 1290.3 678.6 1297.7 682 1312.3 684 1317.6 688.2 1323.4 691.3 1325.5 698.6 1327.6 706 1328.2 724.3 1328.1 750 1326.8 757.3 1327.4 768.3 1329.6 775.7 1330.4 783 1329.7 790.8 1327 794.9 1323.4 793.7 1319.7 788.1 1316 779.3 1313.5 772 1313.9 761 1316.5 757.3 1316.9 750 1315 739.8 1308.7 728 1302.2 720.6 1297 702.3 1280.2 696.6 1272 693.5 1261 692.5 1250 692.8 1242.7 693.4 1239 696 1231.6 702.3 1220.6 707.8 1209.6 712.3 1202.3 717 1196.6 731.6 1183.4 742.7 1175.2 753.7 1170.5 761 1169.2 768.3 1168.8 794 1169.4 805 1171.7 812.3 1175 816 1177.3 823.4 1183.2 838 1197 842.7 1202.3 847.6 1209.6 854.1 1224.3 856.3 1231.6 857.5 1239 857.6 1253.7 857.1 1261 855.4 1268.3 851.8 1275.7 847.2 1283 841.7 1290.1 838 1293.8 822.7 1305 818.9 1308.7 813.6 1316 813.3 1319.7 816 1321.6 819.9 1323.4 827 1324.5 834.4 1324.9 852.7 1323.4 860 1321.9 867.4 1319.7 871 1316.9 873.4 1312.3 877.8 1297.7 882.7 1286.7 887.5 1279.3 900.4 1264.5 904.6 1257.3 918.3 1220.6 920.6 1213.3 922.1 1206 922.7 1198.6 922.5 1191.3 919.4 1173 912.3 1147.3 901.3 1114.3M752.7 1184L757.3 1182.4 764.7 1181.3 786.7 1181.3 797.7 1182.6 805 1185.1 812.3 1189.1 816 1191.8 834.4 1207.2 839 1213.3 846.3 1228 847.7 1231.6 849.2 1239 849.3 1253.7 847.8 1264.7 844.7 1272 838 1283 835 1286.7 831.1 1290.3 819.5 1297.7 812.3 1303 805 1307.1 797.7 1308.5 790.3 1308 779.3 1306.1 761 1307.8 753.7 1306.6 735.3 1298.4 727.7 1294 723.2 1290.3 709 1275.7 704 1268.3 702.6 1264.7 701.1 1257.3 700.9 1246.3 702.4 1239 705.7 1231.6 710.3 1224.3 716.2 1213.3 721.7 1206 728 1200.2 742.7 1189.2 750 1185ZM614.3 1215.5L619.3 1224.3 624.3 1231.6 638.7 1250 640.5 1253.7 644.1 1264.7 647.8 1272 653 1279.3 662.5 1290.3 667.6 1297.7 670.8 1305 676.6 1323.4 680.3 1329.7 684 1333.2 687.6 1335.2 691.3 1336.3 698.6 1337.5 728 1338 764.7 1339.9 790.3 1339.3 819.7 1336.4 849 1334.8 863.7 1331.8 871 1329.3 875.7 1327 879.6 1323.4 881.6 1319.7 885.7 1306.2 889.4 1298.4 894.9 1290.3 907.7 1275.2 914.9 1264.7 940.7 1215.9M757.6 1191.3L768.3 1189.2 783 1189.1 794 1190.6 805 1194.3 816 1200.6 823.4 1206.1 830.7 1212.8 836.3 1220.6 841.6 1231.6 842.7 1235.3 843.9 1242.7 843.7 1257.3 842 1264.7 836.6 1275.7 831.4 1283 827 1287.1 808.7 1299 801.3 1302 794 1302.9 775.7 1301.6 761 1302.7 757.3 1302.2 750 1299.8 735.3 1293 728 1288 713 1272 708.6 1264.7 707.3 1261 706.3 1253.7 706.5 1246.3 707.2 1242.7 710.1 1235.3 720.6 1218.1 727.6 1209.6 736.5 1202.3 746.3 1195.9 757.3 1191.4ZM614.3 1266.1L650.9 1294.2 658.3 1300.9 661.9 1306.2 667.6 1323.4 671.1 1330.7 676.6 1338.2 680.3 1341.3 684 1343.5 687.6 1344.9 695 1346.4 706 1346.9 728 1346.7 750 1349.2 757.3 1349.3 775.7 1347.9 805 1348.6 827 1345.4 845.4 1345.2 856.4 1343.6 863.7 1341.1 874.7 1336.2 882 1331.5 885.7 1327.4 888 1323.4 891.9 1312.3 896 1305 900.4 1299.8 910 1290.3 916.5 1283 940.7 1248.2M759.4 1198.6L772 1196 779.3 1195.5 794 1198.3 805 1202.1 816 1207.6 823.4 1213.5 830.7 1221.5 834.4 1227.3 836.3 1231.6 839.1 1242.7 839.4 1253.7 838.3 1261 837.1 1264.7 833.7 1272 828.7 1279.3 823.4 1284.6 808.7 1294.1 801.3 1297.2 794 1298.3 779.3 1297.9 764.7 1298.6 757.3 1297.9 753.7 1297 739.1 1290.3 731.6 1285.5 728 1282.2 718.7 1272 713.8 1264.7 711.3 1257.3 710.8 1253.7 711.3 1246.3 713.7 1239 720.6 1227.3 728 1217.8 739 1207.7 746.3 1203.4 757.3 1199.2ZM614.3 1296.9L636.3 1305.1 643.6 1308.7 647.3 1311.3 650.9 1315.2 660.1 1330.7 670 1345.4 673 1348.7 676.6 1351.8 684 1355.3 691.3 1357 702.3 1358.2 709.6 1358.4 728 1357.7 742.7 1360.8 750 1361.4 761 1360.4 775.7 1357 779.3 1357 797.7 1360.8 808.7 1361.1 830.7 1358.3 849 1358.3 856.4 1357.2 863.7 1354.4 882 1342.6 889.4 1336.4 893.9 1330.7 896.1 1327 900.4 1317.1 904 1312.3 923.4 1297.7 929.6 1290.3 940.7 1274.1M761.7 1206L772 1204.6 783 1204.6 794 1206.2 801.3 1208.3 812.3 1213.4 819.7 1217.9 826.2 1224.3 830.9 1231.6 834.4 1241.7 835.1 1250 834.4 1258.5 830.9 1268.3 826.4 1275.7 819.7 1282.3 808.7 1289.8 801.3 1292.9 790.3 1294.2 772 1294.9 761 1294.5 753.7 1293.1 740.4 1286.7 731.6 1280.3 721.3 1268.3 716.9 1261 715.2 1253.7 715.8 1246.3 717 1242.7 720.6 1235.9 728 1225.9 735.3 1218.6 742.7 1213.5 753.7 1208.3 761 1206.1ZM614.3 1348.7L628.9 1352.8 636.3 1356.2 639.9 1360.3 643.6 1365.6 647.3 1369.2 654.6 1373.5 669.3 1380.3 680.3 1383.8 698.6 1386.4 720.6 1391.8 731.6 1392.9 757.3 1391.4 775.7 1391.9 797.7 1388.7 816 1387.8 830.7 1388.4 849 1390.7 860 1390.7 867.4 1389.2 874.7 1385.7 882 1379.7 896.7 1365.4 907.7 1357.4 911.4 1352.7 913.8 1341.7 917.4 1334.4 922.4 1329 933.4 1320.4 940.7 1313.7M751.9 1217L761 1214.6 772 1213.6 786.7 1213.8 797.7 1215.2 805 1217.3 811.9 1220.6 819.7 1225.5 823.4 1229 827.1 1235.3 830.5 1246.3 830.7 1253.7 829 1261 826.3 1268.3 823.4 1272.9 812.2 1283 805 1287.6 775.7 1291.6 753.7 1289.2 747.9 1286.7 735.3 1278 731.6 1274.8 729.5 1272 724.3 1264.6 720.4 1257.3 719.5 1253.7 719.6 1250 720.6 1246.3 724.6 1239 731.6 1229.6 739 1224 750 1217.8ZM896.9 1440.7L907.7 1431.6 920.5 1418.7 929.8 1407.7 940.7 1392.4"/>
</g>
<circle cx="777.5" cy="1277.5" r="154.8" fill="none" stroke="#fff" stroke-width="3.5" filter="url(#bh)"/>
<g fill="#050510" fill-opacity="0.75"><circle cx="737.4" cy="1163.3" r="1.9"/><circle cx="817.3" cy="1162.7" r="1.9"/><circle cx="700.4" cy="1180.5" r="1.9"/><circle cx="854.3" cy="1180.5" r="1.9"/><circle cx="671.1" cy="1211.6" r="1.9"/><circle cx="884.0" cy="1211.2" r="1.9"/><circle cx="697.8" cy="1216.8" r="1.9"/><circle cx="724.9" cy="1221.1" r="1.9"/><circle cx="831.5" cy="1220.7" r="1.9"/><circle cx="858.3" cy="1216.8" r="1.9"/><circle cx="687.3" cy="1255.2" r="1.9"/><circle cx="837.1" cy="1254.4" r="1.9"/><circle cx="868.2" cy="1254.4" r="1.9"/><circle cx="688.9" cy="1291.8" r="1.9"/><circle cx="720.0" cy="1286.9" r="1.9"/><circle cx="777.6" cy="1282.9" r="1.9"/><circle cx="806.8" cy="1284.1" r="1.9"/><circle cx="835.9" cy="1286.5" r="1.9"/><circle cx="866.8" cy="1289.5" r="1.9"/><circle cx="725.9" cy="1314.2" r="1.9"/><circle cx="752.3" cy="1310.3" r="1.9"/><circle cx="777.6" cy="1308.9" r="1.9"/><circle cx="804.8" cy="1309.9" r="1.9"/><circle cx="830.5" cy="1313.8" r="1.9"/><circle cx="698.8" cy="1322.2" r="1.9"/><circle cx="857.3" cy="1320.6" r="1.9"/><circle cx="671.1" cy="1333.1" r="1.9"/><circle cx="648.9" cy="1345.9" r="1.9"/><circle cx="906.4" cy="1346.5" r="1.9"/><circle cx="715.2" cy="1347.5" r="1.9"/><circle cx="735.0" cy="1339.0" r="1.9"/><circle cx="756.2" cy="1335.0" r="1.9"/><circle cx="777.6" cy="1333.1" r="1.9"/><circle cx="799.8" cy="1333.1" r="1.9"/><circle cx="840.4" cy="1347.5" r="1.9"/><circle cx="746.7" cy="1361.4" r="1.9"/><circle cx="777.6" cy="1357.8" r="1.9"/><circle cx="808.7" cy="1361.4" r="1.9"/><circle cx="749.9" cy="1381.6" r="1.9"/><circle cx="777.6" cy="1382.0" r="1.9"/><circle cx="805.4" cy="1381.6" r="1.9"/><circle cx="861.2" cy="1357.8" r="1.9"/><circle cx="694.8" cy="1357.8" r="1.9"/><circle cx="929.0" cy="1250.8" r="1.9"/><circle cx="738.4" cy="1188.4" r="1.9"/><circle cx="817.3" cy="1188.4" r="1.9"/><circle cx="751.9" cy="1223.5" r="1.9"/><circle cx="777.4" cy="1224.1" r="1.9"/><circle cx="805.2" cy="1223.1" r="1.9"/><circle cx="719.0" cy="1254.8" r="1.9"/><circle cx="748.9" cy="1254.8" r="1.9"/><circle cx="806.8" cy="1254.4" r="1.9"/><circle cx="749.3" cy="1283.5" r="1.9"/><circle cx="821.0" cy="1338.0" r="1.9"/><circle cx="897.9" cy="1298.4" r="1.9"/><circle cx="882.6" cy="1332.5" r="1.9"/><circle cx="626.5" cy="1250.0" r="1.9"/></g>
<g fill="none" stroke="#000" stroke-linecap="round" stroke-linejoin="round">
<ellipse cx="778.0" cy="1276.7" rx="110.4" ry="114.0" stroke-width="5.4"/>
<path d="M756.5 1166.2L770.0 1147.2Q772.5 1143.4 776.0 1143.4L780.0 1143.4Q783.5 1143.4 786.0 1147.2L799.5 1166.2" stroke-width="5.4"/>
<path d="M669.5 1248.5L661.5 1248.0Q655.6 1248.0 655.4 1255.0L654.5 1299.0Q654.3 1307.5 661.5 1307.0L670.5 1304.5" stroke-width="4.428"/>
<path d="M886.5 1248.5L894.5 1248.0Q900.4 1248.0 900.6 1255.0L901.5 1299.0Q901.7 1307.5 894.5 1307.0L885.5 1304.5" stroke-width="4.428"/>
</g>
<g fill="#111" fill-opacity="1"><circle cx="1322.0" cy="1163.3" r="2.9"/><circle cx="1401.9" cy="1162.7" r="2.9"/><circle cx="1285.0" cy="1180.5" r="2.9"/><circle cx="1438.9" cy="1180.5" r="2.9"/><circle cx="1255.7" cy="1211.6" r="2.9"/><circle cx="1468.6" cy="1211.2" r="2.9"/><circle cx="1282.4" cy="1216.8" r="2.9"/><circle cx="1309.5" cy="1221.1" r="2.9"/><circle cx="1416.1" cy="1220.7" r="2.9"/><circle cx="1442.9" cy="1216.8" r="2.9"/><circle cx="1271.9" cy="1255.2" r="2.9"/><circle cx="1421.7" cy="1254.4" r="2.9"/><circle cx="1452.8" cy="1254.4" r="2.9"/><circle cx="1273.5" cy="1291.8" r="2.9"/><circle cx="1304.6" cy="1286.9" r="2.9"/><circle cx="1362.2" cy="1282.9" r="2.9"/><circle cx="1391.4" cy="1284.1" r="2.9"/><circle cx="1420.5" cy="1286.5" r="2.9"/><circle cx="1451.4" cy="1289.5" r="2.9"/><circle cx="1310.5" cy="1314.2" r="2.9"/><circle cx="1336.9" cy="1310.3" r="2.9"/><circle cx="1362.2" cy="1308.9" r="2.9"/><circle cx="1389.4" cy="1309.9" r="2.9"/><circle cx="1415.1" cy="1313.8" r="2.9"/><circle cx="1283.4" cy="1322.2" r="2.9"/><circle cx="1441.9" cy="1320.6" r="2.9"/><circle cx="1255.7" cy="1333.1" r="2.9"/><circle cx="1233.5" cy="1345.9" r="2.9"/><circle cx="1491.0" cy="1346.5" r="2.9"/><circle cx="1299.8" cy="1347.5" r="2.9"/><circle cx="1319.6" cy="1339.0" r="2.9"/><circle cx="1340.8" cy="1335.0" r="2.9"/><circle cx="1362.2" cy="1333.1" r="2.9"/><circle cx="1384.4" cy="1333.1" r="2.9"/><circle cx="1425.0" cy="1347.5" r="2.9"/><circle cx="1331.3" cy="1361.4" r="2.9"/><circle cx="1362.2" cy="1357.8" r="2.9"/><circle cx="1393.3" cy="1361.4" r="2.9"/><circle cx="1334.5" cy="1381.6" r="2.9"/><circle cx="1362.2" cy="1382.0" r="2.9"/><circle cx="1390.0" cy="1381.6" r="2.9"/><circle cx="1445.8" cy="1357.8" r="2.9"/><circle cx="1279.4" cy="1357.8" r="2.9"/><circle cx="1513.6" cy="1250.8" r="2.9"/></g><g fill="#d9261c" stroke="#b01c14" stroke-width="1"><circle cx="1323.0" cy="1188.4" r="6.1"/><circle cx="1401.9" cy="1188.4" r="6.1"/><circle cx="1336.5" cy="1223.5" r="6.1"/><circle cx="1362.0" cy="1224.1" r="6.1"/><circle cx="1389.8" cy="1223.1" r="6.1"/><circle cx="1303.6" cy="1254.8" r="6.1"/><circle cx="1333.5" cy="1254.8" r="6.1"/><circle cx="1391.4" cy="1254.4" r="6.1"/><circle cx="1333.9" cy="1283.5" r="6.1"/><circle cx="1405.6" cy="1338.0" r="6.1"/><circle cx="1482.5" cy="1298.4" r="6.1"/><circle cx="1467.2" cy="1332.5" r="6.1"/><circle cx="1211.1" cy="1250.0" r="6.1"/></g>
<g fill="none" stroke="#000" stroke-linecap="round" stroke-linejoin="round">
<ellipse cx="1362.6" cy="1276.7" rx="110.4" ry="114.0" stroke-width="5.4"/>
<path d="M1341.1 1166.2L1354.6 1147.2Q1357.1 1143.4 1360.6 1143.4L1364.6 1143.4Q1368.1 1143.4 1370.6 1147.2L1384.1 1166.2" stroke-width="5.4"/>
<path d="M1254.1 1248.5L1243.0 1248.0Q1237.1 1248.0 1236.9 1255.0L1236.0 1299.0Q1235.8 1307.5 1243.0 1307.0L1255.1 1304.5" stroke-width="4.428"/>
<path d="M1471.1 1248.5L1482.2 1248.0Q1488.1 1248.0 1488.3 1255.0L1489.2 1299.0Q1489.4 1307.5 1482.2 1307.0L1470.1 1304.5" stroke-width="4.428"/>
</g>
<defs><linearGradient id="cb2" x1="0" y1="0" x2="0" y2="1">
<stop offset="0" stop-color="#4a0808"/>
<stop offset="0.04" stop-color="#7c1414"/>
<stop offset="0.14" stop-color="#a8382a"/>
<stop offset="0.24" stop-color="#cc7040"/>
<stop offset="0.32" stop-color="#e8a850"/>
<stop offset="0.4" stop-color="#f6de6c"/>
<stop offset="0.47" stop-color="#dcebb0"/>
<stop offset="0.53" stop-color="#b4e0dc"/>
<stop offset="0.62" stop-color="#64bee6"/>
<stop offset="0.7" stop-color="#3c94d2"/>
<stop offset="0.745" stop-color="#2f78c0"/>
<stop offset="0.755" stop-color="#2040b0"/>
<stop offset="0.86" stop-color="#14288c"/>
<stop offset="1" stop-color="#060a40"/>
</linearGradient></defs>
<rect x="962.4" y="1113.0" width="7.9" height="327.5" fill="url(#cb2)" stroke="#000" stroke-opacity=".3" stroke-width="1"/>
<path d="M962.4 1276.8h7.9" stroke="#111" stroke-opacity=".7" stroke-width="1"/>
<text x="979.3" y="1124.4" font-size="26.6" fill="#4d4d4d">2.6</text>
<text x="979.3" y="1206.7" font-size="26.6" fill="#4d4d4d">2.1</text>
<text x="979.3" y="1289.0" font-size="26.6" fill="#4d4d4d">1.5</text>
<text x="979.3" y="1371.3" font-size="26.6" fill="#4d4d4d">0.9</text>
<text x="979.3" y="1453.6" font-size="26.6" fill="#4d4d4d">0.4</text>
<text transform="translate(197.3 1106) scale(.95 1)" font-size="39" font-weight="bold" fill="#0c0c0c" text-anchor="middle">PT</text>
<text transform="translate(777.4 1107.6) scale(.955 1)" font-size="37" font-weight="bold" fill="#0c0c0c" text-anchor="middle">HC</text>
<text transform="translate(1350.5 1104) scale(1.125 1)" font-size="24.5" font-weight="bold" fill="#1c1c1c" text-anchor="middle">group(p&lt;0.05)param</text>
<rect x="95.0" y="86.0" width="502.5" height="842.5" fill="none" stroke="#2a2a2a" stroke-opacity=".55" stroke-width="1.5"/>
<line x1="212.8" y1="86.0" x2="212.8" y2="928.5" stroke="#000" stroke-opacity=".85" stroke-width="1.5" stroke-dasharray="2 1.1"/>
<path d="M212.8 928.5v-7M212.8 86.0v7" stroke="#2a2a2a" stroke-opacity=".6" stroke-width="1.4"/>
<text transform="translate(212.8 959.8) scale(1.05 1)" font-size="20" fill="#4a4a4a" text-anchor="middle">0</text>
<path d="M346.2 928.5v-7M346.2 86.0v7" stroke="#2a2a2a" stroke-opacity=".6" stroke-width="1.4"/>
<text transform="translate(346.2 959.8) scale(1.05 1)" font-size="20" fill="#4a4a4a" text-anchor="middle">500</text>
<path d="M479.6 928.5v-7M479.6 86.0v7" stroke="#2a2a2a" stroke-opacity=".6" stroke-width="1.4"/>
<text transform="translate(479.6 959.8) scale(1.05 1)" font-size="20" fill="#4a4a4a" text-anchor="middle">1000</text>
<text transform="translate(85.2 94.2) scale(1.07 1)" font-size="20" fill="#4a4a4a" text-anchor="end">35</text>
<path d="M95.0 116.7h7M597.5 116.7h-7" stroke="#2a2a2a" stroke-opacity=".6" stroke-width="1.4"/>
<text transform="translate(85.2 124.9) scale(1.07 1)" font-size="20" fill="#4a4a4a" text-anchor="end">32</text>
<path d="M95.0 150.5h7M597.5 150.5h-7" stroke="#2a2a2a" stroke-opacity=".6" stroke-width="1.4"/>
<text transform="translate(85.2 158.7) scale(1.07 1)" font-size="20" fill="#4a4a4a" text-anchor="end">29</text>
<path d="M95.0 187.9h7M597.5 187.9h-7" stroke="#2a2a2a" stroke-opacity=".6" stroke-width="1.4"/>
<text transform="translate(85.2 196.1) scale(1.07 1)" font-size="20" fill="#4a4a4a" text-anchor="end">26</text>
<path d="M95.0 230.0h7M597.5 230.0h-7" stroke="#2a2a2a" stroke-opacity=".6" stroke-width="1.4"/>
<text transform="translate(85.2 238.2) scale(1.07 1)" font-size="20" fill="#4a4a4a" text-anchor="end">23</text>
<path d="M95.0 261.2h7M597.5 261.2h-7" stroke="#2a2a2a" stroke-opacity=".6" stroke-width="1.4"/>
<text transform="translate(85.2 269.4) scale(1.07 1)" font-size="20" fill="#4a4a4a" text-anchor="end">21</text>
<path d="M95.0 295.5h7M597.5 295.5h-7" stroke="#2a2a2a" stroke-opacity=".6" stroke-width="1.4"/>
<text transform="translate(85.2 303.7) scale(1.07 1)" font-size="20" fill="#4a4a4a" text-anchor="end">19</text>
<path d="M95.0 333.6h7M597.5 333.6h-7" stroke="#2a2a2a" stroke-opacity=".6" stroke-width="1.4"/>
<text transform="translate(85.2 341.8) scale(1.07 1)" font-size="20" fill="#4a4a4a" text-anchor="end">17</text>
<path d="M95.0 376.6h7M597.5 376.6h-7" stroke="#2a2a2a" stroke-opacity=".6" stroke-width="1.4"/>
<text transform="translate(85.2 384.8) scale(1.07 1)" font-size="20" fill="#4a4a4a" text-anchor="end">15</text>
<path d="M95.0 425.6h7M597.5 425.6h-7" stroke="#2a2a2a" stroke-opacity=".6" stroke-width="1.4"/>
<text transform="translate(85.2 433.8) scale(1.07 1)" font-size="20" fill="#4a4a4a" text-anchor="end">13</text>
<path d="M95.0 482.9h7M597.5 482.9h-7" stroke="#2a2a2a" stroke-opacity=".6" stroke-width="1.4"/>
<text transform="translate(85.2 491.1) scale(1.07 1)" font-size="20" fill="#4a4a4a" text-anchor="end">11</text>
<path d="M95.0 551.7h7M597.5 551.7h-7" stroke="#2a2a2a" stroke-opacity=".6" stroke-width="1.4"/>
<text transform="translate(85.2 559.9) scale(1.07 1)" font-size="20" fill="#4a4a4a" text-anchor="end">9</text>
<path d="M95.0 637.9h7M597.5 637.9h-7" stroke="#2a2a2a" stroke-opacity=".6" stroke-width="1.4"/>
<text transform="translate(85.2 646.1) scale(1.07 1)" font-size="20" fill="#4a4a4a" text-anchor="end">7</text>
<path d="M95.0 753.3h7M597.5 753.3h-7" stroke="#2a2a2a" stroke-opacity=".6" stroke-width="1.4"/>
<text transform="translate(85.2 761.5) scale(1.07 1)" font-size="20" fill="#4a4a4a" text-anchor="end">5</text>
<text transform="translate(85.2 936.7) scale(1.07 1)" font-size="20" fill="#4a4a4a" text-anchor="end">3</text>
<text transform="translate(346.6 990) scale(1.075 1)" font-size="22" fill="#4a4a4a" text-anchor="middle">Time (ms)</text>
<rect x="934.0" y="86.0" width="502.5" height="842.5" fill="none" stroke="#2a2a2a" stroke-opacity=".55" stroke-width="1.5"/>
<line x1="1051.8" y1="86.0" x2="1051.8" y2="928.5" stroke="#000" stroke-opacity=".85" stroke-width="1.5" stroke-dasharray="2 1.1"/>
<path d="M1051.8 928.5v-7M1051.8 86.0v7" stroke="#2a2a2a" stroke-opacity=".6" stroke-width="1.4"/>
<text transform="translate(1051.8 959.8) scale(1.05 1)" font-size="20" fill="#4a4a4a" text-anchor="middle">0</text>
<path d="M1185.2 928.5v-7M1185.2 86.0v7" stroke="#2a2a2a" stroke-opacity=".6" stroke-width="1.4"/>
<text transform="translate(1185.2 959.8) scale(1.05 1)" font-size="20" fill="#4a4a4a" text-anchor="middle">500</text>
<path d="M1318.6 928.5v-7M1318.6 86.0v7" stroke="#2a2a2a" stroke-opacity=".6" stroke-width="1.4"/>
<text transform="translate(1318.6 959.8) scale(1.05 1)" font-size="20" fill="#4a4a4a" text-anchor="middle">1000</text>
<text transform="translate(924.2 94.2) scale(1.07 1)" font-size="20" fill="#4a4a4a" text-anchor="end">35</text>
<path d="M934.0 116.7h7M1436.5 116.7h-7" stroke="#2a2a2a" stroke-opacity=".6" stroke-width="1.4"/>
<text transform="translate(924.2 124.9) scale(1.07 1)" font-size="20" fill="#4a4a4a" text-anchor="end">32</text>
<path d="M934.0 150.5h7M1436.5 150.5h-7" stroke="#2a2a2a" stroke-opacity=".6" stroke-width="1.4"/>
<text transform="translate(924.2 158.7) scale(1.07 1)" font-size="20" fill="#4a4a4a" text-anchor="end">29</text>
<path d="M934.0 187.9h7M1436.5 187.9h-7" stroke="#2a2a2a" stroke-opacity=".6" stroke-width="1.4"/>
<text transform="translate(924.2 196.1) scale(1.07 1)" font-size="20" fill="#4a4a4a" text-anchor="end">26</text>
<path d="M934.0 230.0h7M1436.5 230.0h-7" stroke="#2a2a2a" stroke-opacity=".6" stroke-width="1.4"/>
<text transform="translate(924.2 238.2) scale(1.07 1)" font-size="20" fill="#4a4a4a" text-anchor="end">23</text>
<path d="M934.0 261.2h7M1436.5 261.2h-7" stroke="#2a2a2a" stroke-opacity=".6" stroke-width="1.4"/>
<text transform="translate(924.2 269.4) scale(1.07 1)" font-size="20" fill="#4a4a4a" text-anchor="end">21</text>
<path d="M934.0 295.5h7M1436.5 295.5h-7" stroke="#2a2a2a" stroke-opacity=".6" stroke-width="1.4"/>
<text transform="translate(924.2 303.7) scale(1.07 1)" font-size="20" fill="#4a4a4a" text-anchor="end">19</text>
<path d="M934.0 333.6h7M1436.5 333.6h-7" stroke="#2a2a2a" stroke-opacity=".6" stroke-width="1.4"/>
<text transform="translate(924.2 341.8) scale(1.07 1)" font-size="20" fill="#4a4a4a" text-anchor="end">17</text>
<path d="M934.0 376.6h7M1436.5 376.6h-7" stroke="#2a2a2a" stroke-opacity=".6" stroke-width="1.4"/>
<text transform="translate(924.2 384.8) scale(1.07 1)" font-size="20" fill="#4a4a4a" text-anchor="end">15</text>
<path d="M934.0 425.6h7M1436.5 425.6h-7" stroke="#2a2a2a" stroke-opacity=".6" stroke-width="1.4"/>
<text transform="translate(924.2 433.8) scale(1.07 1)" font-size="20" fill="#4a4a4a" text-anchor="end">13</text>
<path d="M934.0 482.9h7M1436.5 482.9h-7" stroke="#2a2a2a" stroke-opacity=".6" stroke-width="1.4"/>
<text transform="translate(924.2 491.1) scale(1.07 1)" font-size="20" fill="#4a4a4a" text-anchor="end">11</text>
<path d="M934.0 551.7h7M1436.5 551.7h-7" stroke="#2a2a2a" stroke-opacity=".6" stroke-width="1.4"/>
<text transform="translate(924.2 559.9) scale(1.07 1)" font-size="20" fill="#4a4a4a" text-anchor="end">9</text>
<path d="M934.0 637.9h7M1436.5 637.9h-7" stroke="#2a2a2a" stroke-opacity=".6" stroke-width="1.4"/>
<text transform="translate(924.2 646.1) scale(1.07 1)" font-size="20" fill="#4a4a4a" text-anchor="end">7</text>
<path d="M934.0 753.3h7M1436.5 753.3h-7" stroke="#2a2a2a" stroke-opacity=".6" stroke-width="1.4"/>
<text transform="translate(924.2 761.5) scale(1.07 1)" font-size="20" fill="#4a4a4a" text-anchor="end">5</text>
<text transform="translate(924.2 936.7) scale(1.07 1)" font-size="20" fill="#4a4a4a" text-anchor="end">3</text>
<text transform="translate(1185.7 990) scale(1.075 1)" font-size="22" fill="#4a4a4a" text-anchor="middle">Time (ms)</text>
<text transform="translate(48.4 507) rotate(-90) scale(1.15 1)" font-size="21" fill="#4a4a4a" text-anchor="middle">Frequency (Hz)</text>
<text x="6.2" y="32.2" font-size="31.3" font-weight="bold" fill="#111">(A)</text>
<text x="6.2" y="1064" font-size="31.3" font-weight="bold" fill="#111">(B)</text>
<text transform="translate(318.4 61) scale(.95 1)" font-size="40.5" font-weight="bold" fill="#0c0c0c" text-anchor="middle">PT</text>
<text transform="translate(1169 65.7) scale(.95 1)" font-size="38.5" font-weight="bold" fill="#0c0c0c" text-anchor="middle">HC</text>
<rect x="1452.2" y="86.0" width="24.8" height="842.5" fill="none" stroke="#2a2a2a" stroke-opacity=".45" stroke-width="1"/>
<text x="1483.5" y="92.3" font-size="14" fill="#5a5a5a">1.8</text>
<path d="M1452.2 296.6h4M1477.0 296.6h-4" stroke="#2a2a2a" stroke-opacity=".5" stroke-width="1"/>
<text x="1483.5" y="302.9" font-size="14" fill="#5a5a5a">0.9</text>
<path d="M1452.2 507.2h4M1477.0 507.2h-4" stroke="#2a2a2a" stroke-opacity=".5" stroke-width="1"/>
<text x="1483.5" y="513.5" font-size="14" fill="#5a5a5a">0</text>
<path d="M1452.2 717.9h4M1477.0 717.9h-4" stroke="#2a2a2a" stroke-opacity=".5" stroke-width="1"/>
<text x="1483.5" y="724.2" font-size="14" fill="#5a5a5a">-0.9</text>
<text x="1483.5" y="934.8" font-size="14" fill="#5a5a5a">-1.8</text>
<text transform="translate(1464.4 79.4) scale(1.25 1)" font-size="14" fill="#444" text-anchor="middle">dB</text>
</svg>
</body></html>
